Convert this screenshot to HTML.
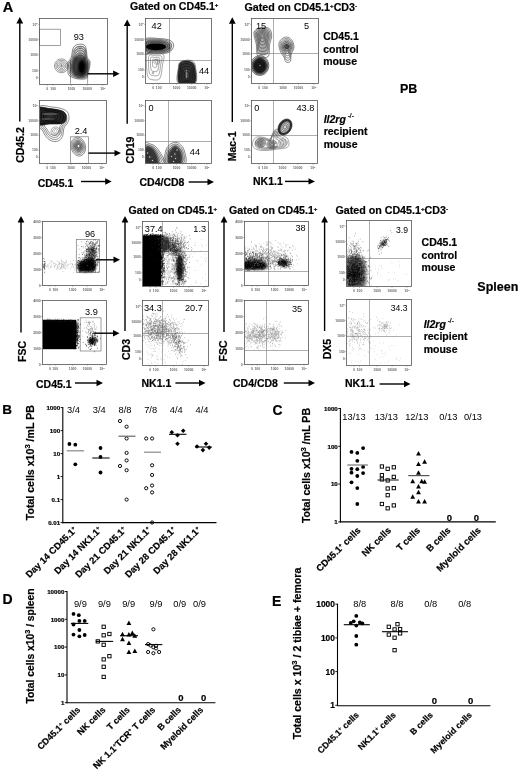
<!DOCTYPE html>
<html><head><meta charset="utf-8"><style>
html,body{margin:0;padding:0;background:#fff;}
svg{display:block;font-family:"Liberation Sans",Arial,sans-serif;}
.b{stroke:#000;stroke-width:0.2px;}
</style></head><body>
<svg width="520" height="772" viewBox="0 0 520 772">
<rect width="520" height="772" fill="#fff"/>
<line x1="169.5" y1="18.5" x2="169.5" y2="83" stroke="#777" stroke-width="0.6" />
<line x1="145" y1="60.5" x2="211.5" y2="60.5" stroke="#777" stroke-width="0.6" />
<line x1="168.5" y1="100.8" x2="168.5" y2="163.2" stroke="#777" stroke-width="0.6" />
<line x1="145.2" y1="141.5" x2="211.2" y2="141.5" stroke="#777" stroke-width="0.6" />
<line x1="273.5" y1="18.5" x2="273.5" y2="83.6" stroke="#777" stroke-width="0.6" />
<line x1="251.3" y1="53.5" x2="318" y2="53.5" stroke="#777" stroke-width="0.6" />
<line x1="273.5" y1="100.5" x2="273.5" y2="163.6" stroke="#777" stroke-width="0.6" />
<line x1="251.3" y1="135.5" x2="317.5" y2="135.5" stroke="#777" stroke-width="0.6" />
<line x1="162.5" y1="221" x2="162.5" y2="286.3" stroke="#777" stroke-width="0.6" />
<line x1="142.5" y1="251.5" x2="208" y2="251.5" stroke="#777" stroke-width="0.6" />
<line x1="162.5" y1="300.5" x2="162.5" y2="365.5" stroke="#777" stroke-width="0.6" />
<line x1="142.3" y1="333.5" x2="208" y2="333.5" stroke="#777" stroke-width="0.6" />
<line x1="268.5" y1="221.3" x2="268.5" y2="285.4" stroke="#777" stroke-width="0.6" />
<line x1="244.2" y1="271.5" x2="308.5" y2="271.5" stroke="#777" stroke-width="0.6" />
<line x1="266.5" y1="300.5" x2="266.5" y2="364.6" stroke="#777" stroke-width="0.6" />
<line x1="244.2" y1="350.5" x2="308.7" y2="350.5" stroke="#777" stroke-width="0.6" />
<line x1="369.5" y1="220.8" x2="369.5" y2="286.4" stroke="#777" stroke-width="0.6" />
<line x1="346.3" y1="258.5" x2="411.5" y2="258.5" stroke="#777" stroke-width="0.6" />
<line x1="369.5" y1="299.8" x2="369.5" y2="365.5" stroke="#777" stroke-width="0.6" />
<line x1="346.2" y1="336.5" x2="411" y2="336.5" stroke="#777" stroke-width="0.6" />
<rect x="39.5" y="29.2" width="20.9" height="16.2" fill="none" stroke="#777" stroke-width="0.7"/>
<rect x="70.5" y="136.8" width="18" height="26.5" fill="none" stroke="#777" stroke-width="0.7"/>
<rect x="76.3" y="239.5" width="23.2" height="32.8" fill="none" stroke="#777" stroke-width="0.7"/>
<rect x="80.2" y="317.8" width="20.8" height="33.2" fill="none" stroke="#777" stroke-width="0.7"/>
<defs><filter id="b1" x="-30%" y="-30%" width="160%" height="160%"><feGaussianBlur stdDeviation="0.8"/></filter><filter id="b2" x="-30%" y="-30%" width="160%" height="160%"><feGaussianBlur stdDeviation="1.5"/></filter><filter id="b05" x="-30%" y="-30%" width="160%" height="160%"><feGaussianBlur stdDeviation="0.45"/></filter>
<clipPath id="cP1"><rect x="39.5" y="18.5" width="67.7" height="65.7"/></clipPath>
<clipPath id="cP2"><rect x="145" y="18.5" width="66.5" height="64.5"/></clipPath>
<clipPath id="cP3"><rect x="251.3" y="18.5" width="66.7" height="65.1"/></clipPath>
<clipPath id="cP4"><rect x="39.8" y="100.5" width="66.8" height="62.8"/></clipPath>
<clipPath id="cP5"><rect x="145.2" y="100.8" width="66" height="62.4"/></clipPath>
<clipPath id="cP6"><rect x="251.3" y="100.5" width="66.2" height="63.1"/></clipPath>
<clipPath id="cS1"><rect x="42.5" y="221" width="64" height="64.5"/></clipPath>
<clipPath id="cS2"><rect x="142.5" y="221" width="65.5" height="65.3"/></clipPath>
<clipPath id="cS3"><rect x="244.2" y="221.3" width="64.3" height="64.1"/></clipPath>
<clipPath id="cS4"><rect x="346.3" y="220.8" width="65.2" height="65.6"/></clipPath>
<clipPath id="cS5"><rect x="42.5" y="300.5" width="63.8" height="64.1"/></clipPath>
<clipPath id="cS6"><rect x="142.3" y="300.5" width="65.7" height="65"/></clipPath>
<clipPath id="cS7"><rect x="244.2" y="300.5" width="64.5" height="64.1"/></clipPath>
<clipPath id="cS8"><rect x="346.2" y="299.8" width="64.8" height="65.7"/></clipPath>
</defs>
<line x1="70.5" y1="60" x2="70.5" y2="83.8" stroke="#777" stroke-width="0.7" />
<line x1="87.6" y1="60" x2="87.6" y2="83.8" stroke="#777" stroke-width="0.7" />
<g clip-path="url(#cP1)"><path d="M74 57C75.83 55.17 79.83 54.5 82 55C84.17 55.5 86 57.83 87 60C88 62.17 88.17 65.33 88 68C87.83 70.67 87.33 74.33 86 76C84.67 77.67 82.17 78.17 80 78C77.83 77.83 74.5 77 73 75C71.5 73 70.83 69 71 66C71.17 63 72.17 58.83 74 57Z" fill="#000" fill-opacity="0.75" filter="url(#b2)"/></g>
<g clip-path="url(#cP1)"><path d="M86 67.5C86 68.75 85.8 70.17 85.46 71.25C85.13 72.33 84.58 73.37 84 74C83.42 74.62 82.67 75 82 75C81.33 75 80.58 74.62 80 74C79.42 73.37 78.87 72.33 78.54 71.25C78.2 70.17 78 68.75 78 67.5C78 66.25 78.2 64.83 78.54 63.75C78.87 62.67 79.42 61.63 80 61C80.58 60.38 81.33 60 82 60C82.67 60 83.42 60.38 84 61C84.58 61.63 85.13 62.67 85.46 63.75C85.8 64.83 86 66.25 86 67.5Z" fill="#000" fill-opacity="1" filter="url(#b1)"/></g>
<g clip-path="url(#cP1)"><path d="M71.2 57.5C72.12 54.95 72.13 49.98 73.3 47.8C74.47 45.62 76.35 44.85 78.2 44.4C80.05 43.95 83.02 44.07 84.4 45.1C85.78 46.13 86.03 48.53 86.5 50.6C86.97 52.67 86.62 55.65 87.2 57.5C87.78 59.35 89.67 59.85 90 61.7C90.33 63.55 89.6 66.52 89.2 68.6C88.8 70.68 88.05 72.58 87.6 74.2C87.15 75.82 87.38 77.5 86.5 78.3C85.62 79.1 84.15 79 82.3 79C80.45 79 77.58 78.88 75.4 78.3C73.22 77.72 70.47 76.77 69.2 75.5C67.93 74.23 68.03 72.77 67.8 70.7C67.57 68.63 67.23 65.3 67.8 63.1C68.37 60.9 70.28 60.05 71.2 57.5Z" fill="none" stroke="#222" stroke-width="0.55"/><path d="M72.18 58.35C73.01 56.05 73.02 51.58 74.07 49.62C75.12 47.66 76.81 46.97 78.48 46.56C80.15 46.16 82.81 46.26 84.06 47.19C85.31 48.12 85.53 50.28 85.95 52.14C86.37 54 86.06 56.69 86.58 58.35C87.1 60.02 88.8 60.47 89.1 62.13C89.4 63.8 88.74 66.46 88.38 68.34C88.02 70.21 87.34 71.92 86.94 73.38C86.53 74.83 86.75 76.35 85.95 77.07C85.16 77.79 83.84 77.7 82.17 77.7C80.5 77.7 77.93 77.59 75.96 77.07C74 76.54 71.52 75.69 70.38 74.55C69.24 73.41 69.33 72.09 69.12 70.23C68.91 68.37 68.61 65.37 69.12 63.39C69.63 61.41 71.36 60.65 72.18 58.35Z" fill="none" stroke="#222" stroke-width="0.55"/><path d="M73.16 59.2C73.89 57.16 73.91 53.19 74.84 51.44C75.77 49.69 77.28 49.08 78.76 48.72C80.24 48.36 82.61 48.45 83.72 49.28C84.83 50.11 85.03 52.03 85.4 53.68C85.77 55.33 85.49 57.72 85.96 59.2C86.43 60.68 87.93 61.08 88.2 62.56C88.47 64.04 87.88 66.41 87.56 68.08C87.24 69.75 86.64 71.27 86.28 72.56C85.92 73.85 86.11 75.2 85.4 75.84C84.69 76.48 83.52 76.4 82.04 76.4C80.56 76.4 78.27 76.31 76.52 75.84C74.77 75.37 72.57 74.61 71.56 73.6C70.55 72.59 70.63 71.41 70.44 69.76C70.25 68.11 69.99 65.44 70.44 63.68C70.89 61.92 72.43 61.24 73.16 59.2Z" fill="none" stroke="#222" stroke-width="0.55"/><path d="M74.14 60.05C74.78 58.27 74.79 54.79 75.61 53.26C76.43 51.73 77.75 51.2 79.04 50.88C80.34 50.57 82.41 50.65 83.38 51.37C84.35 52.09 84.52 53.77 84.85 55.22C85.18 56.67 84.93 58.75 85.34 60.05C85.75 61.34 87.07 61.7 87.3 62.99C87.53 64.28 87.02 66.36 86.74 67.82C86.46 69.28 85.93 70.61 85.62 71.74C85.3 72.87 85.47 74.05 84.85 74.61C84.23 75.17 83.2 75.1 81.91 75.1C80.61 75.1 78.61 75.02 77.08 74.61C75.55 74.2 73.63 73.54 72.74 72.65C71.85 71.76 71.92 70.74 71.76 69.29C71.6 67.84 71.36 65.51 71.76 63.97C72.16 62.43 73.5 61.83 74.14 60.05Z" fill="none" stroke="#222" stroke-width="0.55"/><path d="M75.12 60.9C75.67 59.37 75.68 56.39 76.38 55.08C77.08 53.77 78.21 53.31 79.32 53.04C80.43 52.77 82.21 52.84 83.04 53.46C83.87 54.08 84.02 55.52 84.3 56.76C84.58 58 84.37 59.79 84.72 60.9C85.07 62.01 86.2 62.31 86.4 63.42C86.6 64.53 86.16 66.31 85.92 67.56C85.68 68.81 85.23 69.95 84.96 70.92C84.69 71.89 84.83 72.9 84.3 73.38C83.77 73.86 82.89 73.8 81.78 73.8C80.67 73.8 78.95 73.73 77.64 73.38C76.33 73.03 74.68 72.46 73.92 71.7C73.16 70.94 73.22 70.06 73.08 68.82C72.94 67.58 72.74 65.58 73.08 64.26C73.42 62.94 74.57 62.43 75.12 60.9Z" fill="none" stroke="#222" stroke-width="0.55"/><path d="M76.1 61.75C76.56 60.48 76.57 57.99 77.15 56.9C77.73 55.81 78.67 55.43 79.6 55.2C80.52 54.98 82.01 55.03 82.7 55.55C83.39 56.07 83.52 57.27 83.75 58.3C83.98 59.33 83.81 60.83 84.1 61.75C84.39 62.67 85.33 62.93 85.5 63.85C85.67 64.78 85.3 66.26 85.1 67.3C84.9 68.34 84.52 69.29 84.3 70.1C84.08 70.91 84.19 71.75 83.75 72.15C83.31 72.55 82.58 72.5 81.65 72.5C80.73 72.5 79.29 72.44 78.2 72.15C77.11 71.86 75.73 71.38 75.1 70.75C74.47 70.12 74.52 69.38 74.4 68.35C74.28 67.32 74.12 65.65 74.4 64.55C74.68 63.45 75.64 63.02 76.1 61.75Z" fill="none" stroke="#222" stroke-width="0.55"/></g>
<g clip-path="url(#cP1)"><path d="M85.3 50.8C85.3 51.57 85.03 52.44 84.59 53.1C84.15 53.76 83.41 54.4 82.65 54.78C81.89 55.17 80.88 55.4 80 55.4C79.12 55.4 78.11 55.17 77.35 54.78C76.59 54.4 75.85 53.76 75.41 53.1C74.97 52.44 74.7 51.57 74.7 50.8C74.7 50.03 74.97 49.16 75.41 48.5C75.85 47.84 76.59 47.2 77.35 46.82C78.11 46.43 79.12 46.2 80 46.2C80.88 46.2 81.89 46.43 82.65 46.82C83.41 47.2 84.15 47.84 84.59 48.5C85.03 49.16 85.3 50.03 85.3 50.8Z" fill="none" stroke="#444" stroke-width="0.5"/><path d="M83.97 50.8C83.97 51.38 83.77 52.03 83.44 52.52C83.11 53.02 82.56 53.5 81.99 53.79C81.41 54.08 80.66 54.25 80 54.25C79.34 54.25 78.59 54.08 78.01 53.79C77.44 53.5 76.89 53.02 76.56 52.52C76.23 52.03 76.03 51.37 76.03 50.8C76.03 50.23 76.23 49.57 76.56 49.08C76.89 48.58 77.44 48.1 78.01 47.81C78.59 47.52 79.34 47.35 80 47.35C80.66 47.35 81.41 47.52 81.99 47.81C82.56 48.1 83.11 48.58 83.44 49.07C83.77 49.57 83.97 50.22 83.97 50.8Z" fill="none" stroke="#444" stroke-width="0.5"/><path d="M82.65 50.8C82.65 51.18 82.52 51.62 82.29 51.95C82.07 52.28 81.71 52.6 81.33 52.79C80.94 52.98 80.44 53.1 80 53.1C79.56 53.1 79.06 52.98 78.67 52.79C78.29 52.6 77.93 52.28 77.71 51.95C77.48 51.62 77.35 51.18 77.35 50.8C77.35 50.42 77.48 49.98 77.71 49.65C77.93 49.32 78.29 49 78.67 48.81C79.06 48.62 79.56 48.5 80 48.5C80.44 48.5 80.94 48.62 81.33 48.81C81.71 49 82.07 49.32 82.29 49.65C82.52 49.98 82.65 50.42 82.65 50.8Z" fill="none" stroke="#444" stroke-width="0.5"/><path d="M81.33 50.8C81.33 50.99 81.26 51.21 81.15 51.38C81.04 51.54 80.85 51.7 80.66 51.8C80.47 51.89 80.22 51.95 80 51.95C79.78 51.95 79.53 51.89 79.34 51.8C79.15 51.7 78.96 51.54 78.85 51.38C78.74 51.21 78.67 50.99 78.67 50.8C78.67 50.61 78.74 50.39 78.85 50.22C78.96 50.06 79.15 49.9 79.34 49.8C79.53 49.71 79.78 49.65 80 49.65C80.22 49.65 80.47 49.71 80.66 49.8C80.85 49.9 81.04 50.06 81.15 50.22C81.26 50.39 81.33 50.61 81.33 50.8Z" fill="none" stroke="#444" stroke-width="0.5"/></g>
<g clip-path="url(#cP1)"><path d="M68.5 65.8C68.5 66.95 68.15 68.25 67.56 69.25C66.98 70.25 66.01 71.2 65 71.78C63.99 72.35 62.67 72.7 61.5 72.7C60.33 72.7 59.01 72.35 58 71.78C56.99 71.2 56.02 70.25 55.44 69.25C54.85 68.25 54.5 66.95 54.5 65.8C54.5 64.65 54.85 63.35 55.44 62.35C56.02 61.35 56.99 60.4 58 59.82C59.01 59.25 60.33 58.9 61.5 58.9C62.67 58.9 63.99 59.25 65 59.82C66.01 60.4 66.98 61.35 67.56 62.35C68.15 63.35 68.5 64.65 68.5 65.8Z" fill="none" stroke="#444" stroke-width="0.55"/><path d="M67.1 65.8C67.1 66.72 66.82 67.76 66.35 68.56C65.88 69.36 65.11 70.12 64.3 70.58C63.49 71.04 62.43 71.32 61.5 71.32C60.57 71.32 59.51 71.04 58.7 70.58C57.89 70.12 57.12 69.36 56.65 68.56C56.18 67.76 55.9 66.72 55.9 65.8C55.9 64.88 56.18 63.84 56.65 63.04C57.12 62.24 57.89 61.48 58.7 61.02C59.51 60.56 60.57 60.28 61.5 60.28C62.43 60.28 63.49 60.56 64.3 61.02C65.11 61.48 65.88 62.24 66.35 63.04C66.82 63.84 67.1 64.88 67.1 65.8Z" fill="none" stroke="#444" stroke-width="0.55"/><path d="M65.7 65.8C65.7 66.49 65.49 67.27 65.14 67.87C64.79 68.47 64.21 69.04 63.6 69.39C62.99 69.73 62.2 69.94 61.5 69.94C60.8 69.94 60.01 69.73 59.4 69.39C58.79 69.04 58.21 68.47 57.86 67.87C57.51 67.27 57.3 66.49 57.3 65.8C57.3 65.11 57.51 64.33 57.86 63.73C58.21 63.13 58.79 62.56 59.4 62.21C60.01 61.87 60.8 61.66 61.5 61.66C62.2 61.66 62.99 61.87 63.6 62.21C64.21 62.56 64.79 63.13 65.14 63.73C65.49 64.33 65.7 65.11 65.7 65.8Z" fill="none" stroke="#444" stroke-width="0.55"/><path d="M64.3 65.8C64.3 66.26 64.16 66.78 63.92 67.18C63.69 67.58 63.3 67.96 62.9 68.19C62.5 68.42 61.97 68.56 61.5 68.56C61.03 68.56 60.5 68.42 60.1 68.19C59.7 67.96 59.31 67.58 59.08 67.18C58.84 66.78 58.7 66.26 58.7 65.8C58.7 65.34 58.84 64.82 59.08 64.42C59.31 64.02 59.7 63.64 60.1 63.41C60.5 63.18 61.03 63.04 61.5 63.04C61.97 63.04 62.5 63.18 62.9 63.41C63.3 63.64 63.69 64.02 63.92 64.42C64.16 64.82 64.3 65.34 64.3 65.8Z" fill="none" stroke="#444" stroke-width="0.55"/><path d="M62.9 65.8C62.9 66.03 62.83 66.29 62.71 66.49C62.6 66.69 62.4 66.88 62.2 67C62 67.11 61.73 67.18 61.5 67.18C61.27 67.18 61 67.11 60.8 67C60.6 66.88 60.4 66.69 60.29 66.49C60.17 66.29 60.1 66.03 60.1 65.8C60.1 65.57 60.17 65.31 60.29 65.11C60.4 64.91 60.6 64.72 60.8 64.6C61 64.49 61.27 64.42 61.5 64.42C61.73 64.42 62 64.49 62.2 64.6C62.4 64.72 62.6 64.91 62.71 65.11C62.83 65.31 62.9 65.57 62.9 65.8Z" fill="none" stroke="#444" stroke-width="0.55"/></g>
<circle cx="61.5" cy="65.8" r="0.6" fill="#333"/>
<g clip-path="url(#cP4)"><path d="M39 107C41.17 103.83 48.17 106.7 52 107C55.83 107.3 59.42 107.97 62 108.8C64.58 109.63 66.33 110.47 67.5 112C68.67 113.53 69 116.17 69 118C69 119.83 68.33 121.33 67.5 123C66.67 124.67 64.83 125.75 64 128C63.17 130.25 63.5 134.33 62.5 136.5C61.5 138.67 59.78 140.25 58 141C56.22 141.75 53.75 141.67 51.8 141C49.85 140.33 47.9 138.83 46.3 137C44.7 135.17 43.42 131.83 42.2 130C40.98 128.17 39.53 129.83 39 126C38.47 122.17 36.83 110.17 39 107Z" fill="none" stroke="#333" stroke-width="0.55"/><path d="M40.87 109.53C42.74 106.79 48.81 109.27 52.13 109.53C55.46 109.79 58.56 110.37 60.8 111.09C63.04 111.82 64.56 112.54 65.57 113.87C66.58 115.2 66.87 117.48 66.87 119.07C66.87 120.66 66.29 121.96 65.57 123.4C64.84 124.84 63.26 125.78 62.53 127.73C61.81 129.68 62.1 133.22 61.23 135.1C60.37 136.98 58.88 138.35 57.33 139C55.79 139.65 53.65 139.58 51.96 139C50.27 138.42 48.58 137.12 47.19 135.53C45.81 133.94 44.69 131.06 43.64 129.47C42.59 127.88 41.33 129.32 40.87 126C40.4 122.68 38.99 112.28 40.87 109.53Z" fill="none" stroke="#333" stroke-width="0.55"/><path d="M42.73 112.07C44.32 109.74 49.46 111.85 52.27 112.07C55.08 112.29 57.71 112.78 59.6 113.39C61.49 114 62.78 114.61 63.63 115.73C64.49 116.86 64.73 118.79 64.73 120.13C64.73 121.48 64.24 122.58 63.63 123.8C63.02 125.02 61.68 125.82 61.07 127.47C60.46 129.12 60.7 132.11 59.97 133.7C59.23 135.29 57.97 136.45 56.67 137C55.36 137.55 53.55 137.49 52.12 137C50.69 136.51 49.26 135.41 48.09 134.07C46.91 132.72 45.97 130.28 45.08 128.93C44.19 127.59 43.12 128.81 42.73 126C42.34 123.19 41.14 114.39 42.73 112.07Z" fill="none" stroke="#333" stroke-width="0.55"/><path d="M44.6 114.6C45.9 112.7 50.1 114.42 52.4 114.6C54.7 114.78 56.85 115.18 58.4 115.68C59.95 116.18 61 116.68 61.7 117.6C62.4 118.52 62.6 120.1 62.6 121.2C62.6 122.3 62.2 123.2 61.7 124.2C61.2 125.2 60.1 125.85 59.6 127.2C59.1 128.55 59.3 131 58.7 132.3C58.1 133.6 57.07 134.55 56 135C54.93 135.45 53.45 135.4 52.28 135C51.11 134.6 49.94 133.7 48.98 132.6C48.02 131.5 47.25 129.5 46.52 128.4C45.79 127.3 44.92 128.3 44.6 126C44.28 123.7 43.3 116.5 44.6 114.6Z" fill="none" stroke="#333" stroke-width="0.55"/></g>
<g clip-path="url(#cP4)"><path d="M60 131.2C60 131.9 59.77 132.69 59.4 133.3C59.02 133.91 58.4 134.49 57.75 134.84C57.1 135.19 56.25 135.4 55.5 135.4C54.75 135.4 53.9 135.19 53.25 134.84C52.6 134.49 51.98 133.91 51.6 133.3C51.23 132.69 51 131.9 51 131.2C51 130.5 51.23 129.71 51.6 129.1C51.98 128.49 52.6 127.91 53.25 127.56C53.9 127.21 54.75 127 55.5 127C56.25 127 57.1 127.21 57.75 127.56C58.4 127.91 59.02 128.49 59.4 129.1C59.77 129.71 60 130.5 60 131.2Z" fill="none" stroke="#555" stroke-width="0.5"/><path d="M58.42 131.2C58.42 131.66 58.28 132.17 58.03 132.56C57.79 132.96 57.38 133.34 56.96 133.56C56.54 133.79 55.99 133.93 55.5 133.93C55.01 133.93 54.46 133.79 54.04 133.56C53.62 133.34 53.21 132.96 52.97 132.56C52.72 132.17 52.58 131.66 52.58 131.2C52.58 130.74 52.72 130.23 52.97 129.83C53.21 129.44 53.62 129.06 54.04 128.84C54.46 128.61 55.01 128.47 55.5 128.47C55.99 128.47 56.54 128.61 56.96 128.84C57.38 129.06 57.79 129.44 58.03 129.83C58.28 130.23 58.42 130.74 58.42 131.2Z" fill="none" stroke="#555" stroke-width="0.5"/><path d="M56.85 131.2C56.85 131.41 56.78 131.65 56.67 131.83C56.56 132.01 56.37 132.19 56.17 132.29C55.98 132.4 55.73 132.46 55.5 132.46C55.27 132.46 55.02 132.4 54.83 132.29C54.63 132.19 54.44 132.01 54.33 131.83C54.22 131.65 54.15 131.41 54.15 131.2C54.15 130.99 54.22 130.75 54.33 130.57C54.44 130.39 54.63 130.21 54.83 130.11C55.02 130 55.27 129.94 55.5 129.94C55.73 129.94 55.98 130 56.17 130.11C56.37 130.21 56.56 130.39 56.67 130.57C56.78 130.75 56.85 130.99 56.85 131.2Z" fill="none" stroke="#555" stroke-width="0.5"/></g>
<g clip-path="url(#cP4)"><path d="M38 108.2C40 105.63 46.2 108.23 50 108.6C53.8 108.97 58.33 109.7 60.8 110.4C63.27 111.1 63.88 111.7 64.8 112.8C65.72 113.9 66.23 115.55 66.3 117C66.37 118.45 66.08 120.38 65.2 121.5C64.32 122.62 63.53 123.28 61 123.7C58.47 124.12 53.83 123.95 50 124C46.17 124.05 40 126.63 38 124C36 121.37 36 110.77 38 108.2Z" fill="#1a1a1a" fill-opacity="0.95" filter="url(#b05)"/></g>
<g clip-path="url(#cP4)"><path d="M38 108.2C40 105.63 46.2 108.23 50 108.6C53.8 108.97 58.33 109.7 60.8 110.4C63.27 111.1 63.88 111.7 64.8 112.8C65.72 113.9 66.23 115.55 66.3 117C66.37 118.45 66.08 120.38 65.2 121.5C64.32 122.62 63.53 123.28 61 123.7C58.47 124.12 53.83 123.95 50 124C46.17 124.05 40 126.63 38 124C36 121.37 36 110.77 38 108.2Z" fill="none" stroke="#000" stroke-width="0.6"/><path d="M40.1 109.65C41.75 107.53 46.87 109.68 50 109.98C53.13 110.28 56.88 110.89 58.91 111.47C60.94 112.05 61.45 112.54 62.21 113.45C62.97 114.35 63.39 115.72 63.45 116.91C63.5 118.11 63.27 119.7 62.54 120.62C61.81 121.55 61.17 122.1 59.08 122.44C56.98 122.78 53.16 122.65 50 122.69C46.84 122.73 41.75 124.86 40.1 122.69C38.45 120.52 38.45 111.77 40.1 109.65Z" fill="none" stroke="#000" stroke-width="0.6"/><path d="M42.2 111.11C43.5 109.44 47.53 111.13 50 111.36C52.47 111.6 55.42 112.08 57.02 112.53C58.62 112.99 59.02 113.38 59.62 114.09C60.22 114.81 60.55 115.88 60.59 116.83C60.64 117.77 60.45 119.02 59.88 119.75C59.31 120.48 58.8 120.91 57.15 121.18C55.5 121.45 52.49 121.34 50 121.38C47.51 121.41 43.5 123.09 42.2 121.38C40.9 119.66 40.9 112.77 42.2 111.11Z" fill="none" stroke="#000" stroke-width="0.6"/><path d="M44.3 112.56C45.25 111.34 48.2 112.57 50 112.75C51.8 112.92 53.96 113.27 55.13 113.6C56.3 113.94 56.59 114.22 57.03 114.74C57.47 115.26 57.71 116.05 57.74 116.74C57.77 117.43 57.64 118.34 57.22 118.88C56.8 119.41 56.43 119.72 55.23 119.92C54.02 120.12 51.82 120.04 50 120.06C48.18 120.09 45.25 121.31 44.3 120.06C43.35 118.81 43.35 113.78 44.3 112.56Z" fill="none" stroke="#000" stroke-width="0.6"/><path d="M46.4 114.01C47 113.24 48.86 114.02 50 114.13C51.14 114.24 52.5 114.46 53.24 114.67C53.98 114.88 54.16 115.06 54.44 115.39C54.71 115.72 54.87 116.22 54.89 116.65C54.91 117.09 54.83 117.67 54.56 118C54.3 118.33 54.06 118.53 53.3 118.66C52.54 118.78 51.15 118.73 50 118.75C48.85 118.77 47 119.54 46.4 118.75C45.8 117.96 45.8 114.78 46.4 114.01Z" fill="none" stroke="#000" stroke-width="0.6"/></g>
<g clip-path="url(#cP4)"><path d="M58 114C58 114.2 57.59 114.43 56.93 114.6C56.26 114.77 55.15 114.94 54 115.04C52.85 115.14 51.33 115.2 50 115.2C48.67 115.2 47.15 115.14 46 115.04C44.85 114.94 43.74 114.77 43.07 114.6C42.41 114.43 42 114.2 42 114C42 113.8 42.41 113.57 43.07 113.4C43.74 113.23 44.85 113.06 46 112.96C47.15 112.86 48.67 112.8 50 112.8C51.33 112.8 52.85 112.86 54 112.96C55.15 113.06 56.26 113.23 56.93 113.4C57.59 113.57 58 113.8 58 114Z" fill="#fff" fill-opacity="0.25" filter="url(#b05)"/></g>
<g clip-path="url(#cP4)"><path d="M55 119C55 119.17 54.65 119.36 54.06 119.5C53.48 119.64 52.51 119.78 51.5 119.87C50.49 119.95 49.17 120 48 120C46.83 120 45.51 119.95 44.5 119.87C43.49 119.78 42.52 119.64 41.94 119.5C41.35 119.36 41 119.17 41 119C41 118.83 41.35 118.64 41.94 118.5C42.52 118.36 43.49 118.22 44.5 118.13C45.51 118.05 46.83 118 48 118C49.17 118 50.49 118.05 51.5 118.13C52.51 118.22 53.48 118.36 54.06 118.5C54.65 118.64 55 118.83 55 119Z" fill="#fff" fill-opacity="0.2" filter="url(#b05)"/></g>
<g clip-path="url(#cP4)"><path d="M56.6 131.2C56.6 131.38 56.54 131.59 56.45 131.75C56.36 131.91 56.21 132.06 56.05 132.15C55.89 132.24 55.68 132.3 55.5 132.3C55.32 132.3 55.11 132.24 54.95 132.15C54.79 132.06 54.64 131.91 54.55 131.75C54.46 131.59 54.4 131.38 54.4 131.2C54.4 131.02 54.46 130.81 54.55 130.65C54.64 130.49 54.79 130.34 54.95 130.25C55.11 130.16 55.32 130.1 55.5 130.1C55.68 130.1 55.89 130.16 56.05 130.25C56.21 130.34 56.36 130.49 56.45 130.65C56.54 130.81 56.6 131.02 56.6 131.2Z" fill="#fff" fill-opacity="1"/></g>
<g clip-path="url(#cP4)"><path d="M82.7 145.36C82.91 146.34 82.92 147.5 82.74 148.42C82.55 149.35 82.11 150.29 81.58 150.91C81.05 151.54 80.28 152.01 79.55 152.17C78.81 152.32 77.92 152.2 77.18 151.85C76.44 151.5 75.66 150.81 75.11 150.04C74.56 149.28 74.11 148.21 73.9 147.24C73.69 146.26 73.68 145.1 73.86 144.18C74.05 143.25 74.49 142.31 75.02 141.69C75.55 141.06 76.32 140.59 77.05 140.43C77.79 140.28 78.68 140.4 79.42 140.75C80.16 141.1 80.94 141.79 81.49 142.56C82.04 143.32 82.49 144.39 82.7 145.36Z" fill="#222" fill-opacity="0.5" filter="url(#b1)"/></g>
<g clip-path="url(#cP4)"><path d="M85.34 145.1C85.68 146.67 85.7 148.52 85.4 150C85.1 151.48 84.4 152.99 83.55 153.98C82.7 154.98 81.47 155.74 80.3 155.99C79.12 156.24 77.69 156.05 76.51 155.48C75.32 154.91 74.07 153.82 73.2 152.59C72.32 151.36 71.59 149.66 71.26 148.1C70.92 146.53 70.9 144.68 71.2 143.2C71.5 141.72 72.2 140.21 73.05 139.22C73.9 138.22 75.13 137.46 76.3 137.21C77.48 136.96 78.91 137.15 80.09 137.72C81.28 138.29 82.53 139.38 83.4 140.61C84.28 141.84 85.01 143.54 85.34 145.1Z" fill="none" stroke="#333" stroke-width="0.55"/><path d="M84.22 145.33C84.5 146.64 84.51 148.2 84.26 149.44C84.01 150.68 83.42 151.95 82.71 152.79C82 153.63 80.96 154.26 79.98 154.47C78.99 154.68 77.79 154.52 76.79 154.04C75.8 153.57 74.75 152.65 74.02 151.62C73.28 150.58 72.66 149.16 72.38 147.84C72.1 146.53 72.09 144.97 72.34 143.73C72.59 142.49 73.18 141.22 73.89 140.38C74.6 139.54 75.64 138.91 76.62 138.7C77.61 138.49 78.81 138.65 79.81 139.12C80.8 139.6 81.85 140.52 82.58 141.55C83.32 142.58 83.94 144.01 84.22 145.33Z" fill="none" stroke="#333" stroke-width="0.55"/><path d="M83.09 145.55C83.32 146.61 83.33 147.87 83.13 148.88C82.92 149.89 82.45 150.91 81.87 151.59C81.29 152.27 80.46 152.78 79.66 152.95C78.86 153.12 77.89 152.99 77.08 152.61C76.28 152.22 75.43 151.48 74.83 150.64C74.24 149.81 73.74 148.65 73.51 147.59C73.28 146.52 73.27 145.26 73.47 144.26C73.68 143.25 74.15 142.23 74.73 141.55C75.31 140.87 76.14 140.35 76.94 140.18C77.74 140.01 78.71 140.14 79.52 140.53C80.32 140.91 81.17 141.66 81.77 142.49C82.36 143.33 82.86 144.49 83.09 145.55Z" fill="none" stroke="#333" stroke-width="0.55"/><path d="M81.96 145.77C82.14 146.59 82.15 147.55 81.99 148.32C81.84 149.09 81.47 149.87 81.03 150.39C80.59 150.91 79.95 151.31 79.34 151.43C78.73 151.56 77.98 151.46 77.37 151.17C76.75 150.88 76.1 150.31 75.65 149.67C75.19 149.03 74.81 148.14 74.64 147.33C74.46 146.52 74.45 145.55 74.61 144.78C74.76 144.02 75.13 143.23 75.57 142.71C76.01 142.19 76.65 141.8 77.26 141.67C77.87 141.54 78.62 141.64 79.23 141.93C79.85 142.23 80.5 142.8 80.95 143.44C81.41 144.08 81.79 144.96 81.96 145.77Z" fill="none" stroke="#333" stroke-width="0.55"/><path d="M80.84 146C80.96 146.56 80.96 147.23 80.85 147.76C80.75 148.29 80.5 148.83 80.19 149.19C79.88 149.55 79.44 149.83 79.02 149.92C78.6 150.01 78.08 149.94 77.65 149.73C77.23 149.53 76.78 149.14 76.46 148.69C76.15 148.25 75.88 147.64 75.76 147.07C75.64 146.51 75.64 145.85 75.75 145.31C75.85 144.78 76.1 144.24 76.41 143.88C76.72 143.52 77.16 143.25 77.58 143.16C78 143.07 78.52 143.14 78.95 143.34C79.37 143.54 79.82 143.94 80.14 144.38C80.45 144.82 80.72 145.43 80.84 146Z" fill="none" stroke="#333" stroke-width="0.55"/><path d="M79.71 146.22C79.78 146.53 79.78 146.9 79.72 147.2C79.66 147.5 79.52 147.8 79.35 148C79.18 148.2 78.93 148.35 78.7 148.4C78.46 148.45 78.18 148.41 77.94 148.3C77.7 148.18 77.45 147.96 77.28 147.72C77.1 147.47 76.96 147.13 76.89 146.82C76.82 146.51 76.82 146.14 76.88 145.84C76.94 145.54 77.08 145.24 77.25 145.04C77.42 144.84 77.67 144.69 77.9 144.64C78.14 144.59 78.42 144.63 78.66 144.74C78.9 144.86 79.15 145.08 79.32 145.32C79.5 145.57 79.64 145.91 79.71 146.22Z" fill="none" stroke="#333" stroke-width="0.55"/></g>
<circle cx="78.6" cy="146" r="0.9" fill="#fff"/>
<g clip-path="url(#cP2)"><path d="M144 41C146.67 39.08 155.83 40.25 160 40.5C164.17 40.75 167.17 41.5 169 42.5C170.83 43.5 171.17 45 171 46.5C170.83 48 171.5 50.55 168 51.5C164.5 52.45 154 52.12 150 52.2C146 52.28 145 53.87 144 52C143 50.13 141.33 42.92 144 41Z" fill="#000" fill-opacity="0.55" filter="url(#b1)"/></g>
<g clip-path="url(#cP2)"><path d="M144 39.3C146.67 36.82 155.67 38.43 160 38.6C164.33 38.77 167.72 39.23 170 40.3C172.28 41.37 173.42 43.38 173.7 45C173.98 46.62 172.98 48.63 171.7 50C170.42 51.37 169.62 52.57 166 53.2C162.38 53.83 153.67 53.75 150 53.8C146.33 53.85 145 55.92 144 53.5C143 51.08 141.33 41.78 144 39.3Z" fill="none" stroke="#222" stroke-width="0.55"/><path d="M145.62 40.2C147.96 38.03 155.83 39.44 159.62 39.59C163.42 39.73 166.38 40.14 168.38 41.07C170.37 42.01 171.36 43.77 171.61 45.19C171.86 46.6 170.99 48.37 169.86 49.56C168.74 50.76 168.04 51.81 164.88 52.36C161.71 52.92 154.08 52.84 150.88 52.89C147.67 52.93 146.5 54.74 145.62 52.62C144.75 50.51 143.29 42.37 145.62 40.2Z" fill="none" stroke="#222" stroke-width="0.55"/><path d="M147.25 41.1C149.25 39.24 156 40.45 159.25 40.58C162.5 40.7 165.04 41.05 166.75 41.85C168.46 42.65 169.31 44.16 169.52 45.38C169.74 46.59 168.99 48.1 168.02 49.12C167.06 50.15 166.46 51.05 163.75 51.53C161.04 52 154.5 51.94 151.75 51.97C149 52.01 148 53.56 147.25 51.75C146.5 49.94 145.25 42.96 147.25 41.1Z" fill="none" stroke="#222" stroke-width="0.55"/><path d="M148.88 42C150.54 40.45 156.17 41.46 158.88 41.56C161.58 41.67 163.7 41.96 165.12 42.62C166.55 43.29 167.26 44.55 167.44 45.56C167.61 46.57 166.99 47.83 166.19 48.69C165.39 49.54 164.89 50.29 162.62 50.69C160.36 51.08 154.92 51.03 152.62 51.06C150.33 51.09 149.5 52.39 148.88 50.88C148.25 49.36 147.21 43.55 148.88 42Z" fill="none" stroke="#222" stroke-width="0.55"/><path d="M150.5 42.9C151.83 41.66 156.33 42.47 158.5 42.55C160.67 42.63 162.36 42.87 163.5 43.4C164.64 43.93 165.21 44.94 165.35 45.75C165.49 46.56 164.99 47.57 164.35 48.25C163.71 48.93 163.31 49.53 161.5 49.85C159.69 50.17 155.33 50.12 153.5 50.15C151.67 50.17 151 51.21 150.5 50C150 48.79 149.17 44.14 150.5 42.9Z" fill="none" stroke="#222" stroke-width="0.55"/></g>
<g clip-path="url(#cP2)"><path d="M166 46.8C166 47.37 165.49 48.01 164.66 48.5C163.83 48.99 162.44 49.46 161 49.74C159.56 50.03 157.67 50.2 156 50.2C154.33 50.2 152.44 50.03 151 49.74C149.56 49.46 148.17 48.99 147.34 48.5C146.51 48.01 146 47.37 146 46.8C146 46.23 146.51 45.59 147.34 45.1C148.17 44.61 149.56 44.14 151 43.86C152.44 43.57 154.33 43.4 156 43.4C157.67 43.4 159.56 43.57 161 43.86C162.44 44.14 163.83 44.61 164.66 45.1C165.49 45.59 166 46.23 166 46.8Z" fill="#000" fill-opacity="1" filter="url(#b05)"/></g>
<g clip-path="url(#cP2)"><path d="M147.5 53.4C149.08 51.57 153.28 53.77 156 54C158.72 54.23 162.72 52.97 163.8 54.8C164.88 56.63 163.13 61.08 162.5 65C161.87 68.92 161.58 75.83 160 78.3C158.42 80.77 155 80.02 153 79.8C151 79.58 149.08 79.47 148 77C146.92 74.53 146.58 68.93 146.5 65C146.42 61.07 145.92 55.23 147.5 53.4Z" fill="none" stroke="#555" stroke-width="0.5"/><path d="M149.25 55.41C150.46 54 153.68 55.69 155.77 55.87C157.85 56.05 160.92 55.07 161.75 56.48C162.58 57.89 161.24 61.3 160.75 64.3C160.26 67.3 160.05 72.61 158.83 74.5C157.62 76.39 155 75.81 153.47 75.65C151.93 75.48 150.46 75.39 149.63 73.5C148.8 71.61 148.55 67.32 148.48 64.3C148.42 61.28 148.04 56.81 149.25 55.41Z" fill="none" stroke="#555" stroke-width="0.5"/><path d="M151 57.41C151.84 56.44 154.08 57.61 155.53 57.73C156.98 57.86 159.12 57.18 159.69 58.16C160.27 59.14 159.34 61.51 159 63.6C158.66 65.69 158.51 69.38 157.67 70.69C156.82 72.01 155 71.61 153.93 71.49C152.87 71.38 151.84 71.32 151.27 70C150.69 68.68 150.51 65.7 150.47 63.6C150.42 61.5 150.16 58.39 151 57.41Z" fill="none" stroke="#555" stroke-width="0.5"/><path d="M152.75 59.42C153.22 58.87 154.49 59.53 155.3 59.6C156.12 59.67 157.32 59.29 157.64 59.84C157.97 60.39 157.44 61.72 157.25 62.9C157.06 64.08 156.97 66.15 156.5 66.89C156.03 67.63 155 67.41 154.4 67.34C153.8 67.28 153.23 67.24 152.9 66.5C152.57 65.76 152.47 64.08 152.45 62.9C152.42 61.72 152.28 59.97 152.75 59.42Z" fill="none" stroke="#555" stroke-width="0.5"/></g>
<g clip-path="url(#cP2)"><path d="M159.8 61.7C159.8 62.12 159.65 62.59 159.4 62.95C159.15 63.31 158.73 63.66 158.3 63.87C157.87 64.07 157.3 64.2 156.8 64.2C156.3 64.2 155.73 64.07 155.3 63.87C154.87 63.66 154.45 63.31 154.2 62.95C153.95 62.59 153.8 62.12 153.8 61.7C153.8 61.28 153.95 60.81 154.2 60.45C154.45 60.09 154.87 59.74 155.3 59.53C155.73 59.33 156.3 59.2 156.8 59.2C157.3 59.2 157.87 59.33 158.3 59.53C158.73 59.74 159.15 60.09 159.4 60.45C159.65 60.81 159.8 61.28 159.8 61.7Z" fill="none" stroke="#555" stroke-width="0.45"/><path d="M158.3 61.7C158.3 61.91 158.22 62.14 158.1 62.33C157.97 62.51 157.77 62.68 157.55 62.78C157.33 62.89 157.05 62.95 156.8 62.95C156.55 62.95 156.27 62.89 156.05 62.78C155.83 62.68 155.63 62.51 155.5 62.33C155.38 62.14 155.3 61.91 155.3 61.7C155.3 61.49 155.38 61.26 155.5 61.08C155.63 60.89 155.83 60.72 156.05 60.62C156.27 60.51 156.55 60.45 156.8 60.45C157.05 60.45 157.33 60.51 157.55 60.62C157.77 60.72 157.97 60.89 158.1 61.08C158.22 61.26 158.3 61.49 158.3 61.7Z" fill="none" stroke="#555" stroke-width="0.45"/></g>
<circle cx="153" cy="73" r="0.9" fill="none" stroke="#555" stroke-width="0.45"/>
<g clip-path="url(#cP2)"><path d="M179.2 83C176.63 80.17 178.73 69.53 179.2 66C179.67 62.47 180.2 62.53 182 61.8C183.8 61.07 187.9 60.82 190 61.6C192.1 62.38 193.83 62.93 194.6 66.5C195.37 70.07 197.17 80.25 194.6 83C192.03 85.75 181.77 85.83 179.2 83Z" fill="#2a2a2a" fill-opacity="0.9" filter="url(#b05)"/></g>
<g clip-path="url(#cP2)"><path d="M179.2 83C176.63 80.17 178.73 69.53 179.2 66C179.67 62.47 180.2 62.53 182 61.8C183.8 61.07 187.9 60.82 190 61.6C192.1 62.38 193.83 62.93 194.6 66.5C195.37 70.07 197.17 80.25 194.6 83C192.03 85.75 181.77 85.83 179.2 83Z" fill="none" stroke="#000" stroke-width="0.6"/><path d="M180.56 81.78C178.45 79.44 180.18 70.67 180.56 67.75C180.95 64.83 181.39 64.89 182.88 64.28C184.36 63.68 187.74 63.47 189.47 64.12C191.21 64.77 192.64 65.22 193.27 68.16C193.9 71.1 195.39 79.51 193.27 81.78C191.15 84.04 182.68 84.11 180.56 81.78Z" fill="none" stroke="#000" stroke-width="0.6"/><path d="M181.93 80.55C180.26 78.71 181.63 71.8 181.93 69.5C182.23 67.2 182.58 67.25 183.75 66.77C184.92 66.29 187.58 66.13 188.95 66.64C190.31 67.15 191.44 67.51 191.94 69.83C192.44 72.14 193.61 78.76 191.94 80.55C190.27 82.34 183.6 82.39 181.93 80.55Z" fill="none" stroke="#000" stroke-width="0.6"/><path d="M183.29 79.33C182.08 77.98 183.07 72.93 183.29 71.25C183.52 69.57 183.77 69.6 184.62 69.25C185.48 68.91 187.43 68.79 188.43 69.16C189.42 69.53 190.25 69.79 190.61 71.49C190.97 73.18 191.83 78.02 190.61 79.33C189.39 80.63 184.51 80.67 183.29 79.33Z" fill="none" stroke="#000" stroke-width="0.6"/><path d="M184.66 78.1C183.89 77.25 184.52 74.06 184.66 73C184.8 71.94 184.96 71.96 185.5 71.74C186.04 71.52 187.27 71.45 187.9 71.68C188.53 71.92 189.05 72.08 189.28 73.15C189.51 74.22 190.05 77.27 189.28 78.1C188.51 78.92 185.43 78.95 184.66 78.1Z" fill="none" stroke="#000" stroke-width="0.6"/></g>
<g clip-path="url(#cP2)"><path d="M178.3 83C175.47 80.5 178.02 71.42 178.3 68C178.58 64.58 178.72 63.78 180 62.5C181.28 61.22 184 60.55 186 60.3C188 60.05 190.45 60.05 192 61C193.55 61.95 194.75 62.33 195.3 66C195.85 69.67 198.13 80.17 195.3 83C192.47 85.83 181.13 85.5 178.3 83Z" fill="none" stroke="#222" stroke-width="0.55"/><path d="M179.5 82.04C177.05 79.88 179.25 72.05 179.5 69.1C179.74 66.15 179.86 65.46 180.96 64.36C182.07 63.25 184.41 62.67 186.14 62.46C187.86 62.24 189.98 62.24 191.31 63.06C192.65 63.88 193.68 64.21 194.16 67.38C194.63 70.54 196.6 79.59 194.16 82.04C191.72 84.48 181.94 84.19 179.5 82.04Z" fill="none" stroke="#222" stroke-width="0.55"/><path d="M180.69 81.08C178.64 79.26 180.49 72.68 180.69 70.2C180.9 67.72 180.99 67.14 181.93 66.21C182.86 65.28 184.83 64.8 186.28 64.62C187.72 64.44 189.5 64.44 190.62 65.12C191.75 65.81 192.62 66.09 193.02 68.75C193.42 71.41 195.07 79.02 193.02 81.08C190.96 83.13 182.75 82.89 180.69 81.08Z" fill="none" stroke="#222" stroke-width="0.55"/><path d="M181.89 80.11C180.22 78.64 181.72 73.31 181.89 71.3C182.06 69.29 182.13 68.82 182.89 68.07C183.64 67.31 185.24 66.92 186.41 66.78C187.59 66.63 189.03 66.63 189.94 67.19C190.85 67.75 191.55 67.97 191.88 70.12C192.2 72.28 193.54 78.45 191.88 80.11C190.21 81.78 183.55 81.58 181.89 80.11Z" fill="none" stroke="#222" stroke-width="0.55"/><path d="M183.09 79.15C181.81 78.03 182.96 73.94 183.09 72.4C183.21 70.86 183.27 70.5 183.85 69.92C184.43 69.35 185.65 69.05 186.55 68.94C187.45 68.82 188.55 68.82 189.25 69.25C189.95 69.68 190.49 69.85 190.74 71.5C190.98 73.15 192.01 77.88 190.74 79.15C189.46 80.43 184.36 80.28 183.09 79.15Z" fill="none" stroke="#222" stroke-width="0.55"/></g>
<g clip-path="url(#cP2)"><path d="M187.2 74C187.2 74.83 187.16 75.78 187.11 76.5C187.05 77.22 186.95 77.91 186.85 78.33C186.75 78.75 186.62 79 186.5 79C186.38 79 186.25 78.75 186.15 78.33C186.05 77.91 185.95 77.22 185.89 76.5C185.84 75.78 185.8 74.83 185.8 74C185.8 73.17 185.84 72.22 185.89 71.5C185.95 70.78 186.05 70.09 186.15 69.67C186.25 69.25 186.38 69 186.5 69C186.62 69 186.75 69.25 186.85 69.67C186.95 70.09 187.05 70.78 187.11 71.5C187.16 72.22 187.2 73.17 187.2 74Z" fill="#fff" fill-opacity="0.35" filter="url(#b05)"/></g>
<g clip-path="url(#cP5)"><path d="M145 147C146.08 144.17 149.67 146.17 151.5 147C153.33 147.83 154.83 149.17 156 152C157.17 154.83 160.33 162 158.5 164C156.67 166 147.25 166.83 145 164C142.75 161.17 143.92 149.83 145 147Z" fill="#111" fill-opacity="0.8" filter="url(#b1)"/></g>
<g clip-path="url(#cP5)"><path d="M145 144.3C145.92 140.97 148.75 143.63 150.5 144C152.25 144.37 154 145.25 155.5 146.5C157 147.75 158.2 149.58 159.5 151.5C160.8 153.42 162.55 155.92 163.3 158C164.05 160.08 167.05 163 164 164C160.95 165 148.17 167.28 145 164C141.83 160.72 144.08 147.63 145 144.3Z" fill="none" stroke="#222" stroke-width="0.55"/><path d="M145.8 145.99C146.59 143.1 149.05 145.42 150.57 145.73C152.08 146.05 153.6 146.82 154.9 147.9C156.2 148.98 157.24 150.57 158.37 152.23C159.49 153.89 161.01 156.06 161.66 157.87C162.31 159.67 164.91 162.2 162.27 163.07C159.62 163.93 148.54 165.91 145.8 163.07C143.06 160.22 145.01 148.88 145.8 145.99Z" fill="none" stroke="#222" stroke-width="0.55"/><path d="M146.6 147.69C147.27 145.24 149.35 147.2 150.63 147.47C151.92 147.74 153.2 148.38 154.3 149.3C155.4 150.22 156.28 151.56 157.23 152.97C158.19 154.37 159.47 156.21 160.02 157.73C160.57 159.26 162.77 161.4 160.53 162.13C158.3 162.87 148.92 164.54 146.6 162.13C144.28 159.73 145.93 150.13 146.6 147.69Z" fill="none" stroke="#222" stroke-width="0.55"/><path d="M147.4 149.38C147.95 147.38 149.65 148.98 150.7 149.2C151.75 149.42 152.8 149.95 153.7 150.7C154.6 151.45 155.32 152.55 156.1 153.7C156.88 154.85 157.93 156.35 158.38 157.6C158.83 158.85 160.63 160.6 158.8 161.2C156.97 161.8 149.3 163.17 147.4 161.2C145.5 159.23 146.85 151.38 147.4 149.38Z" fill="none" stroke="#222" stroke-width="0.55"/><path d="M148.2 151.07C148.63 149.52 149.95 150.76 150.77 150.93C151.58 151.1 152.4 151.52 153.1 152.1C153.8 152.68 154.36 153.54 154.97 154.43C155.57 155.33 156.39 156.49 156.74 157.47C157.09 158.44 158.49 159.8 157.07 160.27C155.64 160.73 149.68 161.8 148.2 160.27C146.72 158.73 147.77 152.63 148.2 151.07Z" fill="none" stroke="#222" stroke-width="0.55"/><path d="M149 152.77C149.31 151.66 150.25 152.54 150.83 152.67C151.42 152.79 152 153.08 152.5 153.5C153 153.92 153.4 154.53 153.83 155.17C154.27 155.81 154.85 156.64 155.1 157.33C155.35 158.03 156.35 159 155.33 159.33C154.32 159.67 150.06 160.43 149 159.33C147.94 158.24 148.69 153.88 149 152.77Z" fill="none" stroke="#222" stroke-width="0.55"/><path d="M149.8 154.46C149.98 153.79 150.55 154.33 150.9 154.4C151.25 154.47 151.6 154.65 151.9 154.9C152.2 155.15 152.44 155.52 152.7 155.9C152.96 156.28 153.31 156.78 153.46 157.2C153.61 157.62 154.21 158.2 153.6 158.4C152.99 158.6 150.43 159.06 149.8 158.4C149.17 157.74 149.62 155.13 149.8 154.46Z" fill="none" stroke="#222" stroke-width="0.55"/></g>
<g clip-path="url(#cP5)"><path d="M175 145.5C177 145.33 179.92 147.92 181 151C182.08 154.08 183.58 161.83 181.5 164C179.42 166.17 170.58 166 168.5 164C166.42 162 167.92 155.08 169 152C170.08 148.92 173 145.67 175 145.5Z" fill="#111" fill-opacity="0.8" filter="url(#b1)"/></g>
<g clip-path="url(#cP5)"><path d="M174.8 142.3C176.5 142.1 177.92 142.42 179.5 143.8C181.08 145.18 183.42 147.23 184.3 150.6C185.18 153.97 187.93 161.77 184.8 164C181.67 166.23 168.7 166.12 165.5 164C162.3 161.88 164.97 154.47 165.6 151.3C166.23 148.13 167.77 146.5 169.3 145C170.83 143.5 173.1 142.5 174.8 142.3Z" fill="none" stroke="#222" stroke-width="0.55"/><path d="M174.83 144.13C176.3 143.95 177.53 144.23 178.9 145.43C180.27 146.63 182.29 148.4 183.06 151.32C183.83 154.24 186.21 161 183.49 162.93C180.78 164.87 169.54 164.77 166.77 162.93C163.99 161.1 166.3 154.67 166.85 151.93C167.4 149.18 168.73 147.77 170.06 146.47C171.39 145.17 173.35 144.3 174.83 144.13Z" fill="none" stroke="#222" stroke-width="0.55"/><path d="M174.85 145.95C176.1 145.81 177.14 146.04 178.3 147.05C179.46 148.07 181.17 149.57 181.82 152.04C182.47 154.51 184.48 160.23 182.19 161.87C179.89 163.5 170.38 163.42 168.03 161.87C165.69 160.31 167.64 154.88 168.11 152.55C168.57 150.23 169.7 149.03 170.82 147.93C171.94 146.83 173.61 146.1 174.85 145.95Z" fill="none" stroke="#222" stroke-width="0.55"/><path d="M174.88 147.78C175.9 147.66 176.75 147.85 177.7 148.68C178.65 149.51 180.05 150.74 180.58 152.76C181.11 154.78 182.76 159.46 180.88 160.8C179 162.14 171.22 162.07 169.3 160.8C167.38 159.53 168.98 155.08 169.36 153.18C169.74 151.28 170.66 150.3 171.58 149.4C172.5 148.5 173.86 147.9 174.88 147.78Z" fill="none" stroke="#222" stroke-width="0.55"/><path d="M174.91 149.61C175.7 149.51 176.36 149.66 177.1 150.31C177.84 150.95 178.93 151.91 179.34 153.48C179.75 155.05 181.04 158.69 179.57 159.73C178.11 160.78 172.06 160.72 170.57 159.73C169.07 158.75 170.32 155.28 170.61 153.81C170.91 152.33 171.62 151.57 172.34 150.87C173.06 150.17 174.11 149.7 174.91 149.61Z" fill="none" stroke="#222" stroke-width="0.55"/><path d="M174.93 151.43C175.5 151.37 175.97 151.47 176.5 151.93C177.03 152.39 177.81 153.08 178.1 154.2C178.39 155.32 179.31 157.92 178.27 158.67C177.22 159.41 172.9 159.37 171.83 158.67C170.77 157.96 171.66 155.49 171.87 154.43C172.08 153.38 172.59 152.83 173.1 152.33C173.61 151.83 174.37 151.5 174.93 151.43Z" fill="none" stroke="#222" stroke-width="0.55"/><path d="M174.96 153.26C175.3 153.22 175.58 153.28 175.9 153.56C176.22 153.84 176.68 154.25 176.86 154.92C177.04 155.59 177.59 157.15 176.96 157.6C176.33 158.05 173.74 158.02 173.1 157.6C172.46 157.18 172.99 155.69 173.12 155.06C173.25 154.43 173.55 154.1 173.86 153.8C174.17 153.5 174.62 153.3 174.96 153.26Z" fill="none" stroke="#222" stroke-width="0.55"/></g>
<circle cx="174.8" cy="154" r="0.75" fill="#fff" fill-opacity="0.7"/>
<circle cx="175.5" cy="158.5" r="0.75" fill="#fff" fill-opacity="0.7"/>
<circle cx="173.5" cy="161.5" r="0.75" fill="#fff" fill-opacity="0.7"/>
<circle cx="149.5" cy="157" r="0.75" fill="#fff" fill-opacity="0.7"/>
<circle cx="152.5" cy="160.5" r="0.75" fill="#fff" fill-opacity="0.7"/>
<circle cx="177" cy="150" r="0.75" fill="#fff" fill-opacity="0.7"/>
<circle cx="147.5" cy="153" r="0.75" fill="#fff" fill-opacity="0.7"/>
<circle cx="171.5" cy="156.5" r="0.75" fill="#fff" fill-opacity="0.7"/>
<g clip-path="url(#cP3)"><path d="M267.2 65.8C267.2 67.17 266.83 68.72 266.21 69.9C265.59 71.08 264.57 72.22 263.5 72.9C262.43 73.58 261.03 74 259.8 74C258.57 74 257.17 73.58 256.1 72.9C255.03 72.22 254.01 71.08 253.39 69.9C252.77 68.72 252.4 67.17 252.4 65.8C252.4 64.43 252.77 62.88 253.39 61.7C254.01 60.52 255.03 59.38 256.1 58.7C257.17 58.02 258.57 57.6 259.8 57.6C261.03 57.6 262.43 58.02 263.5 58.7C264.57 59.38 265.59 60.52 266.21 61.7C266.83 62.88 267.2 64.43 267.2 65.8Z" fill="#111" fill-opacity="0.9" filter="url(#b1)"/></g>
<g clip-path="url(#cP3)"><path d="M268.8 65.5C268.8 67.15 268.34 69.02 267.59 70.45C266.84 71.88 265.6 73.25 264.3 74.07C263 74.9 261.3 75.4 259.8 75.4C258.3 75.4 256.6 74.9 255.3 74.07C254 73.25 252.76 71.88 252.01 70.45C251.26 69.02 250.8 67.15 250.8 65.5C250.8 63.85 251.26 61.98 252.01 60.55C252.76 59.12 254 57.75 255.3 56.93C256.6 56.1 258.3 55.6 259.8 55.6C261.3 55.6 263 56.1 264.3 56.93C265.6 57.75 266.84 59.12 267.59 60.55C268.34 61.98 268.8 63.85 268.8 65.5Z" fill="none" stroke="#000" stroke-width="0.55"/><path d="M267.6 65.54C267.6 66.97 267.2 68.59 266.55 69.83C265.9 71.07 264.83 72.26 263.7 72.97C262.57 73.69 261.1 74.12 259.8 74.12C258.5 74.12 257.03 73.69 255.9 72.97C254.77 72.26 253.7 71.07 253.05 69.83C252.4 68.59 252 66.97 252 65.54C252 64.11 252.4 62.49 253.05 61.25C253.7 60.01 254.77 58.82 255.9 58.11C257.03 57.39 258.5 56.96 259.8 56.96C261.1 56.96 262.57 57.39 263.7 58.11C264.83 58.82 265.9 60.01 266.55 61.25C267.2 62.49 267.6 64.11 267.6 65.54Z" fill="none" stroke="#000" stroke-width="0.55"/><path d="M266.4 65.58C266.4 66.79 266.07 68.16 265.52 69.21C264.97 70.26 264.05 71.26 263.1 71.87C262.15 72.47 260.9 72.84 259.8 72.84C258.7 72.84 257.45 72.47 256.5 71.87C255.55 71.26 254.63 70.26 254.08 69.21C253.53 68.16 253.2 66.79 253.2 65.58C253.2 64.37 253.53 63 254.08 61.95C254.63 60.9 255.55 59.9 256.5 59.29C257.45 58.69 258.7 58.32 259.8 58.32C260.9 58.32 262.15 58.69 263.1 59.29C264.05 59.9 264.97 60.9 265.52 61.95C266.07 63 266.4 64.37 266.4 65.58Z" fill="none" stroke="#000" stroke-width="0.55"/><path d="M265.2 65.62C265.2 66.61 264.93 67.73 264.48 68.59C264.03 69.45 263.28 70.27 262.5 70.76C261.72 71.26 260.7 71.56 259.8 71.56C258.9 71.56 257.88 71.26 257.1 70.76C256.32 70.27 255.57 69.45 255.12 68.59C254.67 67.73 254.4 66.61 254.4 65.62C254.4 64.63 254.67 63.51 255.12 62.65C255.57 61.79 256.32 60.97 257.1 60.48C257.88 59.98 258.9 59.68 259.8 59.68C260.7 59.68 261.72 59.98 262.5 60.48C263.28 60.97 264.03 61.79 264.48 62.65C264.93 63.51 265.2 64.63 265.2 65.62Z" fill="none" stroke="#000" stroke-width="0.55"/><path d="M264 65.66C264 66.43 263.79 67.3 263.44 67.97C263.09 68.64 262.51 69.28 261.9 69.66C261.29 70.05 260.5 70.28 259.8 70.28C259.1 70.28 258.31 70.05 257.7 69.66C257.09 69.28 256.51 68.64 256.16 67.97C255.81 67.3 255.6 66.43 255.6 65.66C255.6 64.89 255.81 64.02 256.16 63.35C256.51 62.68 257.09 62.04 257.7 61.66C258.31 61.27 259.1 61.04 259.8 61.04C260.5 61.04 261.29 61.27 261.9 61.66C262.51 62.04 263.09 62.68 263.44 63.35C263.79 64.02 264 64.89 264 65.66Z" fill="none" stroke="#000" stroke-width="0.55"/><path d="M262.8 65.7C262.8 66.25 262.65 66.87 262.4 67.35C262.15 67.83 261.73 68.28 261.3 68.56C260.87 68.83 260.3 69 259.8 69C259.3 69 258.73 68.83 258.3 68.56C257.87 68.28 257.45 67.83 257.2 67.35C256.95 66.87 256.8 66.25 256.8 65.7C256.8 65.15 256.95 64.53 257.2 64.05C257.45 63.57 257.87 63.12 258.3 62.84C258.73 62.57 259.3 62.4 259.8 62.4C260.3 62.4 260.87 62.57 261.3 62.84C261.73 63.12 262.15 63.57 262.4 64.05C262.65 64.53 262.8 65.15 262.8 65.7Z" fill="none" stroke="#000" stroke-width="0.55"/><path d="M261.6 65.74C261.6 66.07 261.51 66.44 261.36 66.73C261.21 67.02 260.96 67.29 260.7 67.45C260.44 67.62 260.1 67.72 259.8 67.72C259.5 67.72 259.16 67.62 258.9 67.45C258.64 67.29 258.39 67.02 258.24 66.73C258.09 66.44 258 66.07 258 65.74C258 65.41 258.09 65.04 258.24 64.75C258.39 64.46 258.64 64.19 258.9 64.03C259.16 63.86 259.5 63.76 259.8 63.76C260.1 63.76 260.44 63.86 260.7 64.03C260.96 64.19 261.21 64.46 261.36 64.75C261.51 65.04 261.6 65.41 261.6 65.74Z" fill="none" stroke="#000" stroke-width="0.55"/></g>
<circle cx="260" cy="65.5" r="0.8" fill="#777"/>
<g clip-path="url(#cP3)"><path d="M255.62 32.05C256.69 30.68 259.88 29.22 262 28.91C264.12 28.59 267 28.95 268.38 30.18C269.75 31.41 270.25 34 270.25 36.3C270.25 38.59 268.87 41.05 268.38 43.95C267.88 46.85 268.9 52.1 267.27 53.73C265.64 55.35 260.26 55.35 258.6 53.73C256.94 52.1 257.82 46.71 257.32 43.95C256.83 41.19 255.91 39.13 255.62 37.15C255.34 35.17 254.56 33.42 255.62 32.05Z" fill="#444" fill-opacity="0.45" filter="url(#b1)"/></g>
<g clip-path="url(#cP3)"><path d="M254.5 31C255.75 29.38 259.5 27.67 262 27.3C264.5 26.93 267.88 27.35 269.5 28.8C271.12 30.25 271.7 33.3 271.7 36C271.7 38.7 270.08 41.58 269.5 45C268.92 48.42 270.12 54.58 268.2 56.5C266.28 58.42 259.95 58.42 258 56.5C256.05 54.58 257.08 48.25 256.5 45C255.92 41.75 254.83 39.33 254.5 37C254.17 34.67 253.25 32.62 254.5 31Z" fill="none" stroke="#333" stroke-width="0.55"/><path d="M255.56 31.57C256.64 30.18 259.85 28.71 262 28.39C264.15 28.08 267.05 28.43 268.44 29.68C269.83 30.92 270.33 33.54 270.33 35.86C270.33 38.18 268.94 40.65 268.44 43.58C267.94 46.52 268.97 51.81 267.32 53.45C265.68 55.1 260.24 55.1 258.57 53.45C256.89 51.81 257.78 46.37 257.28 43.58C256.78 40.79 255.85 38.72 255.56 36.72C255.28 34.71 254.49 32.95 255.56 31.57Z" fill="none" stroke="#333" stroke-width="0.55"/><path d="M256.62 32.13C257.52 30.97 260.21 29.74 262 29.48C263.79 29.22 266.22 29.52 267.38 30.56C268.53 31.6 268.95 33.78 268.95 35.72C268.95 37.65 267.79 39.72 267.38 42.17C266.96 44.62 267.82 49.03 266.44 50.41C265.07 51.78 260.53 51.78 259.13 50.41C257.74 49.03 258.48 44.5 258.06 42.17C257.64 39.84 256.86 38.11 256.62 36.43C256.39 34.76 255.73 33.29 256.62 32.13Z" fill="none" stroke="#333" stroke-width="0.55"/><path d="M257.69 32.7C258.41 31.77 260.56 30.78 262 30.57C263.44 30.36 265.38 30.6 266.31 31.44C267.24 32.27 267.58 34.02 267.58 35.58C267.58 37.13 266.65 38.79 266.31 40.75C265.98 42.71 266.67 46.26 265.56 47.36C264.46 48.46 260.82 48.46 259.7 47.36C258.58 46.26 259.17 42.62 258.84 40.75C258.5 38.88 257.88 37.49 257.69 36.15C257.5 34.81 256.97 33.63 257.69 32.7Z" fill="none" stroke="#333" stroke-width="0.55"/><path d="M258.75 33.27C259.29 32.57 260.92 31.82 262 31.66C263.08 31.5 264.55 31.68 265.25 32.31C265.95 32.94 266.2 34.26 266.2 35.43C266.2 36.6 265.5 37.85 265.25 39.33C265 40.81 265.52 43.49 264.69 44.32C263.86 45.15 261.11 45.15 260.27 44.32C259.42 43.49 259.87 40.74 259.62 39.33C259.36 37.93 258.89 36.88 258.75 35.87C258.61 34.86 258.21 33.97 258.75 33.27Z" fill="none" stroke="#333" stroke-width="0.55"/><path d="M259.81 33.83C260.18 33.36 261.27 32.86 262 32.75C262.73 32.65 263.72 32.77 264.19 33.19C264.66 33.61 264.83 34.5 264.83 35.29C264.83 36.08 264.36 36.92 264.19 37.92C264.02 38.91 264.37 40.71 263.81 41.27C263.25 41.83 261.4 41.83 260.83 41.27C260.26 40.71 260.57 38.86 260.4 37.92C260.23 36.97 259.91 36.26 259.81 35.58C259.72 34.9 259.45 34.3 259.81 33.83Z" fill="none" stroke="#333" stroke-width="0.55"/><path d="M260.88 34.4C261.06 34.16 261.62 33.9 262 33.84C262.38 33.79 262.88 33.85 263.12 34.07C263.37 34.29 263.45 34.74 263.45 35.15C263.45 35.55 263.21 35.99 263.12 36.5C263.04 37.01 263.22 37.94 262.93 38.23C262.64 38.51 261.69 38.51 261.4 38.23C261.11 37.94 261.26 36.99 261.18 36.5C261.09 36.01 260.93 35.65 260.88 35.3C260.82 34.95 260.69 34.64 260.88 34.4Z" fill="none" stroke="#333" stroke-width="0.55"/></g>
<g clip-path="url(#cP3)"><path d="M292.1 46.5C292.1 47.5 291.82 48.63 291.36 49.5C290.9 50.37 290.14 51.2 289.35 51.7C288.56 52.2 287.52 52.5 286.6 52.5C285.68 52.5 284.64 52.2 283.85 51.7C283.06 51.2 282.3 50.37 281.84 49.5C281.38 48.63 281.1 47.5 281.1 46.5C281.1 45.5 281.38 44.37 281.84 43.5C282.3 42.63 283.06 41.8 283.85 41.3C284.64 40.8 285.68 40.5 286.6 40.5C287.52 40.5 288.56 40.8 289.35 41.3C290.14 41.8 290.9 42.63 291.36 43.5C291.82 44.37 292.1 45.5 292.1 46.5Z" fill="#333" fill-opacity="0.4" filter="url(#b1)"/></g>
<g clip-path="url(#cP3)"><path d="M283 38C284.5 37.05 286.42 36.8 288 37.3C289.58 37.8 291.52 39.22 292.5 41C293.48 42.78 294.1 45.83 293.9 48C293.7 50.17 291.9 51.75 291.3 54C290.7 56.25 291.18 60.17 290.3 61.5C289.42 62.83 287.05 62.67 286 62C284.95 61.33 285 59.42 284 57.5C283 55.58 280.83 52.92 280 50.5C279.17 48.08 278.5 45.08 279 43C279.5 40.92 281.5 38.95 283 38Z" fill="none" stroke="#333" stroke-width="0.55"/><path d="M283.54 39.25C284.83 38.43 286.47 38.22 287.83 38.65C289.19 39.07 290.85 40.29 291.69 41.82C292.54 43.35 293.07 45.97 292.89 47.83C292.72 49.69 291.18 51.05 290.66 52.98C290.15 54.91 290.56 58.27 289.8 59.42C289.05 60.56 287.01 60.42 286.11 59.85C285.21 59.27 285.25 57.63 284.4 55.98C283.54 54.34 281.68 52.05 280.96 49.98C280.25 47.9 279.68 45.33 280.11 43.54C280.53 41.75 282.25 40.06 283.54 39.25Z" fill="none" stroke="#333" stroke-width="0.55"/><path d="M284.08 40.49C285.15 39.81 286.53 39.63 287.66 39.99C288.79 40.35 290.18 41.37 290.88 42.64C291.59 43.92 292.03 46.11 291.89 47.66C291.75 49.21 290.46 50.35 290.03 51.96C289.6 53.57 289.94 56.38 289.31 57.34C288.68 58.29 286.98 58.17 286.23 57.69C285.47 57.22 285.51 55.84 284.79 54.47C284.08 53.09 282.52 51.18 281.93 49.45C281.33 47.72 280.85 45.57 281.21 44.08C281.57 42.58 283 41.17 284.08 40.49Z" fill="none" stroke="#333" stroke-width="0.55"/><path d="M284.62 41.74C285.48 41.19 286.58 41.05 287.49 41.34C288.4 41.62 289.51 42.44 290.08 43.46C290.64 44.49 291 46.24 290.88 47.49C290.77 48.74 289.73 49.65 289.39 50.94C289.04 52.23 289.32 54.49 288.81 55.25C288.3 56.02 286.94 55.92 286.34 55.54C285.74 55.16 285.76 54.05 285.19 52.95C284.62 51.85 283.37 50.32 282.89 48.93C282.41 47.54 282.03 45.81 282.31 44.62C282.6 43.42 283.75 42.29 284.62 41.74Z" fill="none" stroke="#333" stroke-width="0.55"/><path d="M285.15 42.99C285.8 42.57 286.63 42.47 287.32 42.68C288.01 42.9 288.84 43.51 289.27 44.29C289.7 45.06 289.96 46.38 289.88 47.32C289.79 48.26 289.01 48.95 288.75 49.92C288.49 50.9 288.7 52.59 288.32 53.17C287.93 53.75 286.91 53.68 286.45 53.39C286 53.1 286.02 52.27 285.59 51.44C285.15 50.61 284.21 49.45 283.85 48.4C283.49 47.36 283.2 46.06 283.42 45.15C283.64 44.25 284.5 43.4 285.15 42.99Z" fill="none" stroke="#333" stroke-width="0.55"/><path d="M285.69 44.23C286.13 43.96 286.69 43.88 287.15 44.03C287.61 44.17 288.18 44.59 288.46 45.11C288.75 45.63 288.93 46.52 288.87 47.15C288.81 47.78 288.29 48.24 288.11 48.9C287.94 49.56 288.08 50.7 287.82 51.09C287.56 51.48 286.87 51.43 286.57 51.23C286.26 51.04 286.28 50.48 285.98 49.92C285.69 49.36 285.06 48.58 284.82 47.88C284.57 47.17 284.38 46.3 284.53 45.69C284.67 45.08 285.25 44.51 285.69 44.23Z" fill="none" stroke="#333" stroke-width="0.55"/><path d="M286.23 45.48C286.46 45.34 286.74 45.3 286.98 45.38C287.22 45.45 287.51 45.66 287.66 45.93C287.8 46.2 287.89 46.66 287.87 46.98C287.84 47.3 287.57 47.54 287.48 47.88C287.38 48.22 287.46 48.8 287.32 49C287.19 49.2 286.84 49.18 286.68 49.08C286.52 48.98 286.53 48.69 286.38 48.41C286.23 48.12 285.91 47.72 285.78 47.35C285.66 46.99 285.56 46.54 285.63 46.23C285.7 45.92 286 45.62 286.23 45.48Z" fill="none" stroke="#333" stroke-width="0.55"/></g>
<g clip-path="url(#cP3)"><path d="M289.3 46.5C289.3 46.92 289.17 47.39 288.97 47.75C288.76 48.11 288.41 48.46 288.05 48.67C287.69 48.87 287.22 49 286.8 49C286.38 49 285.91 48.87 285.55 48.67C285.19 48.46 284.84 48.11 284.63 47.75C284.43 47.39 284.3 46.92 284.3 46.5C284.3 46.08 284.43 45.61 284.63 45.25C284.84 44.89 285.19 44.54 285.55 44.33C285.91 44.13 286.38 44 286.8 44C287.22 44 287.69 44.13 288.05 44.33C288.41 44.54 288.76 44.89 288.97 45.25C289.17 45.61 289.3 46.08 289.3 46.5Z" fill="#222" fill-opacity="0.6" filter="url(#b05)"/></g>
<g clip-path="url(#cP6)"><path d="M253 141C253.67 139.42 255.17 137.58 257 137C258.83 136.42 261.83 137.17 264 137.5C266.17 137.83 268.5 139.75 270 139C271.5 138.25 271.83 134.67 273 133C274.17 131.33 275.67 128.75 277 129C278.33 129.25 279.33 133 281 134.5C282.67 136 285.67 136.58 287 138C288.33 139.42 289 141.42 289 143C289 144.58 288.83 146.5 287 147.5C285.17 148.5 280.5 148.58 278 149C275.5 149.42 274.33 149.75 272 150C269.67 150.25 266.5 150.58 264 150.5C261.5 150.42 258.83 150.17 257 149.5C255.17 148.83 253.67 147.92 253 146.5C252.33 145.08 252.33 142.58 253 141Z" fill="none" stroke="#555" stroke-width="0.5"/><path d="M255.55 141.45C256.12 140.1 257.39 138.55 258.95 138.05C260.51 137.55 263.06 138.19 264.9 138.47C266.74 138.76 268.73 140.39 270 139.75C271.27 139.11 271.56 136.07 272.55 134.65C273.54 133.23 274.82 131.04 275.95 131.25C277.08 131.46 277.93 134.65 279.35 135.93C280.77 137.2 283.32 137.7 284.45 138.9C285.58 140.1 286.15 141.8 286.15 143.15C286.15 144.5 286.01 146.12 284.45 146.97C282.89 147.82 278.93 147.9 276.8 148.25C274.68 148.6 273.68 148.89 271.7 149.1C269.72 149.31 267.02 149.6 264.9 149.53C262.77 149.45 260.51 149.24 258.95 148.68C257.39 148.11 256.12 147.33 255.55 146.12C254.98 144.92 254.98 142.8 255.55 141.45Z" fill="none" stroke="#555" stroke-width="0.5"/><path d="M258.1 141.9C258.57 140.79 259.62 139.51 260.9 139.1C262.18 138.69 264.28 139.22 265.8 139.45C267.32 139.68 268.95 141.03 270 140.5C271.05 139.97 271.28 137.47 272.1 136.3C272.92 135.13 273.97 133.32 274.9 133.5C275.83 133.68 276.53 136.3 277.7 137.35C278.87 138.4 280.97 138.81 281.9 139.8C282.83 140.79 283.3 142.19 283.3 143.3C283.3 144.41 283.18 145.75 281.9 146.45C280.62 147.15 277.35 147.21 275.6 147.5C273.85 147.79 273.03 148.02 271.4 148.2C269.77 148.38 267.55 148.61 265.8 148.55C264.05 148.49 262.18 148.32 260.9 147.85C259.62 147.38 258.57 146.74 258.1 145.75C257.63 144.76 257.63 143.01 258.1 141.9Z" fill="none" stroke="#555" stroke-width="0.5"/><path d="M260.65 142.35C261.02 141.48 261.84 140.47 262.85 140.15C263.86 139.83 265.51 140.24 266.7 140.43C267.89 140.61 269.18 141.66 270 141.25C270.82 140.84 271.01 138.87 271.65 137.95C272.29 137.03 273.12 135.61 273.85 135.75C274.58 135.89 275.13 137.95 276.05 138.78C276.97 139.6 278.62 139.92 279.35 140.7C280.08 141.48 280.45 142.58 280.45 143.45C280.45 144.32 280.36 145.38 279.35 145.93C278.34 146.48 275.77 146.52 274.4 146.75C273.02 146.98 272.38 147.16 271.1 147.3C269.82 147.44 268.07 147.62 266.7 147.57C265.32 147.53 263.86 147.39 262.85 147.03C261.84 146.66 261.02 146.15 260.65 145.38C260.28 144.6 260.28 143.22 260.65 142.35Z" fill="none" stroke="#555" stroke-width="0.5"/></g>
<g clip-path="url(#cP6)"><path d="M265 143C265 143.67 264.77 144.42 264.4 145C264.02 145.58 263.4 146.13 262.75 146.46C262.1 146.8 261.25 147 260.5 147C259.75 147 258.9 146.8 258.25 146.46C257.6 146.13 256.98 145.58 256.6 145C256.23 144.42 256 143.67 256 143C256 142.33 256.23 141.58 256.6 141C256.98 140.42 257.6 139.87 258.25 139.54C258.9 139.2 259.75 139 260.5 139C261.25 139 262.1 139.2 262.75 139.54C263.4 139.87 264.02 140.42 264.4 141C264.77 141.58 265 142.33 265 143Z" fill="#444" fill-opacity="0.45" filter="url(#b1)"/></g>
<g clip-path="url(#cP6)"><path d="M265.5 143C265.5 143.77 265.25 144.64 264.83 145.3C264.41 145.96 263.72 146.6 263 146.98C262.28 147.37 261.33 147.6 260.5 147.6C259.67 147.6 258.72 147.37 258 146.98C257.28 146.6 256.59 145.96 256.17 145.3C255.75 144.64 255.5 143.77 255.5 143C255.5 142.23 255.75 141.36 256.17 140.7C256.59 140.04 257.28 139.4 258 139.02C258.72 138.63 259.67 138.4 260.5 138.4C261.33 138.4 262.28 138.63 263 139.02C263.72 139.4 264.41 140.04 264.83 140.7C265.25 141.36 265.5 142.23 265.5 143Z" fill="none" stroke="#444" stroke-width="0.5"/><path d="M264.33 143C264.33 143.59 264.14 144.25 263.82 144.76C263.5 145.27 262.97 145.76 262.42 146.05C261.86 146.35 261.14 146.53 260.5 146.53C259.86 146.53 259.14 146.35 258.58 146.05C258.03 145.76 257.5 145.27 257.18 144.76C256.86 144.25 256.67 143.59 256.67 143C256.67 142.41 256.86 141.75 257.18 141.24C257.5 140.73 258.03 140.24 258.58 139.95C259.14 139.65 259.86 139.47 260.5 139.47C261.14 139.47 261.86 139.65 262.42 139.95C262.97 140.24 263.5 140.73 263.82 141.24C264.14 141.75 264.33 142.41 264.33 143Z" fill="none" stroke="#444" stroke-width="0.5"/><path d="M263.17 143C263.17 143.41 263.03 143.87 262.81 144.23C262.59 144.58 262.22 144.92 261.83 145.12C261.45 145.33 260.94 145.45 260.5 145.45C260.06 145.45 259.55 145.33 259.17 145.12C258.78 144.92 258.41 144.58 258.19 144.23C257.97 143.87 257.83 143.41 257.83 143C257.83 142.59 257.97 142.13 258.19 141.77C258.41 141.42 258.78 141.08 259.17 140.88C259.55 140.67 260.06 140.55 260.5 140.55C260.94 140.55 261.45 140.67 261.83 140.88C262.22 141.08 262.59 141.42 262.81 141.77C263.03 142.13 263.17 142.59 263.17 143Z" fill="none" stroke="#444" stroke-width="0.5"/><path d="M262 143C262 143.23 261.92 143.49 261.8 143.69C261.67 143.89 261.47 144.08 261.25 144.2C261.03 144.31 260.75 144.38 260.5 144.38C260.25 144.38 259.97 144.31 259.75 144.2C259.53 144.08 259.33 143.89 259.2 143.69C259.08 143.49 259 143.23 259 143C259 142.77 259.08 142.51 259.2 142.31C259.33 142.11 259.53 141.92 259.75 141.8C259.97 141.69 260.25 141.62 260.5 141.62C260.75 141.62 261.03 141.69 261.25 141.8C261.47 141.92 261.67 142.11 261.8 142.31C261.92 142.51 262 142.77 262 143Z" fill="none" stroke="#444" stroke-width="0.5"/></g>
<g clip-path="url(#cP6)"><path d="M276.5 144.5C276.5 145.13 276.27 145.85 275.9 146.4C275.52 146.95 274.9 147.47 274.25 147.79C273.6 148.11 272.75 148.3 272 148.3C271.25 148.3 270.4 148.11 269.75 147.79C269.1 147.47 268.48 146.95 268.1 146.4C267.73 145.85 267.5 145.13 267.5 144.5C267.5 143.87 267.73 143.15 268.1 142.6C268.48 142.05 269.1 141.53 269.75 141.21C270.4 140.89 271.25 140.7 272 140.7C272.75 140.7 273.6 140.89 274.25 141.21C274.9 141.53 275.52 142.05 275.9 142.6C276.27 143.15 276.5 143.87 276.5 144.5Z" fill="#444" fill-opacity="0.5" filter="url(#b1)"/></g>
<g clip-path="url(#cP6)"><path d="M277.2 144.5C277.2 145.23 276.94 146.06 276.5 146.7C276.07 147.34 275.35 147.94 274.6 148.31C273.85 148.68 272.87 148.9 272 148.9C271.13 148.9 270.15 148.68 269.4 148.31C268.65 147.94 267.93 147.34 267.5 146.7C267.06 146.06 266.8 145.23 266.8 144.5C266.8 143.77 267.06 142.94 267.5 142.3C267.93 141.66 268.65 141.06 269.4 140.69C270.15 140.32 271.13 140.1 272 140.1C272.87 140.1 273.85 140.32 274.6 140.69C275.35 141.06 276.07 141.66 276.5 142.3C276.94 142.94 277.2 143.77 277.2 144.5Z" fill="none" stroke="#444" stroke-width="0.5"/><path d="M275.99 144.5C275.99 145.06 275.78 145.7 275.45 146.19C275.12 146.67 274.57 147.14 273.99 147.42C273.42 147.7 272.66 147.87 272 147.87C271.34 147.87 270.58 147.7 270.01 147.42C269.43 147.14 268.88 146.67 268.55 146.19C268.22 145.7 268.01 145.06 268.01 144.5C268.01 143.94 268.22 143.3 268.55 142.81C268.88 142.33 269.43 141.86 270.01 141.58C270.58 141.3 271.34 141.13 272 141.13C272.66 141.13 273.42 141.3 273.99 141.58C274.57 141.86 275.12 142.33 275.45 142.81C275.78 143.3 275.99 143.94 275.99 144.5Z" fill="none" stroke="#444" stroke-width="0.5"/><path d="M274.77 144.5C274.77 144.89 274.63 145.33 274.4 145.67C274.17 146.01 273.79 146.34 273.39 146.53C272.99 146.73 272.46 146.85 272 146.85C271.54 146.85 271.01 146.73 270.61 146.53C270.21 146.34 269.83 146.01 269.6 145.67C269.37 145.33 269.23 144.89 269.23 144.5C269.23 144.11 269.37 143.67 269.6 143.33C269.83 142.99 270.21 142.66 270.61 142.47C271.01 142.27 271.54 142.15 272 142.15C272.46 142.15 272.99 142.27 273.39 142.47C273.79 142.66 274.17 142.99 274.4 143.33C274.63 143.67 274.77 144.11 274.77 144.5Z" fill="none" stroke="#444" stroke-width="0.5"/><path d="M273.56 144.5C273.56 144.72 273.48 144.97 273.35 145.16C273.22 145.35 273.01 145.53 272.78 145.64C272.55 145.75 272.26 145.82 272 145.82C271.74 145.82 271.45 145.75 271.22 145.64C270.99 145.53 270.78 145.35 270.65 145.16C270.52 144.97 270.44 144.72 270.44 144.5C270.44 144.28 270.52 144.03 270.65 143.84C270.78 143.65 270.99 143.47 271.22 143.36C271.45 143.25 271.74 143.18 272 143.18C272.26 143.18 272.55 143.25 272.78 143.36C273.01 143.47 273.22 143.65 273.35 143.84C273.48 144.03 273.56 144.28 273.56 144.5Z" fill="none" stroke="#444" stroke-width="0.5"/></g>
<g clip-path="url(#cP6)"><path d="M287.5 142.5C287.5 143.13 287.27 143.85 286.9 144.4C286.52 144.95 285.9 145.47 285.25 145.79C284.6 146.11 283.75 146.3 283 146.3C282.25 146.3 281.4 146.11 280.75 145.79C280.1 145.47 279.48 144.95 279.1 144.4C278.73 143.85 278.5 143.13 278.5 142.5C278.5 141.87 278.73 141.15 279.1 140.6C279.48 140.05 280.1 139.53 280.75 139.21C281.4 138.89 282.25 138.7 283 138.7C283.75 138.7 284.6 138.89 285.25 139.21C285.9 139.53 286.52 140.05 286.9 140.6C287.27 141.15 287.5 141.87 287.5 142.5Z" fill="none" stroke="#666" stroke-width="0.5"/><path d="M286.15 142.5C286.15 142.94 285.99 143.45 285.73 143.83C285.47 144.21 285.03 144.58 284.57 144.8C284.12 145.03 283.52 145.16 283 145.16C282.48 145.16 281.88 145.03 281.43 144.8C280.97 144.58 280.53 144.21 280.27 143.83C280.01 143.45 279.85 142.94 279.85 142.5C279.85 142.06 280.01 141.55 280.27 141.17C280.53 140.79 280.97 140.42 281.43 140.2C281.88 139.97 282.48 139.84 283 139.84C283.52 139.84 284.12 139.97 284.57 140.2C285.03 140.42 285.47 140.79 285.73 141.17C285.99 141.55 286.15 142.06 286.15 142.5Z" fill="none" stroke="#666" stroke-width="0.5"/><path d="M284.8 142.5C284.8 142.75 284.71 143.04 284.56 143.26C284.41 143.48 284.16 143.69 283.9 143.82C283.64 143.94 283.3 144.02 283 144.02C282.7 144.02 282.36 143.94 282.1 143.82C281.84 143.69 281.59 143.48 281.44 143.26C281.29 143.04 281.2 142.75 281.2 142.5C281.2 142.25 281.29 141.96 281.44 141.74C281.59 141.52 281.84 141.31 282.1 141.18C282.36 141.06 282.7 140.98 283 140.98C283.3 140.98 283.64 141.06 283.9 141.18C284.16 141.31 284.41 141.52 284.56 141.74C284.71 141.96 284.8 142.25 284.8 142.5Z" fill="none" stroke="#666" stroke-width="0.5"/></g>
<g clip-path="url(#cP6)"><path d="M279.53 132.25C279.86 132.83 280.09 133.57 280.12 134.22C280.16 134.86 280.02 135.58 279.75 136.12C279.48 136.67 279.01 137.17 278.5 137.46C277.99 137.76 277.32 137.91 276.72 137.88C276.11 137.84 275.42 137.6 274.88 137.25C274.33 136.89 273.8 136.33 273.47 135.75C273.14 135.17 272.91 134.43 272.88 133.78C272.84 133.14 272.98 132.42 273.25 131.88C273.52 131.33 273.99 130.83 274.5 130.54C275.01 130.24 275.68 130.09 276.28 130.12C276.89 130.16 277.58 130.4 278.12 130.75C278.67 131.11 279.2 131.67 279.53 132.25Z" fill="#555" fill-opacity="0.45" filter="url(#b1)"/></g>
<circle cx="275.8" cy="145" r="0.9" fill="#fff"/>
<g clip-path="url(#cP6)"><path d="M289.56 119.71C290.46 120.27 291.26 121.28 291.66 122.38C292.06 123.48 292.18 124.96 291.98 126.29C291.77 127.63 291.19 129.18 290.43 130.39C289.67 131.61 288.53 132.81 287.42 133.58C286.31 134.35 284.93 134.89 283.77 135.01C282.6 135.13 281.35 134.86 280.44 134.29C279.54 133.73 278.74 132.72 278.34 131.62C277.94 130.52 277.82 129.04 278.02 127.71C278.23 126.37 278.81 124.82 279.57 123.61C280.33 122.39 281.47 121.19 282.58 120.42C283.69 119.65 285.07 119.11 286.23 118.99C287.4 118.87 288.65 119.14 289.56 119.71Z" fill="#000" fill-opacity="0.8" filter="url(#b05)"/></g>
<g clip-path="url(#cP6)"><path d="M288.49 121.94C289.08 122.31 289.59 123 289.83 123.76C290.07 124.52 290.1 125.55 289.93 126.5C289.75 127.44 289.31 128.55 288.76 129.43C288.21 130.3 287.41 131.18 286.64 131.76C285.87 132.33 284.92 132.75 284.14 132.87C283.35 132.98 282.51 132.83 281.91 132.46C281.32 132.09 280.81 131.4 280.57 130.64C280.33 129.88 280.3 128.85 280.47 127.9C280.65 126.96 281.09 125.85 281.64 124.97C282.19 124.1 282.99 123.22 283.76 122.64C284.53 122.07 285.48 121.65 286.26 121.53C287.05 121.42 287.89 121.57 288.49 121.94Z" fill="#fff" fill-opacity="0.8" filter="url(#b05)"/></g>
<g clip-path="url(#cP6)"><path d="M289.56 119.71C290.46 120.27 291.26 121.28 291.66 122.38C292.06 123.48 292.18 124.96 291.98 126.29C291.77 127.63 291.19 129.18 290.43 130.39C289.67 131.61 288.53 132.81 287.42 133.58C286.31 134.35 284.93 134.89 283.77 135.01C282.6 135.13 281.35 134.86 280.44 134.29C279.54 133.73 278.74 132.72 278.34 131.62C277.94 130.52 277.82 129.04 278.02 127.71C278.23 126.37 278.81 124.82 279.57 123.61C280.33 122.39 281.47 121.19 282.58 120.42C283.69 119.65 285.07 119.11 286.23 118.99C287.4 118.87 288.65 119.14 289.56 119.71Z" fill="none" stroke="#222" stroke-width="0.55"/><path d="M288.7 121.07C289.44 121.53 290.08 122.35 290.41 123.25C290.74 124.14 290.84 125.34 290.67 126.42C290.5 127.51 290.03 128.77 289.41 129.76C288.79 130.74 287.87 131.72 286.97 132.35C286.07 132.97 284.94 133.41 284 133.51C283.05 133.61 282.03 133.38 281.3 132.93C280.56 132.47 279.92 131.65 279.59 130.75C279.26 129.86 279.16 128.66 279.33 127.58C279.5 126.49 279.97 125.23 280.59 124.24C281.21 123.26 282.13 122.28 283.03 121.65C283.93 121.03 285.06 120.59 286 120.49C286.95 120.39 287.97 120.62 288.7 121.07Z" fill="none" stroke="#222" stroke-width="0.55"/><path d="M287.85 122.44C288.41 122.8 288.91 123.43 289.16 124.11C289.42 124.8 289.49 125.72 289.36 126.56C289.23 127.39 288.87 128.36 288.39 129.12C287.92 129.88 287.21 130.63 286.51 131.11C285.82 131.6 284.96 131.93 284.23 132.01C283.5 132.08 282.72 131.91 282.15 131.56C281.59 131.2 281.09 130.57 280.84 129.89C280.58 129.2 280.51 128.28 280.64 127.44C280.77 126.61 281.13 125.64 281.61 124.88C282.08 124.12 282.79 123.37 283.49 122.89C284.18 122.4 285.04 122.07 285.77 121.99C286.5 121.92 287.28 122.09 287.85 122.44Z" fill="none" stroke="#222" stroke-width="0.55"/><path d="M286.99 123.81C287.39 124.06 287.74 124.5 287.91 124.98C288.09 125.46 288.14 126.11 288.05 126.69C287.96 127.27 287.71 127.95 287.37 128.48C287.04 129.02 286.55 129.54 286.06 129.88C285.57 130.22 284.97 130.45 284.46 130.51C283.95 130.56 283.4 130.44 283.01 130.19C282.61 129.94 282.26 129.5 282.09 129.02C281.91 128.54 281.86 127.89 281.95 127.31C282.04 126.73 282.29 126.05 282.63 125.52C282.96 124.98 283.45 124.46 283.94 124.12C284.43 123.78 285.03 123.55 285.54 123.49C286.05 123.44 286.6 123.56 286.99 123.81Z" fill="none" stroke="#222" stroke-width="0.55"/><path d="M286.14 125.18C286.37 125.32 286.56 125.57 286.67 125.84C286.77 126.12 286.8 126.49 286.74 126.82C286.69 127.16 286.55 127.54 286.36 127.85C286.17 128.15 285.88 128.45 285.61 128.65C285.33 128.84 284.98 128.97 284.69 129C284.4 129.03 284.09 128.96 283.86 128.82C283.63 128.68 283.44 128.43 283.33 128.16C283.23 127.88 283.2 127.51 283.26 127.18C283.31 126.84 283.45 126.46 283.64 126.15C283.83 125.85 284.12 125.55 284.39 125.35C284.67 125.16 285.02 125.03 285.31 125C285.6 124.97 285.91 125.04 286.14 125.18Z" fill="none" stroke="#222" stroke-width="0.55"/></g>
<g clip-path="url(#cS1)"><path d="M78.5 262.5C79.92 261.08 83.58 260.08 86 259.5C88.42 258.92 91.42 258.58 93 259C94.58 259.42 95.17 260.17 95.5 262C95.83 263.83 96.25 268.33 95 270C93.75 271.67 90.5 271.75 88 272C85.5 272.25 81.75 272.17 80 271.5C78.25 270.83 77.75 269.5 77.5 268C77.25 266.5 77.08 263.92 78.5 262.5Z" fill="#000" fill-opacity="0.95" filter="url(#b1)"/></g>
<g clip-path="url(#cS1)"><path d="M87 253C87.67 250.67 89.58 247.83 91 247C92.42 246.17 94.67 246.5 95.5 248C96.33 249.5 96.42 253.83 96 256C95.58 258.17 94.5 260.17 93 261C91.5 261.83 88 262.33 87 261C86 259.67 86.33 255.33 87 253Z" fill="#000" fill-opacity="0.45" filter="url(#b1)"/></g>
<path transform="scale(0.1)" d="M872 2702h7m52 -71h7m-83 -1h7m36 18h7m2 -68h7m34 66h7m-51 -1h7m-60 23h7m53 -26h7m-56 34h7m-43 -84h7m57 33h7m-123 -6h7m66 -14h7m-59 46h7m113 -10h7m-89 24h7m66 -26h7m-16 51h7m-44 -71h7m20 40h7m31 -58h7m-95 17h7m-61 37h7m106 -33h7m36 59h7m-45 -16h7m10 -66h7m-24 74h7m-126 -10h7m68 17h7m-16 -31h7m32 -32h7m6 29h7m-12 -16h7m22 43h7m-70 1h7m65 44h7m-149 -34h7m95 -38h7m-80 52h7m-20 -26h7m121 -83h7m-87 11h7m20 108h7m82 -126h7m-137 95h7m101 -11h7m-123 -5h7m29 -19h7m-43 23h7m45 -19h7m-33 -45h7m-20 95h7m7 -101h7m70 75h7m31 -18h7m-135 -57h7m-25 30h7m64 -7h7m-51 19h7m17 55h7m-16 -7h7m-29 -23h7m54 -34h7m-18 43h7m30 10h7m-22 -35h7m-93 -24h7m4 -15h7m-10 39h7m33 -9h7m-116 10h7m100 44h7m11 -65h7m2 94h7m61 -101h7m-94 48h7m2 4h7m-25 -14h7m-92 -13h7m31 11h7m7 19h7m57 -12h7m-32 -8h7m-45 -10h7m-10 21h7m19 7h7m-74 12h7m21 -62h7m21 7h7m18 -1h7m-75 -10h7m112 34h7m-131 -2h7m-27 68h7m-5 -50h7m96 -73h7m-19 93h7m1 -28h7m17 -4h7m-37 -11h7m8 -31h7m1 17h7m-102 33h7m133 23h7m-118 -10h7m-4 -32h7m20 -83h7m-1 49h7m-52 -17h7m-48 20h7m110 99h7m-49 -22h7m-19 -114h7m13 90h7m-35 -6h7m43 -44h7m-110 25h7m56 -5h7m53 79h7m-77 -39h7m61 0h7m-2 -42h7m-19 -9h7m-17 72h7m-19 -69h7m52 -26h7m-59 46h7m-92 47h7m70 -90h7m6 28h7m-132 -10h7m101 50h7m-12 -22h7m8 -10h7m29 14h7m-51 15h7m-75 -48h7m122 40h7m-97 0h7m-17 -2h7m-16 -1h7m-53 41h7m46 -111h7m8 46h7m12 -30h7m-79 57h7m41 -6h7m-82 -51h7m107 43h7m52 -26h7m-127 -7h7m29 32h7m37 7h7m-87 3h7m-13 16h7m84 10h7m-45 -36h7m1 51h7m3 -62h7m30 20h7m-75 -37h7m-31 6h7m49 16h7m17 25h7m-40 -111h7m-38 114h7m85 50h7m-16 -114h7m-77 81h7m-14 -29h7m-76 9h7m46 -4h7m38 -17h7m-14 3h7m15 20h7m-72 -41h7m107 18h7m-44 19h7m-85 -43h7m27 38h7m18 -58h7m-68 44h7m103 -86h7m-65 69h7m-7 2h7m-11 78h7m-7 -43h7m-6 -45h7m1 21h7m-75 7h7m23 30h7m2 -49h7m68 58h7m-17 -15h7m-75 -39h7m-16 52h7m13 -92h7m-15 2h7m3 8h7m-78 51h7m52 -68h7m-77 132h7m33 -88h7m18 -36h7m67 74h7m-110 -30h7m-45 -2h7m116 -52h7m-76 71h7m67 45h7m-82 -79h7m39 14h7m-46 55h7m93 -31h7m-101 12h7m-91 -23h7m123 6h7m-53 -101h7m39 158h7m-79 -36h7m65 -85h7m4 110h7m-43 -53h7m21 -57h7m-41 99h7m-74 -2h7m34 -117h7m9 42h7m14 -8h7m30 17h7m-42 5h7m-41 68h7m20 -60h7m-81 59h7m93 -56h7m-32 -27h7m-70 8h7m62 42h7m-62 17h7m69 -21h7m6 -18h7m-65 29h7m-3 12h7m-68 24h7m17 -60h7m-37 29h7m126 18h7m-29 -100h7m-88 41h7m-15 61h7m49 -44h7m8 -35h7m-76 3h7m63 46h7m-3 28h7m-104 -62h7m68 -30h7m-41 90h7m75 2h7m-60 -49h7m45 -6h7m-44 64h7m-42 -73h7m11 46h7m17 -17h7m-3 -67h7m-78 67h7m-10 -57h7m-21 16h7m44 -4h7m14 103h7m-26 -16h7m14 -91h7m-34 6h7m44 -7h7m21 66h7m-174 8h7m172 -60h7m-36 -38h7m-43 5h7m4 -5h7m83 45h7m-79 27h7m-65 19h7m91 -70h7m-61 60h7m-106 48h7m161 -97h7m-17 38h7m-102 55h7m12 -45h7m58 37h7m-38 -102h7m-131 96h7m26 -37h7m-15 -13h7m-17 69h7m6 -67h7m35 51h7m-69 -47h7m54 21h7m27 -38h7m-19 4h7m4 10h7m-63 3h7m1 13h7m91 -91h7m-167 34h7m100 91h7m-38 -140h7m13 45h7m40 -9h7m-6 113h7m-102 -97h7m73 0h7m-6 -3h7m-10 49h7m-69 -38h7m27 -38h7m-33 57h7m41 -33h7m45 36h7m-150 65h7m133 -60h7m-135 8h7m3 -13h7m106 27h7m-78 -2h7m-17 19h7m40 -46h7m-30 7h7m74 7h7m-164 26h7m3 -45h7m54 14h7m-61 -16h7m1 65h7m-13 -66h7m131 1h7m-35 71h7m-89 -104h7m24 80h7m18 -23h7m5 50h7m-120 1h7m55 -75h7m-32 92h7m58 -139h7m-52 63h7m-20 -14h7m-71 52h7m19 -47h7m10 -14h7m60 43h7m-78 -51h7m4 73h7m22 -28h7m-29 -19h7m20 -60h7m63 40h7m-116 81h7m32 -49h7m-47 -61h7m31 104h7m-61 7h7m-18 -80h7m74 28h7m3 -28h7m-94 -43h7m-15 30h7m-18 53h7m31 -88h7m-37 123h7m114 -91h7m-139 6h7m123 26h7m-103 11h7m93 -52h7m-86 0h7m121 122h7m-68 -74h7m-22 -75h7m-26 29h7m-87 24h7m41 49h7m46 -12h7m-89 16h7m34 19h7m-47 -150h7m62 98h7m14 26h7m-28 -39h7m-26 28h7m-43 -51h7m32 80h7m18 -18h7m-26 21h7" stroke="#000" stroke-opacity="1" stroke-width="7" fill="none"/>
<path transform="scale(0.1)" d="M980 2531h6m-81 52h6m55 -37h6m-46 -27h6m-78 56h6m21 -73h6m-22 72h6m-10 -59h6m40 99h6m29 -79h6m-29 -28h6m41 -30h6m-38 32h6m-12 -14h6m-15 37h6m3 15h6m-22 34h6m-54 -83h6m-1 17h6m18 -80h6m-11 170h6m35 -69h6m45 -76h6m-134 3h6m25 129h6m82 47h6m-40 -95h6m-46 -28h6m-43 15h6m40 1h6m35 -89h6m25 11h6m-10 -43h6m-37 48h6m-21 8h6m-72 -51h6m38 138h6m-22 -65h6m13 -38h6m11 133h6m25 -130h6m-42 45h6m-76 59h6m70 -79h6m16 97h6m-33 24h6m34 -168h6m-84 143h6m-1 -68h6m8 105h6m34 -28h6m-57 -13h6m38 -66h6m10 52h6m-91 33h6m23 -41h6m-38 -53h6m31 -59h6m-95 201h6m88 -112h6m43 -13h6m-4 -89h6m-34 61h6m-6 42h6m-68 24h6m49 -9h6m-28 -60h6m-18 47h6m37 -100h6m-54 83h6m30 -6h6m12 -62h6m-50 98h6m38 -37h6m-16 12h6m45 70h6m-137 3h6m-26 -127h6m109 65h6m-5 -20h6m-85 8h6m94 3h6m-10 -35h6m-116 110h6m84 34h6m-25 -200h6m-47 56h6m39 66h6m-68 -40h6m45 6h6m-2 -20h6m9 28h6m-4 -59h6m-10 40h6m-102 19h6m48 46h6m16 -68h6m5 9h6m-36 40h6m20 1h6m-6 50h6m-52 107h6m-1 -193h6m30 -46h6m-21 141h6m0 -156h6m20 98h6m27 44h6m-40 -107h6m-10 10h6m-62 -2h6m38 -5h6m-49 127h6m46 -40h6m-15 -145h6m-18 89h6m0 -30h6m29 45h6m-59 -67h6m-6 44h6m-16 -29h6m53 31h6m-49 -58h6m9 84h6m30 -36h6m-107 86h6m67 -54h6m20 -97h6m-50 82h6m43 -2h6m-141 -58h6m83 136h6m-15 84h6m39 -71h6m27 -189h6m-45 133h6m-52 -13h6m45 -63h6m-28 9h6m8 -8h6m-47 58h6m23 -38h6m-35 114h6m-33 -57h6m4 -95h6m58 -11h6m-33 107h6m-39 -67h6m41 -40h6m47 9h6m0 26h6m-17 75h6m-61 5h6m-2 44h6m54 -111h6m-98 56h6m32 -37h6m-17 -57h6m-23 70h6m-62 9h6m21 -57h6m25 -7h6m-5 -57h6m20 12h6m-30 32h6m-8 62h6m-43 -32h6m5 0h6m37 50h6m18 -80h6m5 21h6m-45 73h6m8 -140h6m22 19h6m-57 -12h6m35 79h6m-126 33h6m120 111h6m-64 -141h6m16 65h6m14 -138h6m-13 122h6m-58 -86h6m41 39h6m-12 57h6m11 -62h6m-83 33h6m62 116h6m-18 -149h6m18 113h6m-31 -59h6m-41 -18h6m5 -50h6m24 -16h6m-67 -42h6m63 74h6m-39 26h6m23 38h6m-42 -69h6m26 -57h6m-59 43h6m-26 157h6m63 -153h6m-54 139h6m13 -143h6m-1 4h6m-3 90h6m-33 -89h6m106 -5h6m-60 -42h6m-103 31h6m129 10h6m-122 22h6m46 67h6m45 -78h6m-7 32h6m-23 59h6m-30 -94h6m-7 22h6m-48 29h6m39 -7h6m14 17h6m-17 -78h6m-17 18h6m54 -82h6m-65 70h6m38 -83h6m-15 162h6m-32 38h6m-22 -1h6m56 -117h6m-63 44h6m-47 -80h6m-7 163h6m-7 -1h6m76 -214h6m-47 235h6m8 -209h6m24 102h6m-62 -98h6m-15 146h6m3 -20h6m49 59h6m-13 -5h6m-109 -28h6m84 -73h6m-56 -7h6m6 -54h6m-14 105h6m20 -52h6m52 3h6m-18 -56h6m-36 77h6m-1 -41h6m-49 0h6m-12 96h6m81 -139h6m-28 46h6m-12 -1h6m-98 83h6m99 -134h6m-97 26h6m15 18h6m21 140h6m-37 -15h6m78 -109h6m-125 62h6m44 122h6m50 -99h6m36 -121h6m-70 39h6m31 70h6m-183 11h6" stroke="#111" stroke-opacity="1" stroke-width="6" fill="none"/>
<path transform="scale(0.1)" d="M873 2655h6m79 -112h6m-127 -22h6m-71 89h6m176 63h6m-43 4h6m6 -167h6m-137 85h6m12 -71h6m87 144h6m21 -14h6m-25 -42h6m-21 52h6m7 -101h6m-118 20h6m61 -131h6m-33 175h6m84 -135h6m-54 88h6m39 -179h6m-12 126h6m41 70h6m-17 5h6m-185 -22h6m131 -99h6m-71 128h6m-67 3h6m78 -23h6m75 -68h6m-16 -72h6m-160 129h6m16 -161h6m103 276h6m55 -180h6m-204 -22h6m-3 53h6m128 -111h6m-23 250h6m37 30h6m-142 -50h6m60 -79h6m62 117h6m-99 -195h6m-2 43h6m-88 -94h6" stroke="#333" stroke-opacity="1" stroke-width="6" fill="none"/>
<path transform="scale(0.1)" d="M910 2415h6m66 39h6m-44 10h6m-23 12h6m-7 141h6m8 -87h6m-9 -88h6m-29 40h6m3 13h6m-65 -77h6m43 85h6m27 9h6m-70 88h6m1 -105h6m69 57h6m-101 -2h6m3 -112h6m82 87h6m-105 -26h6m20 -63h6m80 -31h6m-76 214h6m51 -199h6m-13 175h6m-112 -114h6m22 -63h6m92 194h6m-89 -67h6m5 -56h6m70 95h6m-123 -28h6m116 -65h6m-52 67h6m-9 4h6m-95 -124h6m84 120h6m21 44h6m-67 -51h6m-52 25h6m3 42h6m-14 -43h6m42 -72h6m51 21h6m-114 45h6m44 -30h6m-7 -123h6m-6 -3h6m12 47h6m-5 120h6m-53 -131h6m78 21h6m-46 111h6m-29 -153h6m81 34h6m-43 -6h6m-83 -46h6m109 153h6m-62 -92h6m-40 19h6m-20 -17h6" stroke="#333" stroke-opacity="1" stroke-width="6" fill="none"/>
<path transform="scale(0.1)" d="M567 2687h6m42 -24h6m-61 31h6m65 -77h6m61 22h6m-24 13h6m-44 0h6m-135 -41h6m201 34h6m-82 -8h6m116 -8h6m-201 -17h6m-22 27h6m27 8h6m-51 -13h6m62 22h6m-20 36h6m32 -40h6m-101 22h6m-46 -66h6m-1 56h6m-25 17h6m118 -71h6m-29 83h6m-75 -78h6m145 66h6m49 -41h6m-97 16h6m102 46h6m-147 -21h6m-32 -18h6m-71 -34h6m143 -3h6m46 8h6m-95 12h6m-52 5h6m150 75h6m-255 -70h6m105 -31h6m45 1h6m-46 53h6m51 -55h6m3 33h6m-102 22h6m-112 -15h6m112 -42h6m1 17h6m103 -28h6m-117 26h6m188 -17h6m-62 -16h6m-85 41h6m-3 -14h6m97 22h6m-246 17h6m7 -41h6m-58 48h6m344 -53h6m-191 48h6m195 -84h6m-223 76h6m-185 -6h6m179 8h6m-92 -8h6m-9 5h6m78 -25h6m-179 51h6m272 -19h6m-202 -31h6m251 27h6m-283 -17h6m103 -6h6m-125 36h6m163 -36h6m-244 -10h6m167 36h6m-46 7h6m50 -47h6m-185 15h6m195 39h6m-44 -64h6m254 37h6m-293 -14h6m-126 22h6m184 24h6m74 -18h6m12 -29h6m-193 6h6m-94 -2h6m95 20h6m28 -64h6m0 83h6m-7 -69h6m-69 35h6m-90 6h6m184 -39h6m-48 59h6m-28 -16h6m85 -17h6m31 16h6m-223 3h6m199 7h6m-172 -8h6m216 -6h6m-27 27h6m-140 -16h6m-33 10h6m16 -40h6m1 12h6m39 13h6m-176 -28h6m162 28h6m-36 54h6m108 -67h6m-49 35h6m-45 -77h6m-36 45h6m219 -47h6m-70 42h6m-74 -3h6m-89 35h6m-15 -2h6m-24 -36h6m-21 -2h6m5 46h6" stroke="#888" stroke-opacity="1" stroke-width="6" fill="none"/>
<path transform="scale(0.1)" d="M431 2614h6m1 83h6m0 -9h6m-4 -51h6m-13 -48h6m-11 82h6m-10 -10h6m9 59h6m-4 -102h6m-8 -3h6m-16 30h6m-3 7h6m-3 31h6m-8 -8h6m5 -44h6m-24 38h6m11 -8h6m-10 -12h6m-7 -8h6m-8 26h6m-7 24h6m-2 -49h6m-7 -27h6m-6 111h6m-8 -56h6m-9 8h6m-9 -4h6m-5 -27h6m-4 9h6m-5 -40h6m-1 41h6m-11 19h6m-13 -91h6m-1 79h6m1 -25h6m-14 29h6m-6 -16h6" stroke="#333" stroke-opacity="1" stroke-width="6" fill="none"/>
<g clip-path="url(#cS5)"><rect x="42.5" y="319.8" width="33.7" height="29.4" fill="#000" fill-opacity="1" filter="url(#b05)"/></g>
<path transform="scale(0.1)" d="M766 3275h7m14 6h7m-31 48h7m-19 69h7m20 73h7m-14 -152h7m-2 -80h7m-20 157h7m1 -134h7m-40 225h7m9 -265h7m-19 133h7m32 -2h7m-7 18h7m-19 61h7m-20 -56h7m-8 -75h7m10 -15h7m-16 3h7m-10 21h7m12 48h7m-24 125h7m-1 -82h7m-10 -122h7m17 94h7m-39 -114h7m3 50h7m-21 56h7m4 -83h7m10 -15h7m-45 105h7m12 -19h7m-15 -3h7m-10 -135h7m14 51h7m-22 139h7m-26 -118h7m17 168h7m-13 -223h7m16 41h7m-29 144h7m-14 -107h7m11 20h7m-10 -60h7m-14 -12h7m-30 228h7m25 -67h7m-29 -76h7m5 -111h7m5 56h7m-19 -64h7m12 182h7m-17 -133h7m-22 170h7m-2 -76h7m-1 -111h7m-5 82h7m-37 34h7m27 -23h7m-28 32h7m24 -18h7m3 51h7m-23 43h7m-30 -153h7m12 83h7m9 50h7m-28 -74h7m-14 -46h7m-10 101h7m-7 -100h7m3 -13h7m-4 17h7m-10 55h7m-7 -14h7m-38 37h7m29 -77h7m-9 133h7m-17 -174h7m20 95h7m-25 -34h7m-5 -18h7m-8 44h7m-21 -33h7m8 51h7m-2 32h7m-13 -22h7m-17 -62h7m16 -138h7m-54 277h7m-5 -92h7m47 89h7m-48 -224h7m-16 161h7m10 -57h7m3 32h7m-3 -24h7m-41 106h7m9 -132h7m-6 -14h7m1 7h7m-24 90h7m1 40h7m0 -164h7m3 127h7m-29 -94h7m30 -57h7m-43 93h7m-20 17h7m30 17h7m-11 -146h7m-3 191h7m-29 -17h7m-1 -60h7m4 -134h7m11 51h7m-32 29h7m2 74h7m-14 78h7m-3 -145h7m-16 -37h7m-16 117h7m25 -104h7m-21 -53h7m0 138h7m-28 -37h7m-1 -43h7m10 136h7m-18 -113h7m26 -1h7m-36 20h7m-4 5h7m-7 -97h7m-18 211h7m-22 -163h7m32 86h7m-27 -135h7m-32 135h7m35 -153h7m-44 73h7m9 -59h7m31 153h7m-49 -89h7m-9 70h7m21 -123h7m-37 203h7m-9 -143h7m-17 -27h7m25 -5h7m-39 15h7m43 65h7m-45 -2h7m9 -3h7m-43 14h7m19 44h7m-26 16h7m7 -222h7m23 96h7m-23 29h7m5 101h7m-7 -31h7m-51 -193h7m22 58h7m-2 90h7m-38 -97h7m-2 12h7m8 127h7m18 -133h7m-38 203h7m16 -106h7m-59 -100h7m34 33h7m22 55h7m-34 -96h7m-29 35h7m0 35h7m9 38h7m3 -129h7m-20 129h7m16 -37h7m-28 -48h7m-5 98h7m-24 -68h7m2 83h7m-25 24h7m36 -104h7m-21 79h7m-24 -57h7m13 61h7m-33 50h7m11 -177h7m4 63h7m-10 -31h7m-14 -86h7m-7 8h7m-14 181h7m2 39h7m-32 30h7m36 -224h7m-46 51h7m6 61h7m-47 33h7m29 -130h7m12 54h7m-4 71h7m-30 51h7m11 -135h7m-46 -3h7m29 24h7m11 41h7m-32 11h7m-24 -42h7m-22 69h7m15 -69h7m-24 -38h7m30 55h7m-28 116h7m0 -152h7m12 -111h7m-16 50h7m-29 34h7m8 64h7m-4 8h7m11 120h7m-19 -75h7m-24 -150h7m8 91h7m-2 -150h7m22 45h7m-50 183h7m-29 -125h7m-18 -71h7" stroke="#000" stroke-opacity="1" stroke-width="7" fill="none"/>
<path transform="scale(0.1)" d="M622 3217h6m-116 -9h6m-38 -10h6m12 6h6m198 6h6m-50 -7h6m-194 -11h6m50 14h6m-15 -13h6m-57 4h6m226 18h6m-181 -7h6m82 6h6m-65 -4h6m-106 0h6m-16 -13h6m204 14h6m-27 -17h6m-49 -3h6m-107 9h6m46 -5h6m47 16h6m-99 -12h6m109 -8h6m79 22h6m-218 5h6m235 -7h6m-142 8h6m145 -6h6m-9 5h6m-296 -8h6m192 4h6m-146 0h6m115 -20h6m80 6h6m-144 9h6m56 -9h6m-1 16h6m-160 -24h6m70 2h6m-49 6h6m56 0h6m83 15h6m-204 -25h6m125 25h6m-22 4h6m-44 -28h6m140 28h6m-163 -9h6m138 -16h6m-239 21h6m112 -21h6m-112 8h6m230 -5h6m-64 5h6m-151 -8h6m45 7h6m-84 6h6m236 -3h6m-3 2h6" stroke="#222" stroke-opacity="1" stroke-width="6" fill="none"/>
<g clip-path="url(#cS5)"><path d="M95.3 341C95.3 341.58 95.13 342.24 94.86 342.75C94.58 343.26 94.13 343.74 93.65 344.03C93.17 344.32 92.55 344.5 92 344.5C91.45 344.5 90.83 344.32 90.35 344.03C89.87 343.74 89.42 343.26 89.14 342.75C88.87 342.24 88.7 341.58 88.7 341C88.7 340.42 88.87 339.76 89.14 339.25C89.42 338.74 89.87 338.26 90.35 337.97C90.83 337.68 91.45 337.5 92 337.5C92.55 337.5 93.17 337.68 93.65 337.97C94.13 338.26 94.58 338.74 94.86 339.25C95.13 339.76 95.3 340.42 95.3 341Z" fill="#000" fill-opacity="0.9" filter="url(#b1)"/></g>
<path transform="scale(0.1)" d="M926 3428h7m10 -79h7m-15 40h7m-16 -4h7m-36 50h7m17 -37h7m-15 11h7m1 -74h7m-31 64h7m38 49h7m-54 17h7m22 -43h7m-24 -33h7m48 12h7m-50 41h7m44 -80h7m-60 45h7m49 75h7m-59 -63h7m19 23h7m-40 -9h7m-18 -106h7m-26 87h7m54 -74h7m-80 67h7m-51 18h7m117 -106h7m-14 84h7m11 14h7m-53 -5h7m26 3h7m-32 -49h7m5 44h7m31 -1h7m-61 -19h7m16 13h7m-47 54h7m63 -61h7m-86 47h7m-1 51h7m12 -56h7m-39 -30h7m60 15h7m-53 60h7m29 -80h7m-45 -2h7m48 -15h7m-44 -1h7m28 20h7m-18 22h7m-48 4h7m36 -56h7m-14 142h7m-35 -88h7m-36 -5h7m14 9h7m8 -59h7m25 29h7m-66 9h7m-6 10h7m19 -24h7m13 -27h7m2 -22h7m11 66h7m-60 -28h7m16 18h7m-28 36h7m-14 -38h7m18 39h7m-24 -27h7m-1 17h7m34 -51h7m-53 27h7m13 47h7m-24 -39h7m25 -44h7m-60 24h7m14 21h7m-21 46h7m-13 -60h7m44 30h7m-38 -12h7m16 -12h7m-11 -27h7m-24 -22h7m-34 15h7m54 20h7m-35 -14h7m-21 20h7m-25 34h7m-30 -7h7m115 -44h7m-82 -23h7m-8 -5h7m11 37h7m-77 -24h7m0 30h7m62 -3h7m-65 -14h7m30 -49h7m6 87h7m-94 23h7m16 -43h7m73 -43h7m-93 15h7m14 30h7m9 -11h7m-6 10h7m-17 15h7m17 -41h7m45 -8h7m-38 16h7m-18 39h7m8 28h7m-56 44h7m29 -112h7m-57 97h7m79 -73h7m-32 41h7m-26 -53h7m-11 39h7m-5 -63h7m14 -16h7m-50 91h7m21 -31h7m-11 25h7m-11 -92h7m1 -34h7m-73 143h7m82 -63h7m-39 17h7m24 -27h7m-61 5h7m22 27h7m-22 15h7m-25 -25h7m2 -29h7m48 21h7m-71 11h7m-7 17h7m46 14h7m-61 -36h7m76 -2h7m-24 53h7m-82 -10h7m54 -10h7m19 -13h7m-53 5h7m-19 -4h7m-54 38h7" stroke="#000" stroke-opacity="1" stroke-width="7" fill="none"/>
<path transform="scale(0.1)" d="M884 3348h6m24 -27h6m-13 -3h6m-69 -37h6m95 -29h6m-86 192h6m75 -34h6m-50 -79h6m22 18h6m-37 -124h6m-29 -3h6m77 67h6m-69 42h6m1 15h6m-29 -126h6m78 50h6m-85 -6h6m-9 50h6m40 -66h6m-22 23h6m26 -34h6m-45 119h6m-58 -37h6m47 -56h6m-19 109h6m11 -85h6m-22 52h6m46 21h6m-25 47h6m-87 -183h6m-32 138h6m-6 -54h6m101 -82h6m-56 69h6m43 -76h6m-20 134h6m-13 -33h6m33 4h6m-50 -34h6m17 3h6m-6 23h6m11 -53h6m-43 68h6m6 48h6m-7 -14h6m49 -4h6m-112 -137h6m55 64h6m-20 12h6m30 82h6m-91 -55h6m23 -96h6m27 71h6m-13 157h6m25 -82h6m-67 -138h6m52 53h6m-48 -4h6m-4 167h6m-21 -162h6m12 34h6m-55 -124h6m16 94h6m-14 -48h6m-11 37h6m22 -75h6m-21 119h6m9 -103h6m-14 80h6m33 -96h6m-9 70h6m-23 68h6m-43 -89h6m20 92h6m-21 -129h6m-11 108h6m58 -54h6m-58 20h6m1 -46h6m-17 69h6m13 -11h6m-45 -34h6m5 95h6m69 -42h6m-1 -38h6m-72 -60h6m13 50h6m-11 57h6m-18 -96h6m1 62h6" stroke="#555" stroke-opacity="1" stroke-width="6" fill="none"/>
<g clip-path="url(#cS2)"><rect x="142.5" y="235.6" width="18.7" height="50.7" fill="#000" fill-opacity="1" filter="url(#b05)"/></g>
<path transform="scale(0.1)" d="M1615 2709h7m-10 -131h7m18 186h7m-31 -278h7m-11 183h7m-4 -31h7m-9 -9h7m-7 -159h7m11 166h7m-4 -87h7m-20 161h7m-34 -273h7m27 197h7m-41 -116h7m4 36h7m26 -13h7m-1 45h7m-42 252h7m14 -25h7m6 -43h7m-16 -385h7m-33 300h7m6 39h7m-16 54h7m25 -72h7m-22 -10h7m-6 -40h7m-25 -2h7m1 -239h7m-5 215h7m-8 -79h7m-3 162h7m-22 -42h7m12 58h7m-29 -245h7m5 -4h7m25 32h7m-50 201h7m1 -229h7m-12 -88h7m-12 200h7m4 -133h7m-16 35h7m4 96h7m-25 109h7m0 -36h7m-9 -13h7m3 -34h7m1 53h7m-12 -38h7m-25 -33h7m5 -21h7m16 123h7m-12 -135h7m-15 204h7m-6 -111h7m-12 -175h7m-20 -71h7m10 161h7m-21 87h7m-6 96h7m25 -82h7m-40 -269h7m27 270h7m-47 86h7m-14 -209h7m12 11h7m-9 103h7m-2 -274h7m-14 250h7m12 -76h7m-15 1h7m-3 -40h7m-29 172h7m37 -183h7m-46 166h7m6 -149h7m-13 28h7m3 164h7m8 17h7m-21 -105h7m-4 -159h7m9 176h7m-17 -149h7m-12 166h7m-22 -148h7m11 109h7m-20 -117h7m-34 -149h7m9 228h7m-14 133h7m15 -89h7m-37 -52h7m16 -146h7m1 122h7m6 209h7m-22 -124h7m-3 173h7m-16 -236h7m-7 -25h7m-8 31h7m-3 41h7m-10 -34h7m-2 -52h7m0 -165h7m-17 299h7m-27 -123h7m27 42h7m-20 32h7m-11 5h7m-16 -28h7m2 115h7m0 -213h7m-20 300h7m-13 -88h7m26 -13h7m-25 99h7m-5 -192h7m-15 162h7m5 55h7m-20 -260h7m-9 83h7m-10 91h7m6 -267h7m8 128h7m-24 -51h7m-4 -209h7m-38 40h7m20 327h7m-2 -116h7m-30 129h7m6 -114h7m-4 -63h7m-15 -17h7m-15 117h7m8 108h7m-29 22h7m16 -187h7m-17 -92h7m-15 240h7m9 -25h7m7 -171h7m-21 22h7m9 67h7m-18 82h7m-21 75h7m23 -335h7m-14 199h7m-7 -207h7m-15 31h7m-14 336h7m-21 -359h7m24 62h7m-40 254h7m16 -108h7m-20 152h7m-12 -318h7m6 225h7m-14 -191h7m31 96h7m-43 -7h7m-16 70h7m22 -157h7m-7 41h7m-16 -63h7m-21 -106h7m6 170h7m-13 -118h7m-19 69h7m14 131h7m-22 -1h7m25 -26h7m-4 46h7m-16 -135h7m-9 -92h7m-19 119h7m-36 -144h7m34 260h7m-5 -42h7m-31 -98h7m-6 -37h7m-14 281h7m12 -265h7m-19 228h7m4 -109h7m-28 -89h7m-6 -207h7m20 222h7m-24 -88h7m6 264h7m-31 -105h7m12 183h7m-10 -340h7m-8 71h7m13 154h7m-22 -68h7m0 -94h7m-30 -195h7m20 334h7m-14 -65h7m6 -143h7m-13 19h7m-28 -52h7m0 129h7m-3 -41h7m-30 161h7m27 23h7m-24 -46h7m-28 -104h7m30 111h7m-33 56h7m2 -18h7m-24 -176h7m16 116h7m-4 -44h7m-17 68h7m7 -278h7m-22 183h7m-1 170h7m-27 -67h7m-12 -180h7m9 68h7m-8 -34h7m-4 34h7m-26 -158h7m11 270h7m0 -184h7m-6 205h7m-7 -243h7m-11 142h7m-24 -162h7m14 132h7m9 121h7m-36 91h7m25 -187h7m-18 37h7m-29 123h7m10 -30h7m2 79h7m-8 -209h7m-19 70h7m-10 -90h7m19 101h7m-7 -175h7m-32 47h7m-11 20h7m-4 -20h7m18 154h7m-40 -169h7m13 151h7m-25 53h7m-17 -194h7m8 203h7m-6 -246h7m-22 118h7m3 -11h7m-2 41h7m-26 -82h7m10 0h7m5 156h7m15 -12h7m-16 -19h7m-33 -13h7m-17 -36h7m7 -179h7m10 301h7m-17 -42h7m8 -131h7m-45 -114h7m19 164h7m-35 152h7m15 40h7m5 -284h7m-21 -41h7m-19 61h7m11 231h7m-25 -92h7" stroke="#000" stroke-opacity="1" stroke-width="7" fill="none"/>
<path transform="scale(0.1)" d="M1523 2353h7m58 -1h7m8 1h7m-144 8h7m-38 -15h7m68 9h7m-11 -15h7m-71 19h7m105 -12h7m-23 10h7m37 -8h7m20 4h7m-8 10h7m-153 -10h7m70 10h7m-107 -12h7m113 8h7m-107 -11h7m82 -1h7m-19 16h7m-20 -29h7m62 30h7m8 -2h7m-71 1h7m-37 -10h7m-12 15h7m23 -14h7m-99 5h7m70 -2h7m51 4h7m-66 -4h7m-1 4h7m28 -5h7m-99 6h7m98 -15h7m-38 5h7m27 -3h7m-106 14h7m-31 -15h7m40 12h7m49 -9h7m-63 5h7m-12 -8h7m-49 13h7m45 17h7m44 -29h7m-45 9h7m17 1h7m-4 -5h7m5 19h7m-72 -21h7m62 13h7m-1 0h7m-59 -12h7m35 8h7m54 7h7m-147 -30h7m57 16h7m-52 -9h7m-47 8h7m-35 1h7m89 0h7m4 1h7m-95 -8h7m71 16h7m-7 -12h7m-6 -10h7m-76 11h7m48 0h7m-19 -6h7m-25 11h7m6 10h7m54 0h7m33 -16h7m-91 -5h7m67 15h7m-42 -1h7m-14 -3h7m-18 8h7m-71 -18h7m40 17h7m7 -11h7m29 3h7m-84 3h7m146 -9h7m-132 2h7m-51 5h7m-14 -12h7m79 10h7m-96 -6h7m28 13h7m96 -17h7m-22 10h7m-55 8h7m-86 -1h7m-28 -11h7m21 17h7m141 -7h7m-74 -10h7m67 15h7m-58 -12h7m-81 0h7m93 -6h7m-79 20h7m39 1h7m-35 -10h7m51 1h7m-69 -9h7m-115 16h7m56 -18h7m70 -1h7m-139 3h7m70 6h7" stroke="#000" stroke-opacity="1" stroke-width="7" fill="none"/>
<g clip-path="url(#cS2)"><path d="M160 236.3C160.67 233.93 164.42 236.18 166 236.8C167.58 237.42 169.17 237.8 169.5 240C169.83 242.2 169.25 248.17 168 250C166.75 251.83 163.33 253.28 162 251C160.67 248.72 159.33 238.67 160 236.3Z" fill="#000" fill-opacity="0.8" filter="url(#b1)"/></g>
<path transform="scale(0.1)" d="M1686 2472h6m-23 -27h6m125 274h6m29 -34h6m-224 -120h6m122 49h6m-117 197h6m-16 -119h6m226 -63h6m-170 -129h6m48 -54h6m84 101h6m-70 -36h6m-77 193h6m80 137h6m14 -63h6m-40 -278h6m-69 9h6m84 143h6m-100 121h6m-8 -262h6m-26 -11h6m164 95h6m-216 140h6m-22 -152h6m53 -212h6m-48 324h6m54 96h6m134 -94h6m-4 -316h6m-182 114h6m10 121h6m21 -13h6m128 -200h6m-174 99h6m116 57h6m-36 48h6m52 230h6m-153 -128h6m153 -91h6m11 -249h6m-153 11h6m126 357h6m-56 -100h6m-130 52h6m47 -262h6m-53 406h6m154 -221h6m-171 29h6m153 51h6m-153 -23h6m145 74h6m-31 -277h6m-20 -71h6m-120 173h6m104 171h6m-28 -12h6m-75 -175h6m151 171h6m-14 14h6m-80 10h6m56 79h6m-146 -239h6m-46 128h6m34 89h6m51 -299h6m76 333h6m-21 -311h6m-153 157h6m135 -253h6m11 25h6m-80 -47h6m-28 262h6m-12 -293h6m-73 219h6m9 125h6m55 -227h6m-4 -37h6m-2 369h6m-27 -365h6m93 184h6m-173 -58h6m-3 212h6m178 -132h6m-91 -71h6m2 -110h6m-41 280h6m-17 -251h6m-25 238h6m39 -54h6m66 -69h6m-198 212h6m214 -169h6m-190 -22h6m67 52h6m77 -259h6m-176 131h6m120 -211h6m-17 65h6m-18 -48h6m61 258h6m-177 -119h6m16 -73h6m163 109h6m4 264h6m-209 -429h6m128 27h6m-146 367h6m199 -316h6m-4 215h6m-68 -278h6m-57 -24h6m36 278h6m-29 60h6m59 -259h6m-4 125h6m1 -145h6m-12 321h6m-157 -333h6m-10 205h6m115 184h6m-42 -353h6m96 249h6m-229 -113h6m79 176h6m108 2h6m-109 -175h6m-83 -14h6m41 143h6m150 -27h6m-53 -184h6m11 295h6m-148 -211h6m127 -124h6m-202 72h6m47 3h6m93 47h6m2 -74h6m-55 54h6m117 247h6m-150 10h6m-30 -354h6m-23 25h6m127 33h6m11 -70h6m-4 -4h6m-56 126h6m-149 -33h6m87 -163h6m-67 213h6m22 -23h6m-68 230h6m157 -48h6m-115 -101h6m71 -57h6m92 -197h6m-184 255h6m6 139h6m-13 16h6m-53 -18h6m117 -92h6m-10 -189h6m6 -78h6m83 20h6m-101 82h6m2 -133h6m63 91h6m-10 320h6m-92 -109h6m14 -20h6m-64 -262h6m26 167h6m-10 -7h6m6 208h6m-78 -122h6m83 -177h6m-83 -21h6m0 -73h6m-7 188h6m111 62h6m-181 -109h6m221 259h6m-210 -90h6m106 -97h6m-101 -74h6m105 125h6m36 17h6m-110 21h6m3 -202h6m120 42h6m-103 -80h6m-60 -47h6m-40 82h6m146 -23h6m-43 11h6m-101 94h6m42 -46h6m-96 168h6m150 -228h6m24 219h6m-48 84h6m-10 -187h6m-148 147h6m185 -350h6m-83 89h6m68 -84h6m-43 195h6m29 -55h6m-26 50h6m-25 -121h6m-38 -94h6m-85 348h6m-12 85h6m156 -358h6m-35 262h6m-139 -185h6m-42 187h6m183 -67h6m-218 74h6m144 112h6m14 -340h6m-75 287h6m114 -323h6m-72 283h6m79 -306h6m-80 20h6m-38 110h6m-123 -107h6m190 288h6m-193 -369h6m33 148h6m85 108h6m3 110h6m53 84h6m-1 -211h6m-12 -165h6m-38 18h6m-106 183h6m77 -222h6m-145 335h6m35 -2h6m159 -56h6m-93 118h6m65 -250h6m-193 245h6m100 -365h6m-108 27h6m122 132h6m48 171h6m-126 -421h6m-109 406h6m72 -232h6m-67 235h6m85 -2h6m78 14h6m38 -155h6m-178 -213h6m-37 87h6m-31 25h6m57 142h6m-18 -149h6m-18 73h6m160 -63h6m-153 125h6m-37 -225h6m-8 114h6m135 235h6m-79 -285h6m-16 97h6m72 139h6m-24 -40h6m-48 -109h6m33 -189h6m-82 381h6m24 26h6m54 -62h6m-167 -13h6m89 58h6m-12 -6h6m-21 -191h6m38 -40h6m40 31h6m6 -155h6m2 28h6m-43 238h6m-154 24h6m50 -22h6m98 -54h6m-141 -204h6m107 107h6m-144 275h6m196 1h6m-171 -315h6m59 38h6m-82 -91h6m7 83h6m66 43h6m7 -80h6m78 300h6m-167 -398h6m159 174h6m-164 -177h6m33 138h6m132 194h6m-115 -318h6m-70 230h6m43 -3h6m85 -2h6m5 -32h6m-191 56h6m92 -170h6m-40 0h6m-78 245h6m82 -288h6m-42 311h6m103 36h6m-183 -158h6m101 -139h6m-33 76h6m13 36h6m-3 88h6m128 117h6m-78 -246h6m-80 -106h6m-17 49h6m18 308h6m116 -354h6m-89 19h6m82 -106h6m-190 279h6m72 -68h6m43 170h6m19 -88h6m-183 5h6m68 16h6m109 -109h6m-70 -78h6m-121 -133h6m62 181h6m14 -184h6m-129 96h6m97 79h6m7 70h6m114 -68h6m-115 -80h6m-4 259h6m-116 -210h6m-16 18h6m98 -63h6m35 -73h6m-107 329h6m81 -145h6m-123 47h6m38 154h6m55 5h6m-59 -146h6m28 176h6m60 -194h6m-137 163h6m111 -197h6m69 -98h6m-40 111h6m-116 -162h6m58 106h6m-134 -73h6m143 107h6m0 -173h6m-135 165h6m33 65h6m49 201h6m7 4h6m-15 -163h6m25 -98h6m19 142h6m-99 83h6m-117 -111h6m188 -240h6m-177 200h6m97 -53h6m39 200h6m17 -119h6m-74 146h6m19 -444h6m75 313h6m-53 -231h6m-125 121h6m153 180h6m-69 73h6m-98 -371h6m-12 306h6m35 -350h6m10 84h6m76 -43h6m-101 366h6m56 -419h6m-98 334h6m27 -134h6m-42 95h6m11 -304h6m69 179h6m-120 45h6m57 -126h6m56 172h6m-185 -272h6m91 -1h6m83 274h6m-34 -186h6m33 285h6m-143 -141h6m82 152h6m-81 -15h6m-61 -69h6m166 132h6m-126 -353h6m101 152h6m3 -208h6m2 279h6m-132 53h6m119 36h6m-142 -176h6m97 191h6m-167 -262h6m184 -13h6m-183 183h6m155 88h6m-27 -403h6m-146 206h6m122 -30h6m24 -198h6m19 37h6m36 341h6m-187 60h6m39 -180h6m-20 -159h6m66 355h6m-121 -267h6m84 -139h6m-85 314h6m-13 -42h6m128 -5h6m-57 -147h6m51 -49h6m-35 -25h6m40 179h6m-97 -138h6m-120 198h6m236 90h6m-195 -33h6m140 -390h6m-159 294h6m70 -285h6m-60 118h6m84 0h6m-148 124h6m-7 -246h6m89 89h6m89 338h6m-100 -434h6m-91 151h6m208 70h6m-223 -183h6m44 88h6m57 160h6m-79 -141h6m99 109h6m-74 185h6m86 -407h6m-181 276h6m175 -310h6m14 175h6m-165 158h6m-10 114h6m152 -237h6m-121 80h6m-10 -68h6m40 -177h6m-15 -14h6m59 224h6m-41 153h6m3 -297h6m-74 236h6m15 -58h6m77 -139h6m-3 153h6m-68 -284h6m-11 91h6m-77 61h6m38 125h6m-76 -291h6m65 3h6m-110 425h6m42 -191h6m1 176h6m40 48h6m45 -398h6m-149 101h6m127 293h6m27 -470h6m-155 467h6m-13 9h6m-15 -118h6m124 -175h6m-64 138h6m-94 -315h6m14 159h6m54 -152h6m-82 188h6m175 123h6m-153 -318h6m146 420h6m-196 -387h6m68 71h6m139 73h6m-197 -133h6m-34 305h6m190 -33h6m-16 -43h6m-79 -77h6m-97 80h6m35 -106h6m31 140h6m121 110h6m-190 -59h6m104 -195h6m5 249h6m34 -275h6m-54 176h6m-79 29h6m10 -158h6m2 216h6m22 54h6m-20 -409h6m-111 -36h6m158 119h6m-106 -128h6m58 461h6m-83 -345h6m28 -54h6m128 206h6m-247 178h6m148 -40h6m-117 1h6m182 -325h6m-39 34h6m-3 -87h6m-5 293h6m-127 -164h6m34 147h6m96 -302h6m-117 340h6m109 -294h6m-37 412h6m-85 -345h6m3 105h6m-8 160h6m-67 -91h6m14 -264h6m13 405h6m20 -91h6m78 9h6m-102 -117h6m12 -166h6m30 236h6m17 -166h6m36 251h6m-63 -242h6m-40 164h6m23 -62h6m-152 -186h6m145 254h6m-133 137h6m156 -436h6m-8 253h6m-66 29h6m70 92h6m-223 -250h6m0 245h6m96 -42h6m-78 -264h6m-50 266h6m224 -143h6m-138 -117h6m97 19h6m-142 44h6m79 194h6m-144 -282h6m129 236h6m15 83h6m-28 -143h6m-39 187h6m57 -91h6m-132 -98h6m104 217h6m-101 -200h6m-60 -193h6m70 32h6m86 292h6m-149 15h6m143 -221h6m-108 -16h6m27 -74h6m-110 307h6m18 68h6m116 -23h6m55 -238h6m-165 215h6m98 -331h6m41 -63h6m-15 235h6m20 -104h6m-213 66h6m132 -196h6m-99 49h6m-67 151h6m106 8h6m107 100h6m-156 11h6m-27 -169h6m173 32h6m-84 -82h6m-132 -60h6m-40 118h6m9 86h6m-6 200h6m191 -124h6m-51 35h6m-133 6h6m55 52h6m-2 -7h6m96 -356h6m20 68h6m-242 -25h6m-1 257h6m137 -151h6m-143 220h6m83 -179h6m48 -261h6m-36 102h6m-86 77h6m18 -129h6m56 206h6m-101 -247h6m185 94h6m-172 -111h6m139 51h6m-165 282h6m68 -97h6m73 218h6m-44 -397h6m-136 28h6m24 -62h6m25 67h6m24 46h6m107 64h6m-157 -86h6m-4 -38h6m38 100h6m-82 -158h6m141 371h6m-209 -121h6m178 -30h6m34 -20h6m-149 42h6m100 211h6m-15 -293h6m7 89h6m-34 -173h6m-35 89h6m-70 -143h6m28 369h6m-82 -88h6m122 42h6m-36 -3h6m-116 -302h6m5 241h6m47 -235h6m-38 227h6m-6 -233h6m136 12h6m-116 -17h6m-70 199h6m203 -201h6m3 118h6m-37 29h6m-98 270h6m119 -99h6m-20 -94h6m-69 71h6m6 -347h6m0 172h6m-49 -39h6m76 179h6m-10 -255h6m-34 391h6m-17 -297h6m-65 263h6m-37 -11h6m148 -184h6m-101 -223h6m82 56h6" stroke="#888" stroke-opacity="1" stroke-width="6" fill="none"/>
<path transform="scale(0.1)" d="M1699 2540h6m-83 -126h6m54 65h6m-62 -27h6m26 -31h6m-34 44h6m45 -56h6m106 47h6m83 4h6m-166 -15h6m182 57h6m-220 -47h6m-22 18h6m-5 -62h6m60 96h6m23 -30h6m-63 -159h6m-21 111h6m43 98h6m10 -176h6m-58 76h6m43 9h6m-192 -43h6m106 -58h6m8 89h6m78 8h6m-126 0h6m40 55h6m-75 -163h6m256 152h6m-198 84h6m-90 -162h6m44 64h6m-8 15h6m2 26h6m51 -149h6m-41 26h6m-14 57h6m163 -12h6m-279 18h6m25 87h6m127 -13h6m-85 -133h6m43 -17h6m-95 31h6m52 -39h6m-142 150h6m102 -82h6m75 32h6m-95 -45h6m155 87h6m-67 21h6m-193 -78h6m108 -105h6m38 131h6m-11 -125h6m-40 103h6m-7 4h6m46 58h6m-24 62h6m-7 -119h6m34 -19h6m-85 67h6m-135 -153h6m295 128h6m-116 -22h6m-24 -64h6m-46 -4h6m96 85h6m-71 -12h6m-32 -79h6m125 92h6m-140 -3h6m97 30h6m-49 -18h6m-70 27h6m78 -20h6m-166 -16h6m134 8h6m-239 -137h6m199 47h6m2 44h6m27 -24h6m-144 55h6m50 -87h6m-128 221h6m110 -174h6m-121 -40h6m123 69h6m61 -55h6m-27 97h6m-78 -62h6m-98 -39h6m24 76h6m80 48h6m21 -41h6m17 -30h6m-120 74h6m65 -179h6m-41 37h6m120 111h6m20 59h6m-164 -210h6m-27 118h6m-133 -52h6m250 -13h6m-76 -3h6m130 148h6m-206 -144h6m77 80h6m16 -2h6m36 30h6m61 -52h6m-175 -12h6m191 48h6m-115 27h6m32 53h6m-154 -112h6m108 32h6m-90 -127h6m2 48h6m6 93h6m53 -117h6m-112 69h6m131 -13h6m-74 -76h6m-58 37h6m44 27h6m-85 -43h6m72 22h6m61 41h6m-109 39h6m-74 0h6m28 -10h6m-3 -87h6m-91 51h6m163 -75h6m87 72h6m-217 102h6m47 -26h6m-182 36h6m213 -112h6m3 -60h6m38 83h6m-50 -53h6m-114 48h6m138 -11h6m-80 -34h6m60 102h6m-69 -120h6m183 -36h6m-165 75h6m70 -2h6m-221 -51h6m122 57h6m-62 -28h6m-71 -47h6m61 41h6m30 -25h6m117 -30h6m-56 119h6m46 43h6m-215 -52h6m144 30h6m-23 -78h6m50 24h6m-134 16h6m-3 -44h6m35 170h6m9 -131h6m-62 13h6m-58 7h6m98 -20h6m9 -15h6m8 38h6m-14 -27h6m17 -10h6m24 4h6m-7 19h6m-100 -65h6m42 70h6m-48 3h6m0 -68h6m-100 79h6m91 46h6m126 -36h6m-105 -13h6m-44 -62h6m-202 72h6m225 -37h6m-39 48h6m50 -40h6m-89 21h6m69 82h6m-129 -88h6m-4 -48h6m226 2h6m-184 -9h6m65 8h6m-187 29h6m173 -9h6m-54 -34h6m-85 36h6m-21 -23h6m4 10h6m123 10h6m18 21h6m-97 -66h6m10 -13h6m41 -9h6m-161 25h6m-26 49h6m59 -29h6m94 -90h6m-69 131h6m85 -11h6m-127 41h6m109 66h6m82 -124h6m-62 21h6m-178 26h6m161 -157h6m-4 78h6m14 54h6m-111 60h6m-41 36h6m-51 -139h6m-15 59h6m67 13h6m77 0h6m-7 15h6m-90 -94h6m-71 76h6m26 -89h6m-28 39h6m71 -2h6m-97 40h6m-93 -45h6m228 30h6m5 -8h6m-50 -4h6m-79 17h6m94 -120h6m-134 -7h6m-16 41h6m26 50h6m97 78h6m-133 -88h6m96 -8h6m-80 -62h6m75 108h6m-127 -81h6m-13 90h6m35 -85h6m6 107h6m107 24h6m-86 -54h6m7 21h6m16 -83h6m-101 30h6m97 -7h6m-111 78h6m153 -98h6m-120 105h6m-25 -12h6m-78 -58h6m142 90h6m15 -161h6m-184 38h6m163 81h6m12 -2h6m-124 -54h6m-29 62h6m-33 -40h6m102 60h6m-78 -43h6m-23 32h6m39 -68h6m-48 -15h6m16 0h6m123 -19h6m-71 93h6m-104 -152h6m108 25h6m-95 79h6m69 -8h6m-76 64h6m60 47h6m-86 -102h6m55 32h6m14 -26h6m117 -10h6m-114 18h6m-81 28h6m-95 20h6m16 -74h6m112 -9h6m-50 86h6m201 -8h6m-165 -84h6m-72 93h6m112 5h6m2 1h6m-120 -107h6m-35 38h6m52 7h6m-78 3h6m137 -5h6m-255 -5h6m160 48h6m8 -15h6m-22 -15h6m90 -30h6m-53 21h6m16 -14h6m-16 -86h6m-56 134h6m58 -90h6m-110 68h6m76 4h6m-27 -18h6m63 -53h6m-177 98h6m38 -16h6m0 -90h6m150 52h6m-214 -8h6m81 0h6m17 -47h6m-37 80h6m57 -18h6m-106 -103h6m153 42h6m-140 57h6m57 -2h6m-95 0h6m197 127h6m-167 -93h6m-113 -22h6m167 -25h6m72 59h6m-91 -175h6m-92 167h6m3 -124h6m-12 164h6m82 -32h6m-40 37h6m-216 -141h6m325 113h6m-123 -70h6m-150 -4h6m111 -25h6m101 98h6m-123 -6h6m11 -32h6m-37 111h6m-77 -132h6m172 59h6m-193 -99h6m101 8h6m-46 27h6m30 68h6m-114 -2h6m97 -24h6m-14 89h6m-108 -59h6m89 -71h6m125 2h6m-42 83h6m-111 29h6m125 -113h6m-79 -24h6m-1 79h6m44 -32h6m-113 -44h6m-37 19h6m104 -16h6m-96 -23h6m82 40h6m-160 68h6m182 -55h6m-105 -2h6m-47 52h6m157 1h6m-87 -40h6m15 74h6m-100 -86h6m2 -60h6m66 117h6m-104 -7h6m115 -26h6m43 -57h6m11 15h6m-81 -59h6m24 79h6m-113 -53h6m47 118h6m17 -84h6m-97 -35h6m25 -28h6m-10 135h6m16 -63h6m-44 44h6m81 35h6m-100 -127h6m1 -6h6m32 40h6m-62 19h6m124 38h6m-120 -34h6m60 31h6m-53 -97h6m43 16h6m-56 35h6m84 -10h6m-59 12h6m-56 55h6m0 -20h6m46 -116h6m-141 -66h6m130 171h6m-63 -39h6m8 -5h6m14 29h6m-66 73h6m127 -91h6m75 143h6m-71 -63h6m-133 -75h6m-76 -5h6m173 0h6m-191 101h6m249 -5h6m-251 -34h6m43 -48h6m101 83h6m-99 -94h6m-50 18h6m14 -25h6m116 24h6m-51 15h6m42 55h6m-144 -150h6m112 116h6m55 4h6m18 -13h6m-172 24h6m-24 -85h6m85 22h6m31 -6h6m57 -32h6m-85 28h6m44 -6h6m-51 -130h6m-112 242h6m60 -78h6m43 116h6m-146 -124h6m39 39h6m-23 -114h6m-64 112h6m116 10h6m-133 -89h6m68 88h6m64 -51h6m-108 18h6m31 36h6m151 -39h6m-208 114h6m118 -93h6m-43 -18h6m-7 4h6m-118 -49h6m93 44h6m14 14h6m-148 -70h6m75 55h6m28 93h6m-19 -112h6m-89 104h6m109 -97h6m-57 10h6m15 56h6m-38 -82h6m13 51h6m55 20h6m9 -21h6m-40 17h6m24 -29h6m-153 -40h6m58 -68h6m135 164h6m-22 -44h6m22 -113h6m-21 -17h6m-84 107h6m18 27h6m8 -68h6m-103 -7h6m50 25h6m-127 65h6m26 -73h6m22 -13h6m87 3h6m-148 2h6m22 -44h6m131 135h6m-172 20h6m224 -148h6m-105 56h6m23 -134h6m-21 129h6m-16 63h6m-205 -47h6m159 33h6m74 8h6m-140 -3h6m-5 3h6m35 -47h6m16 -71h6" stroke="#333" stroke-opacity="1" stroke-width="6" fill="none"/>
<path transform="scale(0.1)" d="M1737 2460h6m-14 79h6m-11 -130h6m12 77h6m-90 18h6m67 -44h6m-25 27h6m46 53h6m-72 -94h6m104 65h6m-111 -2h6m27 -15h6m-45 -26h6m33 41h6m8 14h6m3 6h6m-8 -19h6m-11 52h6m4 -70h6m15 -48h6m-77 39h6m-20 -14h6m8 72h6m35 -78h6m-98 -42h6m64 115h6m3 -54h6m-38 -14h6m3 36h6m-30 26h6m22 -26h6m11 33h6m-8 -93h6m-60 17h6m48 53h6m-17 22h6m-73 -21h6m123 65h6m-77 -89h6m-37 -39h6m13 15h6m-30 52h6m9 -46h6m-15 35h6m91 -13h6m-97 -26h6m2 13h6m41 -7h6m-45 16h6m7 1h6m11 8h6m42 7h6m-44 -11h6m-32 22h6m3 4h6m1 1h6m-38 -25h6m26 37h6m-16 -30h6m-51 -84h6m13 83h6m49 24h6m-78 -60h6m49 65h6m-21 -81h6m-12 -5h6m23 78h6m3 57h6m3 -74h6m-36 10h6m-34 -89h6m-32 64h6m51 -38h6m-28 49h6m-66 -14h6m22 -2h6m67 9h6m-42 -9h6m-26 6h6m50 -33h6m-16 12h6m-40 15h6m-16 17h6m22 -26h6m21 71h6m-44 -63h6m-15 -7h6m-52 14h6m128 -8h6m-107 -24h6m40 -28h6m15 55h6m-36 29h6m42 0h6m9 2h6m-56 32h6m2 -69h6m-6 68h6m-39 -154h6m-8 59h6m15 57h6m-6 -23h6m13 17h6m-43 -103h6m20 90h6m-65 -68h6m4 65h6m-36 -69h6m60 98h6m-31 29h6m-8 -93h6m10 95h6m8 -55h6m-66 -26h6m68 13h6m-33 -23h6m11 46h6m-14 46h6m-29 -29h6m9 26h6m-34 -58h6m60 67h6m-64 -72h6m83 66h6m-112 -60h6m45 -37h6m-68 -6h6m-5 53h6m46 -50h6m-14 -2h6m42 64h6m-21 34h6m21 3h6m-4 -70h6m-68 -13h6m29 57h6m-9 -24h6m-73 -45h6m67 75h6m7 3h6m-61 -56h6m3 -3h6m-3 -2h6m-71 20h6m82 22h6m-26 -66h6m12 51h6m52 19h6m-105 8h6m-46 -11h6m57 26h6m-60 -53h6m64 38h6m13 26h6m-123 -116h6m126 98h6m-34 -29h6m10 -59h6m-101 -9h6m57 7h6m-9 77h6m-8 -89h6m8 70h6m-31 33h6m-13 -56h6m27 31h6m-101 -64h6m81 45h6m-4 8h6m-54 -6h6m10 -71h6m24 40h6m13 39h6m-87 -68h6m-53 17h6m70 51h6m18 7h6m-61 -34h6m42 -8h6m-92 -12h6m77 21h6m-79 -23h6m45 53h6m29 -32h6m25 5h6m-94 -34h6m39 87h6m-8 -46h6m4 7h6m-39 -8h6m7 -13h6m35 57h6m-64 -41h6m5 11h6m-1 -47h6m-56 18h6m74 82h6m-18 -48h6m-30 -10h6m24 -27h6" stroke="#111" stroke-opacity="1" stroke-width="6" fill="none"/>
<g clip-path="url(#cS2)"><path d="M183.4 268C183.4 270.17 183.22 272.62 182.92 274.5C182.62 276.38 182.12 278.17 181.6 279.26C181.08 280.34 180.4 281 179.8 281C179.2 281 178.52 280.34 178 279.26C177.48 278.17 176.98 276.38 176.68 274.5C176.38 272.62 176.2 270.17 176.2 268C176.2 265.83 176.38 263.38 176.68 261.5C176.98 259.62 177.48 257.83 178 256.74C178.52 255.66 179.2 255 179.8 255C180.4 255 181.08 255.66 181.6 256.74C182.12 257.83 182.62 259.62 182.92 261.5C183.22 263.38 183.4 265.83 183.4 268Z" fill="#000" fill-opacity="0.85" filter="url(#b1)"/></g>
<path transform="scale(0.1)" d="M1831 2766h6m-22 -102h6m-35 17h6m13 -134h6m-28 11h6m45 -31h6m-81 50h6m38 -5h6m45 175h6m-139 -54h6m82 -157h6m-20 142h6m-24 -20h6m26 -43h6m-19 -73h6m16 59h6m27 19h6m-46 21h6m-5 -60h6m-53 82h6m1 135h6m43 -94h6m-34 -54h6m30 26h6m-33 -35h6m-18 162h6m-14 -185h6m45 174h6m4 -213h6m-37 30h6m-7 -106h6m-26 280h6m7 -368h6m20 293h6m-47 -39h6m-8 122h6m4 -290h6m-33 341h6m58 -88h6m-67 -27h6m52 -46h6m-15 110h6m4 -72h6m-25 -178h6m-30 218h6m58 -68h6m-26 -18h6m-72 44h6m40 -140h6m-48 100h6m5 48h6m-33 33h6m18 -49h6m-37 62h6m-9 -292h6m71 287h6m-87 -38h6m82 93h6m-32 -312h6m3 267h6m-30 -128h6m-2 -75h6m-9 -18h6m-10 235h6m8 -189h6m49 209h6m-60 -322h6m34 323h6m-66 12h6m-14 -179h6m6 48h6m4 132h6m-12 -105h6m6 -21h6m-34 -29h6m65 91h6m-88 -130h6m-1 -34h6m6 -53h6m30 225h6m-16 -146h6m-6 -30h6m-97 121h6m81 -20h6m-16 -179h6m0 116h6m-8 37h6m-41 -36h6m-7 24h6m84 12h6m-82 -135h6m38 65h6m-3 1h6m-44 67h6m-41 133h6m10 -111h6m46 73h6m-38 -103h6m10 127h6m-37 -70h6m117 -144h6m-157 47h6m49 230h6m14 -54h6m-44 -125h6m26 -85h6m-6 60h6m-8 -118h6m-79 292h6m61 -154h6m76 118h6m-74 -176h6m-9 95h6m-26 126h6m27 -90h6m-56 -132h6m56 97h6m-60 10h6m13 -79h6m-12 125h6m10 -170h6m-40 122h6m-16 -18h6m23 -150h6m-79 48h6m71 87h6m34 0h6m-49 38h6m-17 142h6m-11 -272h6m-4 217h6m-8 -207h6m31 203h6m-38 -50h6m-14 73h6m-19 -176h6m14 -69h6m5 168h6m5 -36h6m-39 -42h6m47 -99h6m-57 18h6m-26 153h6m11 107h6m-21 -209h6m36 -69h6m-76 36h6m61 -31h6m4 -96h6m16 300h6m-48 -149h6m41 9h6m-21 -67h6m-15 121h6m-89 -31h6m83 69h6m-12 78h6m-20 -215h6m-15 240h6m-1 -316h6m-29 66h6m60 101h6m-61 3h6m57 -22h6m-74 46h6m-10 15h6m53 -33h6m-52 -7h6m-37 153h6m115 -164h6m-148 -73h6m14 -126h6m36 180h6m-22 133h6m15 -219h6m6 -30h6m-30 45h6m14 60h6m-34 56h6m28 -2h6m15 -136h6m-29 286h6m-19 -409h6m25 212h6m-16 50h6m-7 100h6m-22 -46h6m-52 -177h6m32 261h6m-29 -204h6m42 -18h6m-69 -152h6m61 88h6m-20 173h6m-49 -7h6m-43 -59h6m29 36h6m34 -5h6m8 -87h6m-73 -63h6m73 21h6m-49 147h6m0 -142h6m-69 203h6m43 -270h6m-8 176h6m-48 10h6m57 33h6m-6 -153h6m-59 84h6m30 182h6m1 -118h6m5 -228h6m17 136h6m-77 92h6m80 -57h6m-55 -55h6m-10 185h6m10 -73h6m10 -352h6m-19 368h6m-5 -217h6m-38 228h6m33 -25h6m-56 -18h6m76 -24h6m-9 86h6m-22 -161h6m-54 0h6m52 201h6m-76 -265h6m31 271h6m-1 -70h6m1 -6h6m-26 -11h6m20 -61h6m26 -100h6m-72 23h6m40 202h6m-64 -106h6m4 -151h6m-18 178h6m38 -111h6m-24 162h6m38 -50h6m-76 -200h6m22 132h6m-26 -40h6m-6 88h6m34 -101h6m31 234h6m-73 -116h6m51 -127h6m-74 31h6m-19 138h6m20 -63h6m3 -31h6m40 3h6m-82 -126h6m0 163h6m21 10h6m-25 16h6m22 -170h6m-8 168h6m-27 71h6m5 -192h6m22 262h6m-73 -191h6m59 71h6m-2 73h6m-95 -65h6m-1 -170h6m11 148h6m-24 -39h6m30 -13h6m-27 -58h6m73 86h6m-84 -78h6m26 235h6m-5 -138h6m18 -156h6m-58 289h6m39 -379h6m-36 153h6m0 115h6m26 73h6m-88 -109h6m48 -142h6m28 -28h6m-78 308h6m52 -83h6m23 -220h6m-4 145h6m-33 74h6m-3 -124h6m-27 57h6m29 -249h6m5 134h6m19 149h6m-20 -74h6m-6 68h6m-48 4h6m-100 -204h6m22 165h6m39 77h6m13 44h6m-40 -93h6m0 -160h6m-47 112h6m21 -47h6m-7 -59h6m115 119h6m-138 -25h6m36 -135h6m27 57h6m-23 49h6m-43 -114h6m-3 55h6m46 152h6m-80 140h6m25 -325h6m37 208h6m-74 -190h6m21 49h6m17 101h6m-62 -145h6m24 252h6m-18 -74h6m-7 -17h6m-3 -2h6m-17 -124h6m86 177h6m-109 27h6m29 18h6m-44 -154h6m23 -65h6m8 42h6m-60 153h6m85 -137h6m-87 79h6m38 -216h6m62 233h6m-106 -163h6m52 213h6m-12 -70h6m-34 -30h6m16 -53h6m7 195h6m-103 -187h6m107 173h6m-62 -78h6m15 -56h6m-32 92h6m53 63h6m-36 -155h6m-22 -23h6m59 -111h6m-145 226h6m121 36h6m-18 -24h6m-61 -5h6m-16 -278h6m19 29h6m-35 68h6m16 84h6m-25 -79h6m22 80h6m14 65h6m-14 -34h6m8 -50h6m-21 -95h6m-5 201h6m-35 36h6m-1 -26h6m65 -90h6m-73 24h6m-6 -145h6m40 -107h6m-10 121h6m-5 29h6m23 0h6m-65 40h6m-7 -21h6m4 -47h6m55 7h6m-56 217h6m-34 -50h6m-16 -199h6m-15 222h6m54 -213h6m-7 0h6m-33 171h6m-79 -8h6m51 -225h6m26 188h6m-17 -60h6m-39 -111h6m8 28h6m-13 155h6m34 2h6m-22 -75h6m15 154h6m-53 -171h6m-21 14h6m69 -112h6m-24 119h6m-88 52h6m28 6h6m33 -103h6m26 84h6m-80 -188h6m91 88h6m-76 116h6m21 -174h6m-114 154h6m25 -41h6m109 -34h6m-51 -55h6m69 78h6m-90 25h6m-39 129h6m6 -212h6m-16 64h6m14 47h6m-35 -70h6m87 26h6m-29 -20h6m-39 -21h6m-82 8h6m87 193h6m0 -195h6m-52 -64h6" stroke="#111" stroke-opacity="1" stroke-width="6" fill="none"/>
<path transform="scale(0.1)" d="M1966 2825h6m-271 -102h6m-76 -114h6m17 95h6m199 -160h6m-127 -113h6m204 -3h6m-80 66h6m-83 317h6m73 -233h6m68 127h6m-11 -176h6m-264 245h6m47 -98h6m-31 -191h6m176 -98h6m150 360h6m-223 -298h6m-190 292h6m143 -310h6m-51 333h6m66 -55h6m228 -259h6m-8 134h6m-191 104h6m72 -237h6m-323 8h6m243 -9h6m12 -57h6m94 444h6m-190 -367h6m-11 164h6m189 -184h6m-329 46h6m364 308h6m-121 -349h6m69 -59h6m-2 384h6m-223 -165h6m232 -32h6m-97 246h6m-49 -289h6m-229 209h6m160 -188h6m22 14h6m-192 153h6m78 -169h6m59 -186h6m-123 119h6m6 302h6m63 -272h6m-126 141h6m74 0h6m34 96h6m-72 -210h6m-20 146h6m83 -151h6m105 -55h6m-280 -92h6m116 371h6m-26 -369h6m130 152h6m-227 130h6m5 -185h6m364 114h6m-183 165h6m15 -44h6m-202 -198h6m-71 279h6m25 -20h6m-24 -24h6m138 -298h6m-61 90h6m317 298h6m-419 -202h6m-24 -174h6m31 101h6m-40 -40h6m209 100h6m-44 -126h6m-49 317h6m289 -225h6m-103 -4h6m-256 -229h6m-49 100h6m349 -14h6m-21 108h6m-355 -177h6m338 119h6m-110 267h6m71 -169h6m-30 200h6m-189 -247h6m236 89h6m-373 139h6m396 -247h6m-403 50h6m269 -26h6m-94 56h6m69 -126h6" stroke="#999" stroke-opacity="1" stroke-width="6" fill="none"/>
<path transform="scale(0.1)" d="M1438 3354h6m185 -53h6m-11 -34h6m34 -7h6m-213 26h6m83 35h6m83 89h6m-210 -217h6m159 192h6m70 -93h6m-134 -12h6m199 6h6m-153 -67h6m55 72h6m-125 -10h6m7 198h6m70 -135h6m-145 -136h6m88 108h6m-79 59h6m25 -71h6m-54 -48h6m72 83h6m63 -84h6m-204 74h6m249 -60h6m-178 4h6m70 91h6m-134 -34h6m233 11h6m-227 -134h6m75 184h6m71 6h6m-123 -90h6m-50 32h6m56 -87h6m-25 88h6m121 15h6m140 -2h6m-331 21h6m1 -141h6m152 33h6m-77 6h6m-25 -80h6m103 193h6m-120 1h6m105 -3h6m56 -157h6m-73 70h6m-11 -7h6m125 125h6m-213 -79h6m18 -12h6m64 -79h6m-241 136h6m171 -103h6m-108 -67h6m33 -16h6m36 131h6m-88 47h6m136 -54h6m-157 -56h6m-26 -85h6m88 174h6m-33 -41h6m90 53h6m-147 -12h6m20 -216h6m240 169h6m-243 85h6m72 -124h6m-31 57h6m-47 -176h6m29 93h6m-127 65h6m315 -82h6m-191 -18h6m55 115h6m-70 61h6m15 -118h6m-151 18h6m125 -1h6m-66 -15h6m-63 -42h6m-5 195h6m183 -26h6m-103 -99h6m64 -16h6m28 33h6m-41 -59h6m97 64h6m-122 -62h6m-142 94h6m3 18h6m-12 -66h6m68 62h6m-100 -23h6m110 14h6m-120 -50h6m4 -25h6m176 102h6m-208 -88h6m80 -51h6m-38 -8h6m90 7h6m80 -66h6m-91 168h6m-129 -151h6m77 31h6m85 87h6m-117 0h6m71 -9h6m-27 25h6m-113 48h6m206 1h6m-154 -28h6m-125 -98h6m13 15h6m165 -15h6m-153 -45h6m-12 -10h6m152 97h6m-3 99h6m-51 -67h6m-40 -49h6m-89 -37h6m6 63h6m121 -63h6m-201 134h6m175 -18h6m-88 -141h6m152 170h6m-197 -54h6m163 134h6m5 -124h6m-147 -65h6m10 -13h6m64 52h6m-92 -74h6m29 44h6m21 -40h6m23 54h6m118 -41h6m-1 237h6m-203 -55h6m111 -209h6m-173 144h6m81 -8h6m7 38h6m-72 -162h6m-49 66h6m-29 0h6m63 -18h6m10 -5h6m97 31h6m-28 -99h6m-80 62h6m-140 84h6m200 21h6m-125 -240h6m101 159h6m-3 -3h6m57 44h6m-169 122h6m-30 -297h6m65 173h6m39 -66h6m-64 -20h6m-46 98h6m-16 3h6m21 -41h6m-13 69h6m37 -125h6m-5 127h6m8 -145h6m-108 1h6m204 79h6m-55 41h6m-126 17h6m15 -50h6m-37 -72h6m54 -33h6m-54 -84h6m-3 120h6m188 57h6m-119 -202h6m-109 113h6m168 138h6m-125 -52h6m-8 -14h6m48 42h6m-86 -86h6m170 20h6m-239 178h6m77 -160h6m-151 -57h6m267 47h6m-27 -48h6m-38 80h6m-127 -123h6m170 124h6m-141 49h6m-103 35h6m176 -55h6m-26 -78h6m-82 72h6m-40 59h6m127 3h6m-238 9h6m95 -149h6m14 141h6m69 -66h6m51 44h6m6 -9h6m-90 -27h6m-173 -44h6m139 -40h6m-68 117h6m10 -67h6m218 20h6m-104 8h6m-41 44h6m-85 -26h6m-33 -75h6m103 -14h6m59 -26h6m-76 41h6m-106 46h6m32 -120h6m-46 171h6m113 -100h6m-158 19h6m-63 21h6m205 -17h6m-154 10h6m32 6h6m128 -22h6m-192 80h6m170 -75h6m-58 -92h6m-17 181h6m-106 -147h6m-24 12h6m96 -44h6m51 7h6m142 76h6m-219 -97h6m13 -17h6m48 82h6m-64 73h6m61 54h6m14 -39h6m-178 -120h6m128 94h6m-131 -25h6m138 62h6m-158 -142h6m23 -1h6m129 206h6m-186 -74h6m59 -10h6m22 -42h6m70 50h6m-139 -14h6m-25 -33h6m113 32h6m-183 -15h6m181 -110h6m-181 148h6m131 -185h6m57 93h6m-216 56h6m47 -14h6m82 153h6m60 -139h6m-87 6h6m32 -63h6m-4 -4h6m-112 39h6m150 58h6m-101 -48h6m132 -51h6m-252 -81h6m-20 180h6m30 -119h6m112 1h6m-119 13h6m107 7h6m-95 32h6m-5 18h6m15 60h6m31 -31h6m-65 -78h6m206 -64h6m-56 57h6m-55 -34h6m-24 102h6m9 45h6m-40 -101h6m-40 -47h6m-99 98h6m91 30h6m13 -7h6m-34 2h6m246 -102h6m-234 33h6m30 60h6m-134 -19h6m95 -17h6m4 96h6m24 -105h6m-42 144h6m-90 -55h6m-11 -174h6m-8 124h6m39 -67h6m-60 -17h6m-34 23h6m127 45h6m55 -45h6m-97 -128h6m13 141h6m35 79h6m-83 -135h6m44 135h6m51 -88h6m-186 16h6m-18 -120h6m131 165h6m23 -82h6m-75 -23h6m229 154h6m-171 -38h6m-92 -77h6m212 26h6m-262 55h6m47 40h6m-63 -135h6m17 155h6m126 -85h6m-88 5h6m-110 11h6m41 -17h6m45 4h6m-53 42h6m74 -110h6m2 27h6m-11 76h6m-91 -56h6m48 5h6m187 20h6m-317 -15h6m52 148h6m-14 -226h6m128 37h6m-115 19h6m-35 -12h6m124 146h6m-63 -66h6m-83 41h6m286 -72h6m-259 -18h6m179 -82h6m-32 16h6m-212 81h6m138 44h6m71 -134h6m-139 122h6m14 23h6m-29 -91h6m68 -55h6m-54 115h6m-48 23h6m-57 -27h6m45 -132h6m165 169h6m-119 -24h6m36 -66h6m34 32h6m-185 230h6m110 -254h6m4 -70h6m-202 200h6m176 -192h6m-171 153h6m-5 -166h6m98 -1h6m-68 45h6m85 -98h6m-176 74h6m220 119h6m51 -122h6m-73 78h6m-216 18h6m122 -77h6m-113 -61h6m151 133h6m-84 -54h6m-37 74h6m73 -165h6m-17 146h6m-75 -61h6m-5 72h6m13 -43h6m43 102h6m-135 -114h6m34 23h6m130 143h6m58 -196h6m-103 52h6m-94 31h6m87 -67h6m-102 75h6m52 31h6m92 -156h6m-160 11h6m-11 162h6m44 29h6m94 -236h6m-39 210h6m-61 -133h6m174 -20h6m-5 -35h6m-262 113h6m132 -12h6m104 109h6m30 -125h6m-115 -11h6m50 -133h6m-215 137h6m10 118h6m-96 -157h6m13 50h6m23 64h6m175 -199h6m-56 34h6m-49 23h6m78 -5h6m-149 117h6m61 37h6m31 -166h6m-24 24h6m115 177h6m-37 40h6m-40 -47h6m9 -38h6m-14 -39h6m88 -90h6m-28 53h6m-247 -38h6m122 52h6m68 -18h6m-35 -35h6m-43 255h6m-80 -207h6m112 -56h6m-150 29h6m66 -54h6m112 99h6m-131 -20h6m-28 -140h6m125 94h6m-51 47h6m-109 43h6m183 -39h6m-232 37h6m-48 -55h6m-44 79h6m100 -46h6m27 -30h6m-73 105h6m142 13h6m-105 -79h6m46 -40h6m-45 -84h6m-122 46h6m-1 88h6m145 -2h6m-69 40h6m112 -29h6m-131 63h6m-92 -207h6m-17 185h6m134 -117h6m-115 -97h6m202 138h6m24 -3h6m-89 -44h6m1 19h6m-8 40h6m-176 -13h6m120 -47h6m-34 107h6m129 -57h6m55 -19h6m-276 35h6m101 38h6m-90 56h6m149 -180h6m6 58h6m-40 32h6m-70 -3h6m-54 -68h6m13 29h6m57 31h6m-50 43h6m67 -38h6m-18 -111h6m93 220h6m-98 -160h6m0 12h6m88 -7h6m-285 -25h6m36 101h6m64 -29h6m-36 68h6m30 -71h6m150 5h6m-215 -35h6m160 40h6m-197 52h6m-75 -216h6m42 17h6m72 125h6m-13 -40h6m-85 98h6m125 -65h6m13 -97h6m47 134h6m7 -167h6m-92 125h6m-26 -42h6m27 87h6m-89 -59h6m115 -41h6m-32 150h6m-60 -62h6m0 29h6m-94 -93h6m176 129h6m-45 -8h6m-104 -116h6m88 32h6m-195 -64h6m177 66h6m55 12h6m-186 -89h6m64 183h6m192 -154h6m-152 1h6m-32 -137h6m-95 66h6m202 92h6m-105 28h6m-186 38h6m236 -26h6m-59 58h6m-4 -80h6m-139 57h6m204 -47h6m-40 -157h6m-77 79h6m60 159h6m13 -30h6m-3 65h6m-171 -14h6m14 -190h6m87 139h6m-33 -91h6m23 27h6m179 38h6m-210 -56h6m13 142h6m-137 -132h6m225 -55h6m-206 28h6m4 -2h6m-15 -22h6m51 135h6m49 -184h6m49 167h6m-24 -103h6m-179 101h6m228 -106h6m-153 90h6m-69 -6h6m-21 61h6m-7 -87h6m-45 -191h6m235 242h6m-115 -49h6m-16 -18h6m-25 111h6m-79 -146h6m242 24h6m-170 21h6m32 53h6m-53 -105h6m-113 68h6m270 -120h6m-198 145h6m-53 -15h6m40 36h6m169 -72h6m-141 49h6m-20 -28h6m-128 -29h6m142 64h6m-94 -67h6m10 -38h6m176 180h6m-179 -8h6m90 -174h6m8 113h6m-82 -137h6m-81 -55h6m50 130h6m-114 -62h6m237 -18h6m-66 105h6m45 -112h6m-119 185h6m-33 -171h6m111 190h6m-100 -42h6m87 -18h6m-188 8h6m-23 -39h6m173 62h6m-96 4h6m157 -10h6m-161 -42h6m1 -17h6m64 67h6m-76 -22h6m18 -38h6m-128 15h6m80 -6h6m105 30h6m-35 -81h6m-79 44h6m129 7h6m2 -45h6m-255 81h6m-10 -156h6m50 122h6m157 -21h6m-25 -2h6m-178 58h6m128 -82h6m-39 8h6m244 -91h6m-418 84h6m226 6h6m-125 6h6m38 -50h6m37 55h6m-45 38h6m26 15h6m-148 -20h6m42 -5h6m78 -3h6m30 -136h6m-144 98h6m-31 35h6m130 -1h6m-52 128h6m-9 -145h6m106 114h6m-214 -179h6m215 135h6m-55 -88h6m-24 -73h6m-182 189h6m-17 -109h6m178 30h6m-174 -58h6m157 10h6m98 19h6m11 7h6m-64 29h6m-120 -114h6m44 91h6m-28 -40h6m-133 -27h6m75 119h6m-30 -129h6m-54 -2h6m10 49h6m242 83h6m-48 -58h6m-121 -52h6m-67 81h6m248 -35h6m-175 -69h6m-103 106h6m53 -4h6m-10 -29h6m121 59h6m-114 -23h6m-35 -37h6m40 17h6m203 4h6m-213 120h6m-136 -128h6m208 7h6m-132 -66h6m0 8h6m94 81h6m-136 37h6m-77 -128h6m166 72h6m-190 -65h6m82 7h6m37 34h6m21 2h6m-19 -23h6m-3 49h6m25 0h6m-112 -26h6m158 -12h6m-126 116h6m50 -56h6m-154 -100h6m107 190h6m21 -118h6m-156 41h6m107 -87h6m-33 -5h6m32 -10h6m-145 -1h6m138 116h6m-103 -135h6m84 134h6m-71 25h6m-44 -5h6m136 -196h6m-22 92h6m-74 -31h6m13 4h6m5 108h6m114 3h6m-54 -42h6m-110 -98h6m111 43h6m-86 -58h6m19 172h6m-58 -30h6m-11 -46h6m-38 -178h6m75 198h6m15 76h6m27 -77h6m-158 153h6m-73 -206h6m77 91h6m74 -33h6m62 -66h6m-226 45h6m57 -13h6m86 -62h6m-45 147h6m-26 -98h6m-36 35h6m99 -76h6m-43 160h6m69 -201h6m40 55h6m-137 48h6m-18 118h6m30 -200h6m-5 115h6m-139 -29h6m40 -95h6m-36 134h6m66 -155h6m81 84h6m191 149h6m-248 -183h6m-147 6h6m132 128h6m-24 0h6m-23 -213h6m38 198h6m20 6h6m-154 -87h6m88 39h6m47 40h6m-101 -130h6m-10 55h6m-7 -46h6m124 121h6m5 -13h6m-50 -78h6m-98 47h6m95 -58h6m-70 7h6m148 104h6m-148 -103h6m43 50h6m-67 -50h6m-74 -71h6m-27 217h6m89 -69h6m-66 41h6m64 -34h6m90 -23h6m75 -87h6m-227 91h6m17 -3h6m216 -48h6m-192 -14h6m-113 -89h6m121 211h6m-50 -12h6m-140 -89h6m110 59h6m13 -13h6m134 -105h6m-162 95h6m-60 -1h6m33 -140h6m231 235h6m-95 -66h6m-40 -70h6m-118 -114h6m108 119h6m-48 -92h6m-107 -36h6m-3 134h6m84 -20h6m95 79h6m-37 -134h6m-212 100h6m137 -55h6m-78 -28h6m-32 87h6m183 11h6m-60 -31h6m-42 58h6m-146 0h6m142 3h6m-21 -108h6m-92 45h6m-24 -38h6m-44 -34h6m63 28h6m150 39h6m-143 54h6m-6 -55h6m116 64h6m-140 -145h6m-45 118h6m49 -130h6m116 80h6m-82 102h6m-18 -74h6m-53 90h6m138 -203h6m-129 138h6m-27 -8h6m77 -86h6m55 67h6m-26 8h6m-119 68h6m39 15h6m17 38h6m-141 -133h6m-4 -74h6m86 -24h6m-34 175h6m56 -116h6m-83 79h6m170 -61h6m-145 47h6m-36 -9h6m38 61h6m-90 -78h6" stroke="#666" stroke-opacity="1" stroke-width="6" fill="none"/>
<path transform="scale(0.1)" d="M1765 3373h6m-12 49h6m-52 -14h6m4 -5h6m8 -5h6m75 86h6m-46 -122h6m-32 -21h6m45 115h6m-50 -30h6m46 27h6m-81 -70h6m-34 35h6m36 7h6m0 -95h6m-25 77h6m-29 19h6m40 19h6m38 7h6m-45 -16h6m26 42h6m-98 -53h6m35 8h6m54 -14h6m-54 -43h6m19 53h6m-39 38h6m-48 -168h6m59 151h6m6 -30h6m-11 37h6m-39 -153h6m-6 128h6m30 35h6m13 -52h6m-16 108h6m-59 -101h6m100 10h6m-64 -21h6m76 165h6m-101 -174h6m66 115h6m-89 -151h6m-6 3h6m26 27h6m-14 22h6m-41 -127h6m26 136h6m-43 -96h6m45 34h6m-31 19h6m-26 11h6m-55 5h6m76 -63h6m-56 -23h6m32 12h6m-51 98h6m23 -88h6m14 116h6m-31 -78h6m49 106h6m57 -11h6m-133 47h6m59 -90h6m1 52h6m-87 -127h6m35 112h6m-44 -75h6m-2 79h6m-16 -47h6m37 86h6m71 39h6m-131 -175h6m16 -34h6m14 131h6m16 3h6m-60 -68h6m42 70h6m41 8h6m-79 -103h6m-7 49h6m-63 -43h6m14 75h6m31 -95h6m39 52h6m-28 47h6m-28 -108h6m-46 -10h6m63 63h6m-10 -39h6m-33 132h6m3 -175h6m17 41h6m35 67h6m-90 -19h6m-50 -166h6m77 146h6m-57 -149h6m54 169h6m-23 136h6m-6 -194h6m-25 109h6m75 -34h6m-49 102h6m-22 -27h6m4 -100h6m-56 -12h6m54 109h6m-56 -133h6m80 97h6m-41 27h6m10 33h6m-71 -148h6m2 55h6m-2 -48h6m-44 -36h6m57 174h6m-51 -159h6m-17 18h6m10 -11h6m35 -15h6m-2 153h6m-4 -15h6m-21 -26h6m33 -129h6m-63 9h6m-15 32h6m-12 -33h6m-39 131h6m80 17h6m-28 -72h6m-73 -76h6m31 1h6m90 140h6m-37 -2h6m-64 -98h6m80 -12h6m-54 -20h6m2 109h6m-125 -117h6m50 58h6m10 -33h6m-38 -8h6m15 88h6m-21 -94h6m-21 25h6m2 65h6m25 -115h6m-15 69h6m29 -39h6m-49 -4h6m-19 30h6m171 57h6m-119 -16h6m-95 -53h6m90 33h6m6 -5h6m-22 13h6m-1 16h6m-7 -60h6m-52 5h6m26 67h6m-56 -146h6m-1 94h6m4 -11h6m27 94h6m36 20h6m-132 -123h6m51 119h6m23 -118h6m-28 66h6m83 55h6m-84 -16h6m24 37h6m62 -96h6m-139 -165h6m11 52h6m13 170h6m-6 102h6m-6 -108h6m-8 -5h6m-24 -45h6m-41 82h6m64 -115h6m-55 -34h6m9 86h6m39 18h6m28 6h6m-45 -31h6m-6 62h6m-68 -117h6m15 -52h6m-30 3h6m87 311h6m-87 -143h6m-19 -142h6m4 117h6m17 -50h6m30 -107h6m-97 135h6m109 -40h6m17 59h6m-82 -102h6m30 118h6m-20 -74h6m-10 2h6m4 -19h6m35 29h6m-102 -115h6m-47 125h6m97 108h6m-80 -173h6m20 -83h6m-13 53h6m-112 3h6m120 77h6m-31 -54h6m31 68h6m23 82h6m-32 -166h6m-60 18h6m64 110h6m21 -69h6m-104 -49h6m22 182h6m-13 -151h6m62 -34h6m-45 88h6m-102 -87h6m199 44h6m-198 5h6m82 50h6m-46 -109h6m48 138h6m-75 -130h6m-48 -64h6m129 132h6m-53 6h6m26 -49h6m-58 120h6m-70 -76h6m149 73h6m-82 -83h6m-12 -11h6m31 101h6m21 12h6m-49 -127h6m23 165h6m-43 -66h6m-28 -25h6m-8 -67h6m-30 -13h6m75 117h6m-49 -140h6m-40 -100h6m82 296h6m-139 -129h6m154 94h6m-48 -145h6m52 119h6" stroke="#555" stroke-opacity="1" stroke-width="6" fill="none"/>
<path transform="scale(0.1)" d="M1611 3426h6m191 -19h6m-235 191h6m-98 -360h6m-17 356h6m193 -178h6m-215 -94h6m310 -73h6m-18 28h6m-4 52h6m-212 260h6m19 -95h6m153 -63h6m-14 -58h6m-152 -116h6m142 15h6m78 -47h6m-61 178h6m-4 10h6m-85 -163h6m-112 -19h6m121 61h6m-223 144h6m308 79h6m-109 -81h6m-192 -94h6m-64 15h6m26 191h6m324 -126h6m-71 79h6m35 -234h6m-229 52h6m-46 -9h6m-34 -31h6m54 355h6m-145 -301h6m231 238h6m-79 -341h6m168 -9h6m-176 364h6m34 15h6m-98 -82h6m177 -46h6m-170 -205h6m45 203h6m147 -186h6m-30 169h6m7 78h6m-97 -282h6m-194 224h6m-23 46h6m320 -187h6m42 -9h6m-150 114h6m-162 57h6m-31 144h6m8 -147h6m275 -194h6m-234 239h6m139 -352h6m87 66h6m-15 205h6m-14 119h6m-237 -343h6m-27 102h6m173 -97h6m-273 44h6m95 26h6m-9 255h6m209 -46h6m65 -87h6m-128 70h6m-30 41h6m-180 -53h6m66 -167h6m50 -66h6m-150 376h6m237 -378h6m-113 384h6m144 -309h6m33 -133h6m-334 157h6m170 -83h6m37 246h6m-222 64h6m98 -159h6m97 -92h6m-244 220h6m-16 -236h6m146 63h6m-17 224h6m152 -7h6m-296 50h6m44 -124h6m102 -205h6m118 322h6m-129 -260h6m63 132h6m-169 9h6m91 -212h6m-56 41h6m217 15h6m-139 157h6m-35 110h6m169 -223h6m-342 -213h6m86 232h6m236 -220h6m4 282h6m-268 112h6m197 -150h6m51 3h6m-264 119h6m-115 -119h6m56 -185h6m313 345h6m-82 -329h6m-308 252h6m318 -293h6m-259 210h6m3 -181h6m157 141h6m-180 -5h6m70 118h6m-136 -250h6m44 282h6m30 -217h6m226 228h6m-296 -28h6m-79 -329h6m383 409h6m-310 -54h6m60 -203h6m-4 13h6m93 202h6m116 -311h6m-167 -61h6m128 333h6m-247 91h6m109 -339h6m4 -52h6m-162 320h6m314 -335h6m-375 9h6m148 81h6m22 242h6m189 -88h6m-90 111h6m-194 -129h6m-41 -156h6" stroke="#999" stroke-opacity="1" stroke-width="6" fill="none"/>
<g clip-path="url(#cS3)"><path d="M244 262C245.33 260.53 249 260.67 252 260.5C255 260.33 259.58 260.42 262 261C264.42 261.58 266 262.67 266.5 264C267 265.33 267.42 268.08 265 269C262.58 269.92 255.5 269.45 252 269.5C248.5 269.55 245.33 270.55 244 269.3C242.67 268.05 242.67 263.47 244 262Z" fill="#000" fill-opacity="1" filter="url(#b1)"/></g>
<path transform="scale(0.1)" d="M2701 2669h6m-229 -56h6m108 -5h6m33 16h6m2 14h6m-86 -45h6m4 68h6m68 6h6m-73 -53h6m-120 -34h6m50 -7h6m30 27h6m-37 83h6m33 -25h6m-84 44h6m1 0h6m210 -62h6m-92 -43h6m-163 55h6m48 12h6m7 26h6m3 -63h6m79 9h6m25 -38h6m-182 72h6m103 -72h6m-131 -5h6m75 20h6m-87 -30h6m118 94h6m68 -90h6m-205 63h6m52 9h6m87 -55h6m-87 -58h6m160 -5h6m-110 -10h6m-60 153h6m45 -12h6m-122 -12h6m128 -107h6m-85 39h6m-22 37h6m-67 -100h6m62 133h6m-31 -78h6m-5 70h6m23 -34h6m-47 -4h6m15 57h6m28 3h6m24 -46h6m-112 36h6m92 -29h6m-45 45h6m-24 -113h6m-32 46h6m72 55h6m-80 -89h6m123 90h6m-162 -88h6m96 20h6m22 -23h6m28 114h6m-60 -107h6m55 105h6m-111 -87h6m52 9h6m13 -82h6m70 31h6m-149 49h6m28 -30h6m-96 69h6m12 -14h6m253 -22h6m-243 44h6m108 22h6m-101 -127h6m-37 1h6m-17 30h6m173 75h6m-161 -86h6m-4 -5h6m-11 81h6m18 -48h6m-91 -23h6m108 56h6m-51 44h6m33 -36h6m-73 24h6m20 -61h6m-14 85h6m-31 -114h6m57 35h6m86 61h6m-90 -64h6m-27 76h6m26 -36h6m-54 0h6m59 -27h6m-123 -114h6m-15 87h6m80 58h6m-6 -38h6m-61 -1h6m36 54h6m39 -70h6m-58 17h6m5 -125h6m0 198h6m-56 -147h6m12 59h6m-44 77h6m171 -93h6m36 80h6m-131 -44h6m-119 -76h6m113 16h6m76 13h6m-66 -4h6m-105 57h6m-21 27h6m-5 37h6m121 -151h6m83 96h6m-232 -1h6m70 26h6m53 19h6m-124 -137h6m-20 25h6m88 38h6m-8 10h6m-24 28h6m-81 -31h6m45 -19h6m-73 41h6m90 -2h6m-109 -16h6m145 -25h6m-52 92h6m-65 -63h6m-28 -27h6m6 33h6m89 -20h6m-135 -16h6m-4 36h6m29 50h6m14 -30h6m-52 -116h6m41 137h6m99 12h6m-117 -78h6m37 1h6m27 59h6m26 -82h6m35 -56h6m-150 68h6m16 13h6m87 -25h6m-37 -18h6m-67 75h6m74 -77h6m-158 44h6m55 85h6m65 -10h6m43 -35h6m-130 42h6m93 -51h6m-51 -39h6m-32 43h6m100 -21h6m-41 -16h6m-113 4h6m-25 -10h6m-37 67h6m164 -85h6m6 70h6m-17 13h6m-92 -53h6m-73 8h6m-35 18h6m113 -18h6m-39 -35h6m-36 77h6m83 -104h6m-67 -22h6m-8 92h6m-67 -16h6m78 -39h6m-73 62h6m-35 7h6m159 -93h6m-159 55h6m103 55h6m34 21h6m-104 -28h6m-5 -120h6m7 150h6m-12 -74h6m1 3h6m61 -12h6m-32 2h6m-61 59h6m37 -87h6m-35 -1h6m78 120h6m-162 -145h6m-24 52h6m45 -60h6m54 150h6m-71 -109h6m35 -16h6m52 35h6m-65 88h6m-1 -90h6m134 29h6m-130 63h6m-79 -78h6m-32 -52h6m149 21h6m-142 38h6m-12 -74h6m66 86h6m-45 -50h6m169 -47h6m-47 103h6m-8 46h6m-187 -166h6m153 64h6m-63 -25h6m54 95h6m-114 -76h6m-38 53h6m-2 -59h6m93 69h6m30 26h6m-160 -113h6m76 55h6m17 -7h6m15 13h6m-39 61h6m114 -71h6m-76 95h6m-103 -102h6m127 66h6m-65 -7h6m-51 -113h6m87 96h6m-155 -37h6m122 -9h6m-7 80h6m-7 -31h6m-87 -111h6m-3 65h6m138 6h6m-112 65h6m-122 -98h6m186 118h6m0 -100h6m-111 44h6m-38 -31h6m-8 35h6m133 0h6m-204 -19h6m168 2h6m-72 71h6m-99 -98h6m187 63h6m-48 -14h6m-163 53h6m44 -41h6m73 -1h6m-144 1h6m53 51h6m-21 -83h6m28 -89h6m-13 93h6m-50 -6h6m78 27h6m16 34h6m41 -67h6m-71 13h6m-69 -24h6m-55 34h6m156 -30h6m-121 -25h6m46 -37h6m107 122h6m-130 -70h6m62 14h6m77 10h6m-124 -35h6m45 66h6m-53 59h6m-114 -174h6m35 73h6m61 72h6m-103 7h6m9 -109h6m96 91h6m-10 -92h6m50 70h6m-177 -18h6m71 -4h6m-67 85h6m1 -64h6m29 -6h6m116 -15h6m-34 7h6m-31 -9h6m-116 -30h6m84 53h6m-115 63h6m41 -64h6m-6 -58h6m21 -7h6m-104 -46h6m94 123h6m-23 -49h6m-19 59h6m-29 -43h6m62 -3h6m-8 38h6m-85 -32h6m67 -2h6m-114 4h6m8 -10h6m110 45h6m-50 -61h6m164 19h6m-32 -33h6m-129 115h6m-93 -135h6m138 135h6m-17 -55h6m-111 -4h6m103 -36h6m-165 -47h6m48 118h6m176 -33h6m-168 -59h6m86 10h6m-98 79h6m20 9h6m72 14h6m-88 -82h6m87 56h6m-160 -52h6m40 44h6m-50 -71h6m194 51h6m-106 20h6m-141 -9h6m201 21h6m-139 -88h6m-44 95h6m0 -52h6m59 -20h6m-95 36h6m6 -42h6m142 55h6m-35 -79h6m-3 96h6m-107 -74h6m107 46h6m-144 -44h6m123 5h6m-81 56h6m5 23h6m47 -115h6m-137 28h6m211 10h6m-71 -54h6m-37 17h6m-85 52h6m-57 -24h6m215 70h6m-55 -95h6m-90 13h6m72 -4h6m-64 25h6m-5 -48h6m-84 28h6m150 36h6m-182 -36h6m158 54h6m-133 -35h6m95 3h6m-84 -19h6m1 74h6m250 -57h6m-203 -1h6m-111 -22h6m23 42h6m160 16h6m-187 30h6m-33 -14h6m83 -61h6m11 82h6m9 -148h6m-81 21h6m76 94h6m30 -10h6m35 -46h6m-173 65h6m55 -107h6m-98 103h6m66 -64h6m-39 28h6m0 30h6m62 -61h6m125 53h6m-187 -72h6m-56 -29h6m12 44h6m125 64h6m-173 28h6m45 -148h6m7 168h6m2 -100h6m-6 1h6m35 43h6m-78 26h6m153 -23h6m-37 24h6m-122 -38h6m126 18h6m-46 -96h6m-22 -9h6m88 101h6m-90 -48h6m-81 -21h6m-76 64h6m42 -25h6m8 82h6m-11 -95h6m32 65h6m-48 -13h6m42 -37h6m-92 1h6m142 -72h6m-79 77h6m-35 17h6m43 -10h6m64 -14h6m62 -79h6m-51 75h6m-229 -27h6m50 52h6m26 57h6m-11 -79h6m-22 41h6m26 49h6m-55 -94h6m1 -21h6m-3 -6h6m-67 -88h6m15 157h6m80 -112h6m-95 107h6m67 -16h6m-37 34h6m78 -34h6m-80 -36h6m-68 38h6m116 68h6m-21 -30h6m-4 -56h6m12 41h6m-68 -42h6m3 -89h6m29 31h6m153 63h6m-166 26h6m-76 38h6m152 -8h6m-149 -109h6m26 141h6m97 -99h6m-194 60h6m142 -53h6m-135 93h6m202 -14h6m-78 -85h6m-49 -35h6m97 0h6m-195 40h6m42 89h6m75 -114h6m-46 54h6m89 -97h6m-173 30h6m55 99h6m-99 -39h6m17 -78h6m13 73h6m-27 -37h6m45 0h6m75 65h6m-77 22h6m93 -98h6m-32 68h6m-74 -32h6m-112 -67h6m86 92h6m-95 -14h6m174 -41h6m-135 20h6m202 76h6m-193 -41h6m-29 -14h6m46 -113h6m10 86h6m29 -12h6m43 60h6m-123 -76h6m-77 105h6m63 -45h6m17 30h6m33 -61h6m-42 9h6m12 -68h6m-67 144h6m28 -130h6m-18 77h6m50 -6h6m-44 -31h6m-10 35h6m13 25h6m17 -2h6m-46 -31h6m-68 30h6m136 -58h6m-55 18h6m-71 -45h6m-14 83h6m56 11h6m-101 -155h6m107 110h6m23 -106h6m-134 91h6m165 -22h6m-165 94h6m58 -54h6m-55 -6h6m-31 0h6m72 -36h6m-35 17h6m60 87h6m-28 -10h6m-98 -69h6m50 3h6m27 6h6m-44 -70h6m4 44h6m170 33h6m-205 -12h6m65 57h6m16 -98h6m-118 97h6m29 -117h6m-18 127h6m-18 25h6m86 -57h6m-92 -27h6m-56 16h6m78 -85h6m-84 -45h6m82 121h6m-38 -24h6m43 -37h6m-89 79h6m55 -12h6m38 -21h6m-32 42h6m99 -65h6" stroke="#111" stroke-opacity="1" stroke-width="6" fill="none"/>
<g clip-path="url(#cS3)"><path d="M288 262.8C288 263.35 287.75 263.97 287.33 264.45C286.91 264.93 286.22 265.38 285.5 265.66C284.78 265.93 283.83 266.1 283 266.1C282.17 266.1 281.22 265.93 280.5 265.66C279.78 265.38 279.09 264.93 278.67 264.45C278.25 263.97 278 263.35 278 262.8C278 262.25 278.25 261.63 278.67 261.15C279.09 260.67 279.78 260.22 280.5 259.94C281.22 259.67 282.17 259.5 283 259.5C283.83 259.5 284.78 259.67 285.5 259.94C286.22 260.22 286.91 260.67 287.33 261.15C287.75 261.63 288 262.25 288 262.8Z" fill="#000" fill-opacity="0.9" filter="url(#b1)"/></g>
<path transform="scale(0.1)" d="M2827 2594h6m23 53h6m41 -28h6m-42 13h6m32 -5h6m-88 25h6m-1 -47h6m-80 36h6m127 -10h6m-17 -16h6m-17 38h6m-56 -69h6m0 43h6m37 -60h6m26 78h6m-81 -51h6m-23 45h6m40 -2h6m-94 -25h6m61 7h6m-32 11h6m75 -44h6m-5 10h6m-102 -1h6m70 45h6m7 -38h6m-105 88h6m70 -140h6m-76 77h6m104 56h6m-117 -37h6m32 -30h6m-15 -28h6m-28 27h6m54 -32h6m37 31h6m-34 -18h6m-93 64h6m71 -94h6m-10 10h6m-8 73h6m-25 -34h6m-14 8h6m-35 15h6m4 -66h6m34 108h6m27 -60h6m-85 -11h6m85 40h6m-102 -16h6m97 -5h6m-66 -19h6m-85 44h6m96 -5h6m22 -25h6m-80 16h6m-41 -73h6m31 40h6m-28 23h6m64 -23h6m-126 -32h6m42 45h6m33 22h6m84 -46h6m-50 25h6m-43 -4h6m34 36h6m12 38h6m-128 -66h6m92 34h6m-21 -51h6m60 -7h6m-54 15h6m-59 40h6m-31 -3h6m35 -55h6m-14 38h6m27 27h6m-96 -58h6m21 -20h6m112 29h6m-105 2h6m-32 40h6m39 -49h6m-26 33h6m21 14h6m36 -41h6m-104 0h6m42 -4h6m2 -19h6m-22 47h6m-41 13h6m102 -116h6m-112 87h6m62 -25h6m-33 74h6m0 -60h6m-44 24h6m39 4h6m-25 -77h6m-43 56h6m37 26h6m-41 5h6m89 -6h6m-39 -28h6m-84 27h6m54 17h6m-37 -63h6m-36 38h6m-48 32h6m60 -40h6m0 47h6m-51 -26h6m69 14h6m13 -67h6m-113 -34h6m50 80h6m14 -27h6m9 -31h6m27 88h6m-8 -23h6m17 -65h6m-127 44h6m39 -11h6m17 0h6m42 12h6m-180 -15h6m66 -31h6m67 14h6m-129 17h6m155 14h6m-3 19h6m-8 1h6m-60 -111h6m-94 47h6m41 72h6m40 -11h6m-124 -50h6m70 46h6m9 -43h6m-78 58h6m15 -36h6m38 20h6m-39 -51h6m18 10h6m10 -20h6m-30 8h6m106 -17h6m-124 46h6m-8 -30h6m-23 34h6m102 46h6m10 -54h6m-76 57h6m12 -32h6m-25 19h6m-34 -16h6m-18 13h6m54 -24h6m-89 -3h6m123 -14h6m-63 -37h6m-68 52h6m80 27h6m-72 32h6m-102 -104h6m163 86h6m23 -67h6m-145 -19h6m14 59h6m19 -26h6m38 6h6m-25 52h6m-45 -42h6m-9 19h6m-24 -51h6m75 -34h6m46 82h6m-95 -30h6m25 23h6m-73 -8h6m0 -20h6m31 18h6m-18 -5h6m-11 -7h6m81 54h6m-114 -111h6m70 124h6m-52 -45h6m6 -1h6m-30 -11h6m6 -8h6m12 -34h6m36 46h6m-46 -25h6m-104 19h6m62 -72h6m66 121h6m-70 -32h6m72 5h6m-197 19h6m38 -53h6m144 -11h6m-142 21h6m47 -62h6m71 64h6m-78 3h6m6 39h6m-20 -60h6m23 28h6m4 -36h6m-15 45h6m-72 -2h6m38 28h6m69 -34h6m-129 -11h6m5 -24h6m87 42h6m-74 -50h6m16 74h6m11 -34h6m-21 35h6m21 -36h6m-134 16h6m94 -22h6m35 -23h6m-42 28h6m-82 -10h6m62 39h6m12 -33h6m4 -64h6m-58 41h6m35 76h6m3 -23h6m-1 19h6m-91 -34h6m6 -29h6m62 40h6m-41 8h6m-2 -37h6m-4 6h6m43 30h6m-74 -38h6m-9 22h6m30 -2h6m-69 -6h6m16 -39h6m21 21h6m14 24h6m-29 2h6m9 -18h6m-54 31h6m68 2h6m-87 -60h6m45 55h6m-14 7h6m-50 -16h6m-45 -41h6m30 42h6m14 -18h6" stroke="#000" stroke-opacity="1" stroke-width="6" fill="none"/>
<path transform="scale(0.1)" d="M2782 2528h6m0 -24h6m49 -2h6m-354 97h6m352 -153h6m-61 206h6m-94 -178h6m-198 129h6m382 -125h6m-415 141h6m58 -2h6m29 -83h6m40 82h6m97 -50h6m104 112h6m-89 -206h6m-210 83h6m158 108h6m-163 -5h6m-89 -65h6m101 -41h6m229 -8h6m-166 148h6m18 -219h6m-195 63h6m179 54h6m-221 -22h6m228 -13h6m11 2h6m-64 116h6m92 -141h6m-163 118h6m37 -128h6m62 -40h6m-38 54h6m-1 -39h6m-80 -21h6m-46 93h6m-88 -11h6m220 -38h6m114 -12h6m-351 138h6m91 -127h6m-76 81h6m32 -65h6m28 -66h6m-18 176h6m77 -1h6m-159 -33h6m70 11h6m-102 -46h6m287 6h6m-102 -34h6m-151 85h6m118 -136h6m107 100h6m14 -139h6m7 127h6m-225 7h6m142 -48h6m-230 69h6m178 -128h6m127 65h6m76 124h6m-294 -48h6m-131 -44h6m130 30h6m126 38h6m17 -115h6m-165 -12h6m12 -81h6m-127 227h6m134 -149h6m67 68h6m-111 -46h6m-144 24h6m156 4h6m190 0h6m-173 90h6m70 -236h6m-137 71h6m-106 142h6m333 -37h6m-280 -66h6m268 68h6m-137 -29h6m24 -16h6m-321 11h6m81 -109h6m55 239h6m-58 -182h6m72 109h6m-175 -76h6m355 136h6m-296 -240h6m82 106h6m168 79h6m-152 -123h6m33 -1h6m-187 58h6m411 131h6m-80 -243h6m-126 61h6m-25 118h6m26 -111h6m-250 98h6m317 -104h6m-309 45h6m38 78h6m225 -10h6m-244 -122h6m35 73h6m163 21h6m-176 11h6m158 -49h6m-258 43h6m271 16h6m-290 -19h6m156 -47h6m-41 -21h6m-79 60h6m87 -13h6m-169 7h6m383 -91h6m-217 75h6m20 52h6m-130 11h6m173 -83h6m-9 108h6m108 -100h6m-88 15h6m29 58h6m-191 -39h6m-44 -11h6m197 -13h6m-1 28h6m-147 -19h6m87 25h6m-66 -99h6m-23 6h6m-98 -19h6m20 155h6m108 -138h6m-193 141h6m83 -16h6m261 11h6m-389 -231h6m369 63h6m-433 57h6m145 81h6m-52 -105h6m207 -5h6m-113 150h6m-12 -196h6m-14 190h6m-104 -190h6m90 -36h6m69 202h6m-54 -133h6m128 178h6m6 -124h6m-99 -21h6m96 18h6m-351 16h6m243 8h6m-108 -62h6m29 62h6m-8 -5h6m-28 -47h6m261 -57h6m-230 197h6m113 -111h6m-236 -13h6m-111 -4h6m301 22h6m-80 80h6m-152 -84h6m113 -31h6m-18 102h6m-15 -162h6m29 103h6m-49 -68h6m6 74h6m-96 -46h6m51 -80h6m51 98h6m104 -94h6m-219 150h6m99 -51h6m92 -3h6m-69 29h6m-114 -50h6m-66 15h6m136 -3h6m-199 83h6m159 -3h6m-14 78h6m86 -95h6m-40 47h6m-53 -18h6m-55 59h6m114 -132h6m-121 71h6m-5 -141h6m101 129h6m-151 22h6m179 38h6m-52 9h6m-25 -113h6m241 37h6m-239 9h6m-281 -72h6m220 -18h6m-58 -31h6m9 152h6m15 -12h6m-38 -112h6m35 -68h6m-129 100h6m20 48h6m-36 38h6m216 -55h6m-212 -88h6m171 61h6m104 -45h6m-211 29h6m-56 13h6m105 91h6m22 49h6m-179 -62h6m-18 -74h6m251 53h6m-124 -20h6m54 73h6m-13 -118h6m24 28h6m-83 13h6m89 5h6m-189 -113h6m-136 122h6m86 36h6m90 -41h6m121 17h6m-46 -201h6m-221 248h6m292 -137h6m-112 39h6m71 -3h6m-119 52h6m-61 -67h6m-75 17h6m84 82h6m-2 -106h6m-165 -16h6m199 61h6m125 -16h6m-249 106h6m188 -14h6m-312 -87h6m197 18h6m-42 62h6m-34 -71h6m1 -81h6m107 208h6m-227 -26h6m363 -201h6m-421 40h6m41 6h6m-19 25h6m201 80h6m-97 -125h6m98 112h6m-191 -15h6m-51 -77h6m161 31h6m133 6h6m-126 90h6m122 -93h6m-15 -63h6m-281 -17h6m338 34h6m-155 -58h6m50 22h6m-318 161h6m-21 45h6m498 -124h6m-508 -14h6m222 -117h6m-133 155h6m147 -145h6m-73 142h6m159 14h6m-12 19h6m-60 -22h6m-155 94h6m60 -70h6m13 -51h6m213 27h6m-353 -82h6m-30 34h6m91 134h6m68 18h6m-26 -251h6m-30 65h6m150 149h6m-173 -49h6m-79 51h6m210 -92h6m-6 17h6m-99 81h6m281 -70h6m-269 -109h6m-11 83h6m-230 -81h6m333 160h6m-96 48h6m-195 -153h6m314 -28h6m-235 57h6m135 77h6m-248 -7h6m75 -75h6m50 76h6m-42 -33h6m-102 -138h6m-56 123h6m169 -7h6m-212 -67h6m192 106h6m63 -74h6m-182 -86h6m20 192h6m37 -124h6m-41 -30h6m118 94h6m-154 4h6m168 -84h6m-52 117h6m-34 -192h6m259 26h6m-290 190h6m-155 -87h6m99 -118h6m12 120h6m-127 -35h6m289 97h6m-78 -10h6m116 -64h6m-297 20h6m120 -54h6m6 69h6m113 -90h6m21 54h6m-388 93h6m271 -70h6m-246 52h6m10 -138h6m132 145h6m9 -60h6m-143 58h6m74 -23h6m-103 -147h6m1 31h6m174 168h6m-42 -117h6m82 -40h6m-131 127h6m203 -93h6m-235 -8h6m91 146h6m-39 -195h6m140 163h6m6 -18h6m-225 -135h6m126 54h6m-69 115h6m-235 -146h6m189 74h6m-107 59h6m66 -29h6m275 28h6m-286 -86h6m111 65h6m-247 -139h6m78 157h6m109 -85h6m-243 -93h6m251 22h6m81 15h6m-119 116h6m49 -55h6m224 -4h6m-254 -18h6m80 112h6m19 -66h6m-40 -95h6m-199 121h6m150 -35h6m-146 -28h6m248 49h6m-273 -140h6m63 24h6m-52 28h6m206 3h6m-194 153h6m61 -107h6m-44 62h6m56 -47h6m49 20h6m141 -106h6m-339 134h6m162 -93h6m67 106h6m51 -87h6m-78 13h6m-128 62h6m-121 -78h6m310 -47h6m-180 167h6m133 -110h6m-372 92h6m61 -80h6m-33 -102h6m10 81h6m43 137h6m197 -159h6m-177 8h6m-5 40h6m54 24h6m-38 -75h6m-60 91h6m-65 -29h6m-56 9h6m94 3h6m17 -9h6m16 -23h6m-1 3h6m-17 71h6m135 53h6m-76 -93h6m-45 3h6m54 -80h6m-152 -57h6m-26 -33h6m180 122h6m-263 112h6m138 -169h6m60 35h6m144 -88h6m-285 172h6m98 14h6m-82 29h6m31 -99h6m49 -14h6m-108 -12h6m-78 -19h6m-80 90h6m228 -178h6m-113 142h6m-86 26h6m54 -28h6m-58 12h6m350 -2h6m-220 -6h6m23 -158h6m-49 197h6m4 -129h6m219 136h6m-46 -73h6m-301 -90h6m151 10h6m-171 184h6m316 -101h6m-92 29h6m-60 -103h6m-34 110h6m10 10h6m-44 11h6m-131 -13h6m-24 -17h6m58 -58h6m-26 10h6m188 -10h6m-65 87h6m251 32h6m-446 -152h6m137 118h6m-109 33h6m-19 -24h6m227 -37h6m71 28h6m-231 73h6m63 -163h6m-9 -18h6m104 58h6m-104 -19h6m-39 84h6m-33 -31h6m149 -46h6m-158 156h6m-46 -175h6m48 117h6m-129 -85h6m19 140h6m254 -99h6m-19 -121h6m-275 117h6m288 -125h6m-146 83h6m-94 29h6m-119 93h6m69 -76h6m-84 -75h6m62 70h6m-14 40h6m155 18h6m77 -151h6m-236 90h6m163 -22h6m-1 63h6m-153 -54h6m-5 -85h6m29 206h6m247 -163h6m-280 3h6m177 132h6m-212 -201h6m74 197h6m40 -89h6m-107 2h6m57 -35h6m-157 40h6m205 113h6m-123 -194h6m296 148h6m-375 -93h6m110 120h6m-16 0h6m29 -153h6m-11 -67h6m-124 161h6m-32 -66h6m-69 24h6m277 -39h6m15 67h6m-44 -80h6m-105 -21h6m-99 37h6m172 145h6m-270 -5h6m425 -19h6m-221 -70h6m-28 -170h6m86 120h6m-1 128h6m39 -113h6m-57 17h6m-166 -106h6m-86 209h6m199 -156h6m-91 125h6m44 50h6m-174 -102h6m152 -81h6m25 111h6m112 -189h6m-152 184h6m143 -16h6m-168 -75h6m191 41h6m4 15h6m-177 -65h6m-235 77h6m155 73h6m-174 -187h6m334 29h6m-311 -85h6m17 187h6m251 -173h6m-90 63h6m-154 109h6m67 -23h6m106 23h6" stroke="#777" stroke-opacity="1" stroke-width="6" fill="none"/>
<path transform="scale(0.1)" d="M2608 3397h6m-82 -98h6m-37 51h6m-1 10h6m52 72h6m-78 -16h6m146 60h6m-126 -95h6m1 -51h6m71 72h6m99 -70h6m-200 26h6m158 27h6m-45 19h6m-63 -18h6m176 -2h6m-247 -52h6m30 38h6m71 -101h6m-130 62h6m-31 -90h6m-27 168h6m-13 30h6m116 -80h6m158 100h6m-280 -51h6m155 -96h6m-91 -12h6m174 197h6m-286 -190h6m109 -8h6m106 66h6m-126 -106h6m-26 149h6m65 -24h6m3 -70h6m-98 16h6m61 65h6m-37 31h6m-25 -138h6m-35 28h6m190 82h6m-97 -51h6m-18 -63h6m191 99h6m-134 35h6m-103 -73h6m-88 3h6m63 -98h6m32 35h6m-47 192h6m167 -207h6m-144 101h6m120 91h6m-146 -140h6m27 57h6m-78 64h6m87 -77h6m13 -23h6m-67 28h6m71 21h6m2 -105h6m-87 54h6m-46 -56h6m-68 59h6m-21 -13h6m-14 45h6m282 -3h6m-198 -100h6m-63 113h6m73 -50h6m13 -43h6m33 61h6m-169 95h6m131 -27h6m-17 -85h6m-22 -56h6m-39 111h6m33 -5h6m-73 -5h6m22 -84h6m-76 23h6m90 -16h6m-129 63h6m146 10h6m-12 -61h6m-2 60h6m40 -41h6m-187 71h6m176 -67h6m-3 -29h6m-147 97h6m55 -58h6m-81 17h6m74 18h6m147 -7h6m-207 39h6m143 -106h6m-126 51h6m-81 -18h6m158 120h6m-221 -147h6m184 -23h6m-32 32h6m26 -51h6m111 23h6m-246 -15h6m171 91h6m-117 59h6m-119 -132h6m126 6h6m-59 33h6m-4 26h6m-81 43h6m96 -98h6m-56 55h6m32 13h6m134 -29h6m-123 8h6m-35 -96h6m-14 98h6m3 77h6m162 -193h6m18 42h6m-224 218h6m180 -101h6m-245 -46h6m135 -57h6m-17 -23h6m86 71h6m-209 80h6m147 5h6m-207 -116h6m108 -56h6m13 93h6m-36 -9h6m139 -68h6m-237 74h6m-6 -49h6m64 -27h6m-66 122h6m15 -10h6m23 -121h6m81 75h6m-114 128h6m217 -183h6m-175 41h6m-73 49h6m143 33h6m-184 -29h6m214 -144h6m-152 68h6m91 -36h6m-78 69h6m-70 10h6m-22 44h6m205 -55h6m-169 -77h6m-97 98h6m221 -32h6m-169 -10h6m114 103h6m-62 -90h6m17 -11h6m-33 94h6m43 -147h6m130 244h6m-128 -89h6m49 -32h6m-124 -142h6m17 61h6m13 20h6m-151 138h6m339 -197h6m-216 24h6m38 9h6m-31 20h6m11 -71h6m-25 114h6m-8 -3h6m81 61h6m-188 -69h6m-23 -30h6m227 -27h6m-87 145h6m-19 -28h6m-166 -84h6m13 102h6m60 -123h6m-2 106h6m-118 -18h6m124 -54h6m15 -28h6m-131 -43h6m117 -1h6m-92 36h6m131 -101h6m-124 145h6m48 -2h6m54 -5h6m-127 20h6m65 2h6m0 48h6m86 -122h6m-206 175h6m32 -231h6m15 138h6m113 0h6m-58 -9h6m40 -100h6m-99 104h6m7 48h6m-136 5h6m180 -133h6m-96 60h6m-44 -30h6m169 106h6m-18 -50h6m-33 -99h6m-135 66h6m44 -19h6m-20 76h6m-113 -15h6m105 -10h6m17 -5h6m-53 37h6m119 -17h6m-172 -50h6m85 120h6m41 -78h6m31 -99h6m-56 -90h6m-106 168h6m-89 14h6m154 -5h6m-56 37h6m58 -87h6m-55 138h6m-51 -171h6m-81 -44h6m-4 180h6m170 -43h6m9 -65h6m-114 42h6m158 -31h6m-256 -24h6m247 44h6m-249 22h6m173 -60h6m-131 -11h6m115 87h6m-77 -111h6m12 133h6m80 -86h6m-184 84h6m87 26h6m65 -17h6m-83 -127h6m30 53h6m12 4h6m-7 -23h6m-53 88h6m114 -123h6m-107 83h6m-14 -15h6m-8 -23h6m23 102h6m-167 -99h6m29 56h6m53 -5h6m91 -32h6m-173 5h6m229 48h6m-40 -100h6m-117 17h6m-20 -21h6m-53 125h6m-52 -36h6m88 -69h6m73 42h6m49 104h6m-66 -133h6m-120 -71h6m55 57h6m182 3h6m-258 -22h6m42 21h6m46 122h6m13 -90h6m18 -3h6m10 3h6m-83 -98h6m-67 116h6m43 -22h6m86 69h6m-223 -61h6m150 111h6m-21 -140h6m-42 92h6m107 -77h6m-9 -31h6m-206 -48h6m75 111h6m24 -98h6m-16 106h6m29 48h6m-139 -59h6m73 -15h6m-42 -3h6m-78 -35h6m203 1h6m-121 52h6m71 47h6m-125 -80h6m-50 37h6m115 -14h6m-108 27h6m-16 -106h6m51 20h6m91 55h6m-123 47h6m120 -68h6m-136 -44h6m88 55h6m-4 22h6m-7 -57h6m-1 35h6m63 22h6m-145 -49h6m67 8h6m169 5h6m-212 26h6m22 28h6m-29 -59h6m-32 17h6m159 97h6m-87 1h6m-116 -136h6m77 -24h6m4 50h6m-33 71h6m29 -58h6m-98 57h6m-69 -36h6m175 58h6m-109 -87h6m96 24h6m-181 17h6m38 -68h6m46 68h6m-92 37h6m28 -45h6m201 -42h6m-139 58h6m47 16h6m-69 -49h6m1 -28h6m-22 167h6m-49 -207h6m-21 35h6m94 3h6m-2 -5h6m-101 40h6m48 -84h6m25 63h6m124 1h6m-148 -40h6m13 21h6m-37 76h6m-140 -159h6m88 119h6m65 62h6m-92 -87h6m-56 43h6m180 -28h6m-23 -25h6m-127 99h6m144 -65h6m-205 7h6m-21 15h6m63 -78h6m21 183h6m47 -103h6m-155 5h6m118 81h6m-90 -88h6m34 -130h6m73 232h6m8 -173h6m-84 72h6m-85 -19h6m28 -9h6m11 3h6m65 -42h6m98 -18h6m-98 163h6m80 -114h6m-90 -39h6m-16 -5h6m63 72h6m-168 23h6m2 -30h6m-28 -44h6m144 135h6m66 -44h6m-139 -12h6m-31 -51h6m-17 55h6m42 -124h6m-8 142h6m16 -102h6m-51 34h6m71 31h6m-110 18h6m84 -154h6m62 119h6m-129 52h6m160 -62h6m-144 -56h6m-156 -18h6m224 48h6m13 -40h6m-222 70h6m161 -58h6m-141 9h6m200 61h6m-127 -60h6m-61 -4h6m209 33h6m-238 -61h6m201 42h6m-31 12h6m-156 48h6m134 -33h6m-6 -46h6m50 68h6m-191 -31h6m6 43h6m-10 -109h6m148 42h6m-258 -20h6m135 11h6m-95 129h6m99 -86h6m-177 -4h6m130 -50h6m-116 86h6m33 47h6m-99 -108h6m41 45h6m5 36h6m222 -54h6m-133 -28h6m55 -15h6m-118 70h6m-83 14h6m66 -20h6m-21 -86h6m86 78h6m-51 -30h6m28 -4h6m-39 112h6m-54 -64h6m-10 -7h6m11 25h6m-40 -62h6m191 30h6m9 -20h6m-261 7h6m127 -8h6m-166 -81h6m275 47h6m-122 96h6m30 -224h6m-35 143h6m-173 60h6m176 -31h6m-195 16h6m36 -26h6m97 19h6m-50 -16h6m73 12h6m-64 50h6m-52 -89h6m80 -26h6m11 24h6m-46 53h6m13 42h6m-61 -102h6m16 158h6m89 -168h6m-213 43h6m-24 -61h6m222 128h6m-20 32h6m-147 -32h6m-38 -33h6m160 31h6m60 28h6m-137 -166h6m20 166h6m63 -192h6m-196 145h6m128 -29h6m-44 -49h6m29 140h6m-45 -189h6m-75 121h6m105 -70h6m-132 51h6m96 -1h6m-32 -10h6m-69 -103h6m-54 83h6m174 -28h6m109 41h6m-261 49h6m174 41h6m-37 -51h6m-114 -20h6m53 -49h6m6 -62h6m-107 75h6m59 50h6m23 -8h6m-169 102h6m79 -51h6m62 -60h6m-52 -11h6m213 40h6m-256 -59h6m3 12h6m155 37h6m-172 -146h6m192 180h6m-159 -41h6m-38 -57h6m250 -92h6m-253 152h6m69 -21h6m-76 16h6m-82 -78h6m146 18h6m3 104h6m58 2h6m-225 -60h6m85 54h6m-31 16h6m35 0h6m-9 -67h6m-113 -27h6m231 104h6m8 -123h6m-94 91h6m-61 -63h6m-143 4h6m168 30h6m-154 104h6m-4 -162h6m137 7h6m-105 -1h6m35 160h6m-22 -161h6m-83 41h6m150 -58h6m-100 67h6m-18 -65h6m112 115h6m-102 -182h6m65 26h6m121 101h6m-115 0h6m26 23h6m-57 -26h6m-70 2h6m104 -61h6m-162 91h6m0 -72h6m19 61h6m7 -23h6m142 19h6m-83 -33h6m-87 -79h6m11 142h6m180 -91h6m-171 59h6m20 -50h6m-95 3h6m40 -21h6m28 3h6m-153 56h6m114 2h6m91 -105h6m-119 13h6m36 -4h6m-124 43h6m126 80h6m-27 -71h6m154 5h6m-258 30h6m16 4h6m-31 6h6m138 -13h6m-71 114h6" stroke="#888" stroke-opacity="1" stroke-width="6" fill="none"/>
<path transform="scale(0.1)" d="M2751 3305h6m-7 105h6m-26 -151h6m0 22h6m-5 -18h6m65 77h6m-41 4h6m1 -15h6m-56 -33h6m-13 88h6m58 -69h6m-108 71h6m21 -80h6m19 84h6m19 -62h6m-80 16h6m100 6h6m-24 -2h6m-43 4h6m4 112h6m3 -123h6m-14 16h6m5 30h6m15 -29h6m-117 28h6m84 30h6m-111 -32h6m-3 -36h6m72 41h6m-76 -7h6m11 -61h6m33 51h6m2 -23h6m-17 -30h6m-9 45h6m0 -70h6m47 70h6m30 -24h6m-38 -27h6m3 105h6m12 -162h6m-111 -11h6m83 161h6m-63 -106h6m-16 -2h6m-5 6h6m48 142h6m-41 -61h6m61 30h6m-76 -44h6m56 30h6m-3 -89h6m-62 77h6m-14 59h6m102 -145h6m-131 38h6m32 61h6m56 -94h6m-84 78h6m-25 -14h6m-40 -9h6m45 5h6m-45 -63h6m16 -29h6m-61 11h6m92 46h6m-18 8h6m54 -19h6m-81 64h6m3 -28h6m11 -62h6m-74 16h6m78 160h6m-85 -109h6m-47 -26h6m91 13h6m-71 -25h6m110 26h6m-97 2h6m-12 -31h6m14 19h6m-8 31h6m-48 -86h6m87 35h6m-49 -2h6m-20 -32h6m17 54h6m-46 5h6m74 -99h6m-11 66h6m-60 44h6m41 -5h6m-15 -74h6m-80 13h6m31 2h6m-36 87h6m32 -103h6m51 129h6m-10 -178h6m-103 59h6m51 84h6m8 -61h6m17 138h6m-45 -48h6m-5 -185h6m-37 111h6m43 60h6m-53 -94h6m-19 44h6m18 12h6m47 -61h6m30 38h6m-31 20h6m-33 -37h6m6 33h6m-99 -12h6m16 46h6m6 10h6m46 -12h6m-57 27h6m12 -65h6m40 -14h6m1 65h6m-29 -46h6m-54 26h6m-30 -7h6m4 44h6m35 -8h6m-51 -51h6m9 -9h6m-27 56h6m7 -24h6m49 46h6m-3 -152h6m-62 22h6m-26 8h6m74 86h6m-22 -87h6m-40 85h6m26 -88h6m-11 61h6m51 -18h6m-174 32h6m145 -97h6m-15 139h6m-33 -86h6m-12 12h6m3 78h6m-8 -86h6m14 9h6m-98 29h6m133 -33h6m-73 -52h6m-19 55h6m7 18h6m-22 39h6m-25 -93h6m64 82h6m-87 -90h6m-15 173h6m69 -99h6m-6 16h6m63 2h6m-83 -44h6m11 33h6m-35 -155h6m-22 90h6m30 -56h6m-59 45h6m19 64h6m10 -38h6m-36 -33h6m15 30h6m34 139h6m-116 -110h6m6 -56h6m51 83h6m-25 19h6m8 -71h6m61 57h6" stroke="#888" stroke-opacity="1" stroke-width="6" fill="none"/>
<g clip-path="url(#cS4)"><path d="M346 262C347 257 349.67 257.83 352 257C354.33 256.17 357.83 256 360 257C362.17 258 364 259.83 365 263C366 266.17 366.17 272 366 276C365.83 280 367.33 285.17 364 287C360.67 288.83 349 291.17 346 287C343 282.83 345 267 346 262Z" fill="#000" fill-opacity="0.6" filter="url(#b2)"/></g>
<path transform="scale(0.1)" d="M3543 2810h6m41 -80h6m5 -123h6m-133 149h6m59 70h6m1 -123h6m-23 114h6m-9 -244h6m87 139h6m-99 13h6m-45 -209h6m16 168h6m35 69h6m-40 -80h6m110 104h6m-99 -158h6m-38 122h6m-34 -69h6m-2 45h6m68 6h6m-40 46h6m55 -277h6m-108 220h6m68 -167h6m-48 298h6m16 -95h6m47 45h6m-96 -40h6m-8 27h6m74 41h6m-23 -304h6m-33 150h6m40 166h6m-29 -136h6m2 112h6m33 19h6m-83 -72h6m10 86h6m52 -9h6m-29 -105h6m10 6h6m-95 61h6m-32 -27h6m42 -20h6m106 -126h6m-86 219h6m24 -67h6m-103 81h6m43 -29h6m43 -128h6m-59 140h6m-25 -28h6m3 -15h6m18 -33h6m56 -95h6m-130 -84h6m213 121h6m-110 9h6m-96 -40h6m135 -1h6m-175 103h6m82 -3h6m-94 -24h6m96 -68h6m35 16h6m-68 61h6m-49 72h6m-55 -52h6m26 41h6m16 -107h6m-26 -7h6m-3 4h6m-24 4h6m32 41h6m81 -43h6m-45 102h6m-2 -91h6m60 -105h6m-148 149h6m-10 -14h6m65 -17h6m-58 46h6m-8 -89h6m106 -38h6m-133 196h6m-40 -195h6m89 87h6m2 -124h6m0 64h6m15 126h6m-97 25h6m11 -179h6m-17 -30h6m4 33h6m71 -6h6m-2 152h6m-88 -115h6m-1 -50h6m-47 58h6m168 1h6m-51 -81h6m-111 89h6m-4 57h6m40 -37h6m-31 70h6m-53 52h6m61 -212h6m21 19h6m-89 60h6m20 70h6m32 -67h6m26 -40h6m-30 161h6m-98 -278h6m18 203h6m-28 -25h6m63 62h6m46 -27h6m-116 -59h6m153 -89h6m-90 176h6m-56 26h6m58 -235h6m-40 127h6m78 2h6m-42 -86h6m-63 138h6m24 -53h6m19 -40h6m-75 -57h6m88 9h6m-123 131h6m77 44h6m5 2h6m-29 -61h6m-54 -52h6m136 123h6m-117 25h6m9 -49h6m-22 -1h6m-9 -160h6m-2 163h6m-18 -73h6m4 16h6m-79 -1h6m14 -103h6m57 130h6m19 -46h6m-28 34h6m0 -79h6m13 9h6m-125 65h6m140 -35h6m-19 15h6m-133 -10h6m12 75h6m-6 -62h6m5 -58h6m8 115h6m49 43h6m-60 -103h6m-12 -278h6m19 294h6m-37 12h6m83 -121h6m-44 51h6m-36 38h6m-4 -5h6m26 24h6m-78 -31h6m131 -45h6m-151 133h6m155 -164h6m-167 214h6m63 -92h6m-83 -39h6m55 48h6m-52 -46h6m75 91h6m45 -238h6m16 166h6m-72 -47h6m21 126h6m55 -80h6m-133 -38h6m-65 74h6m172 -86h6m-171 65h6m1 31h6m18 -87h6m-21 48h6m102 -171h6m19 198h6m-30 46h6m-53 -149h6m-86 140h6m1 -196h6m69 189h6m-112 -124h6m21 56h6m91 15h6m-82 -3h6m88 -8h6m-23 -85h6m-78 30h6m67 -40h6m9 150h6m-103 -31h6m82 28h6m-58 45h6m52 -85h6m-44 -43h6m-85 52h6m47 -30h6m75 41h6m-110 72h6m12 -244h6m-41 92h6m44 37h6m7 11h6m-49 -29h6m-1 -6h6m34 -62h6m39 128h6m-91 -167h6m-6 107h6m33 130h6m22 -39h6m-23 -8h6m-76 -44h6m57 -153h6m69 132h6m-76 -177h6m-36 92h6m-19 -1h6m-61 -48h6m124 82h6m-138 -69h6m51 54h6m-8 17h6m-13 -5h6m-13 -15h6m27 91h6m37 -56h6m-71 46h6m-4 35h6m30 3h6m-22 -201h6m-14 105h6m-16 -41h6m44 156h6m6 -13h6m-32 5h6m33 -45h6m-26 -104h6m-10 87h6m40 58h6m-144 -6h6m19 61h6m20 -109h6m-8 -85h6m-1 76h6m-7 113h6m-76 -101h6m142 -7h6m-109 32h6m81 -10h6m-8 -94h6m4 61h6m-45 115h6m-28 -124h6m73 100h6m26 -60h6m-200 29h6m68 -234h6m-18 120h6m-46 88h6m-12 97h6m169 -58h6m-175 -50h6m41 -74h6m-22 185h6m-35 -32h6m26 -163h6m-9 161h6m4 -126h6m-13 -37h6m17 166h6m20 -269h6m-21 71h6m-51 57h6m45 57h6m-60 11h6m-13 102h6m14 -8h6m-60 -80h6m125 -123h6m-70 20h6m-24 111h6m-7 -86h6m21 -8h6m-36 -1h6m27 -5h6m-71 -14h6m-19 116h6m112 -47h6m-126 -122h6m35 99h6m20 29h6m24 -62h6m71 -18h6m-131 72h6m-31 -167h6m99 29h6m-66 133h6m58 33h6m-82 -79h6m28 37h6m-14 64h6m-19 -37h6m-26 -2h6m-1 63h6m-18 -125h6m21 -22h6m-65 51h6m55 34h6m58 -25h6m-112 9h6m-37 63h6m89 -113h6m30 57h6m-122 -34h6m8 131h6m-1 19h6m50 -107h6m0 -14h6m-57 -89h6m-37 110h6m140 -5h6m-20 13h6m-136 21h6m19 -101h6m44 125h6m68 -20h6m-127 -28h6m181 -166h6m-156 87h6m-47 144h6m-27 -47h6m49 34h6m36 15h6m-36 -7h6m-24 -139h6m-8 124h6m-19 -133h6m-43 104h6m63 5h6m-16 38h6m48 -74h6m-62 52h6m-66 6h6m83 -103h6m-36 10h6m14 154h6m-39 -83h6m74 -31h6m-21 -56h6m-71 133h6m74 -172h6m-78 216h6m20 -180h6m-6 23h6m45 -23h6m-135 77h6m50 -12h6m-53 64h6m33 -155h6m171 138h6m-202 29h6m-28 28h6m122 -38h6m-29 34h6m-43 -43h6m-38 50h6m57 -84h6m-19 -20h6m-81 45h6m-2 -104h6m12 -81h6m-42 24h6m27 75h6m100 -35h6m-153 97h6m163 -48h6m-135 85h6m44 -70h6m-53 18h6m-4 -51h6m15 62h6m85 20h6m-149 -13h6m63 -74h6m-79 110h6m0 -163h6m35 31h6m-1 99h6m65 -87h6m-47 -19h6m-64 31h6m-43 -121h6m107 174h6m-99 17h6m24 41h6m-12 -20h6m55 -98h6m-114 -139h6m34 132h6m3 31h6m14 -131h6m-12 262h6m-73 -136h6m86 124h6m5 -111h6m-102 14h6m45 26h6m-54 78h6m-5 -144h6m38 122h6m77 -124h6m-18 -47h6m-69 52h6m39 -97h6m-97 70h6m37 127h6m14 -202h6m-49 55h6m79 124h6m81 -119h6m-119 -73h6m-103 80h6m100 101h6m-107 -23h6m109 -101h6m6 36h6m-112 160h6m27 -27h6m39 -122h6m-29 105h6m-20 -155h6m70 55h6m-122 2h6m90 67h6m43 -149h6m-132 140h6m4 -138h6m-49 78h6m23 32h6m5 -77h6m95 95h6m-30 79h6m-15 -136h6m-49 13h6m-1 42h6m8 7h6m-23 20h6m-75 -91h6m182 98h6m-64 -77h6m-57 93h6m26 -51h6m-126 -112h6m16 123h6m31 -21h6m-64 56h6m32 53h6m39 -214h6m27 9h6m-19 201h6m-61 -127h6m-38 -11h6m13 -90h6m101 50h6m-30 -15h6m-50 17h6m-40 68h6m-10 3h6m8 -69h6m10 84h6m41 -26h6m-120 -35h6m58 36h6m23 62h6m6 -62h6m-36 98h6m27 -211h6m-53 117h6m86 -46h6m-1 29h6m-38 72h6m-57 -95h6m46 124h6m-67 -11h6m-42 -54h6m30 -246h6m83 298h6m-7 62h6m-136 -118h6m-3 -39h6m-11 -34h6m94 66h6m-73 -155h6m16 65h6m40 69h6m-34 3h6m-80 -82h6m92 115h6m-120 10h6m113 -9h6m-19 -43h6m-68 53h6m13 -11h6m40 12h6m-70 -10h6m100 -15h6m-101 115h6m-31 -285h6m-9 49h6m38 141h6m-77 -128h6m63 175h6m-8 -128h6m41 -113h6m-85 160h6m23 63h6m-1 -39h6m-67 -67h6m24 169h6m-53 -261h6m105 124h6m-29 -38h6m-12 41h6m93 -47h6m-90 108h6m-41 -19h6m130 -132h6m-122 197h6m-71 -184h6m77 49h6m-66 29h6m44 -48h6m12 135h6m35 -16h6m-43 -4h6m18 11h6m-83 -99h6m-25 58h6m-20 -14h6m-3 9h6m32 17h6m63 -15h6m-63 15h6m-18 -81h6m43 -85h6m-82 -22h6m79 245h6m48 -41h6m-89 0h6m9 -10h6m-46 -42h6m32 -23h6m-90 120h6m26 -109h6m26 -15h6m-74 122h6m109 -159h6m-81 123h6m73 22h6m-32 -99h6m-35 125h6m-80 -12h6m69 -129h6m14 90h6m-72 -54h6m-18 -4h6m-22 -104h6m101 -11h6m64 8h6m-147 65h6m62 -3h6m19 62h6m-1 29h6m-82 -133h6m-37 92h6m11 63h6m8 21h6m-13 -96h6m52 51h6m-9 9h6m-80 -15h6m47 -9h6m51 -185h6m-74 185h6m34 -52h6m-45 -16h6m52 -62h6m-58 -4h6m14 174h6m-41 -98h6m-13 73h6m-25 -203h6m52 180h6m-52 -43h6m-21 80h6m30 -106h6m9 48h6m-23 4h6m13 67h6m26 -11h6m-92 -64h6m23 30h6m-55 -99h6m65 98h6m-25 -152h6m42 234h6m-34 -24h6m-6 -258h6m37 299h6m-98 -208h6m90 111h6m-148 -70h6m91 22h6m55 -24h6m-52 163h6m-40 -47h6m-52 61h6m37 -165h6m-11 155h6m-17 -231h6m-51 235h6m41 -186h6m14 115h6m12 -78h6m-31 57h6m-5 3h6m-11 -12h6m59 -11h6m-104 82h6m26 -49h6m-54 51h6m102 -116h6m-53 -89h6m34 123h6m-93 4h6m-20 66h6m29 -14h6m93 -73h6m-86 -179h6m26 238h6m-19 -86h6m-63 -166h6m27 153h6m-1 72h6m-1 -105h6m23 132h6m-76 -151h6m-7 -21h6m29 88h6m80 125h6m-135 -125h6m10 -33h6m63 38h6m-21 -2h6m9 30h6m-57 2h6m11 -59h6m51 138h6m-65 -219h6m-61 265h6m69 -125h6m97 -29h6m-210 -2h6m100 -4h6m-47 5h6m5 76h6m-45 -224h6m121 244h6m-145 -34h6m84 68h6m-72 -131h6m-1 79h6m-8 -42h6m-30 -63h6m44 41h6m-16 -40h6m49 13h6m-39 -36h6m8 137h6m-7 -117h6m-42 96h6m69 -42h6m-55 12h6m-84 -122h6m27 213h6m27 -170h6m20 37h6m-12 -7h6m-31 -72h6m-23 70h6m-9 56h6m-24 -100h6m175 134h6m-80 21h6m-66 -181h6m-20 143h6m-18 -54h6m8 33h6m-27 -42h6m5 67h6m17 8h6m35 16h6m1 61h6m-114 -108h6m38 14h6m25 -156h6m-57 151h6m-27 40h6m129 -39h6m-90 -173h6m-52 204h6m-36 -117h6m108 -24h6m-55 67h6m-77 32h6m79 -172h6m35 91h6m-106 94h6m77 69h6m3 -138h6m-92 49h6m85 76h6m-38 -82h6m-86 -53h6m77 61h6m-42 35h6m43 -97h6m-36 -5h6m-33 160h6m28 -136h6m34 46h6m-56 -6h6m-78 33h6m-5 -31h6m73 6h6m-78 -80h6m73 -35h6m-79 155h6m19 -6h6m19 -23h6m-20 -106h6m37 27h6m65 92h6m-96 24h6m-55 -105h6m5 45h6m77 68h6m-104 31h6m199 -156h6m-80 -40h6m-116 120h6m41 87h6m-4 -60h6m43 -104h6m-8 -30h6m-44 11h6m36 130h6m-7 20h6m-81 -123h6m-16 64h6m35 41h6m-34 11h6m-54 -41h6m13 -66h6m64 55h6m-83 -27h6m75 -85h6m-36 172h6m-80 -21h6m86 -45h6m-77 114h6m3 -64h6m73 -106h6m-23 173h6m-1 -139h6m-27 7h6m-54 17h6m13 -52h6m-37 -67h6m60 67h6m27 47h6m-52 -23h6m45 -97h6m-69 157h6m-54 -71h6m123 104h6m-38 -54h6m-72 -41h6m47 -56h6m12 22h6m-58 -37h6m3 -61h6m-20 224h6m-58 -102h6m10 93h6m138 -18h6m-118 -345h6m-54 326h6m7 40h6m57 -54h6m-27 41h6m35 -102h6m-29 -79h6m9 243h6m6 -99h6m-27 47h6m-12 -34h6m-50 45h6m19 7h6m27 -190h6m-31 191h6m42 -58h6m51 43h6m-51 -278h6m-67 260h6m-5 31h6m56 -10h6m-128 -198h6m38 -5h6m-39 216h6m71 -112h6m-40 -52h6m-6 146h6m-43 -62h6m14 84h6m90 -132h6m-143 89h6m43 -14h6m56 -9h6m-24 -138h6m-57 104h6m26 32h6m-32 -136h6m24 179h6m-42 -39h6m-16 -91h6m-10 -36h6m-8 -58h6m35 275h6m19 -119h6m-66 -120h6m7 237h6m36 -252h6m19 -5h6m-69 189h6m59 -160h6m-68 228h6m-13 -136h6m-19 100h6m11 -107h6m44 -25h6m36 35h6m-82 19h6m-3 8h6m126 3h6m-5 -78h6m-105 85h6m-38 -22h6m-25 39h6m-12 32h6m95 -95h6m-130 31h6m201 46h6m-160 -69h6m-67 -48h6m137 48h6m-130 44h6m-5 57h6m-22 -181h6m63 107h6m-53 -105h6m-40 125h6m35 50h6m-28 -227h6m29 180h6m12 -12h6m-24 67h6m-8 -187h6m97 84h6m-171 -121h6m143 141h6m-108 36h6m-3 57h6m-59 -66h6m104 -123h6m-41 216h6m10 -100h6m-11 17h6m30 45h6m-128 -96h6m90 -19h6m-39 114h6m31 -48h6m16 -159h6m-89 -19h6m15 134h6m18 -64h6m0 4h6m3 115h6m-7 -15h6m-56 -66h6m54 131h6m53 -159h6m-174 51h6m94 -89h6m-57 106h6m44 -91h6m121 146h6m-118 -56h6m-88 -15h6m-11 26h6m47 -21h6m-70 -74h6m44 60h6m-70 70h6m100 -22h6m-67 -34h6m-23 82h6m-22 37h6m57 -314h6m101 147h6m-107 15h6m-76 124h6m79 -43h6m-30 -33h6m-49 -55h6m-6 77h6m31 20h6m-50 29h6m56 -246h6m-31 146h6m-35 57h6m32 -6h6m4 -114h6m-43 138h6m-36 -34h6m85 -49h6m-10 -51h6m-105 -30h6m95 83h6m-17 -70h6m10 64h6m-31 36h6m-36 -63h6m8 -18h6m133 17h6m-152 -30h6m29 135h6m18 15h6m69 -76h6m-97 -2h6m5 56h6m-47 31h6m-35 -25h6m22 17h6m-14 -225h6m-19 115h6m-44 109h6m71 -8h6m19 -44h6m-98 101h6m45 -75h6m-17 -23h6m53 26h6m-67 68h6m37 -75h6m-40 56h6m-76 -129h6m128 41h6m-88 130h6m67 -97h6m-23 6h6m-46 53h6m46 -77h6m-50 -109h6m-46 24h6m82 185h6m-119 -65h6m121 11h6m-141 -91h6m84 115h6m-6 -35h6m-26 27h6m-37 -24h6m0 0h6m-23 10h6m-18 -59h6m8 -160h6m106 186h6m-112 36h6m72 -109h6m-52 150h6m-20 -96h6m-9 26h6m27 -66h6m60 14h6m-136 -4h6m82 38h6m-25 -223h6m-21 217h6m33 107h6m-112 -250h6m44 148h6m-35 -97h6m1 -79h6m-23 167h6m29 -19h6m64 62h6m-19 -45h6m-101 72h6m-7 -88h6m39 65h6m-20 71h6m-29 -112h6m60 -87h6m-42 -16h6m55 105h6m84 -26h6m-122 81h6m-91 -38h6m-10 66h6m83 -236h6m-88 163h6m-1 -26h6m23 -96h6m13 155h6m46 -99h6m-25 -20h6m-19 -49h6m11 102h6m62 -43h6m-83 136h6m3 -71h6m-57 -15h6m-52 -5h6m80 -56h6m17 39h6m21 -89h6m68 210h6m-62 -40h6m-141 -99h6m-19 -110h6m80 106h6m-30 166h6m-75 -152h6m18 41h6m-23 23h6m3 -26h6m44 -2h6m68 20h6m-105 -74h6m77 -16h6m-97 84h6m49 8h6m-96 -94h6m43 -90h6m2 152h6m101 71h6m-61 -138h6m29 58h6m-86 12h6m-18 -38h6m145 120h6m-197 -135h6m51 85h6m22 8h6m68 37h6m-38 -18h6m-21 -80h6" stroke="#000" stroke-opacity="1" stroke-width="6" fill="none"/>
<path transform="scale(0.1)" d="M3532 2685h6m72 -49h6m-106 -136h6m102 55h6m-7 67h6m-58 -42h6m-57 -69h6m-9 204h6m80 -32h6m-84 -131h6m6 -136h6m-12 22h6m13 217h6m-20 -110h6m15 25h6m44 -66h6m-40 52h6m2 127h6m-113 -168h6m69 -156h6m-32 242h6m111 -2h6m-164 13h6m102 -199h6m-33 303h6m-1 -147h6m-74 -62h6m137 59h6m-61 96h6m-4 -82h6m-29 -133h6m-74 130h6m101 197h6m-81 -84h6m56 -152h6m-59 -60h6m52 242h6m-68 -144h6m46 60h6m-87 -16h6m26 65h6m45 -202h6m-40 174h6m0 -168h6m-46 32h6m36 -18h6m15 90h6m-70 9h6m-11 -1h6m94 122h6m-87 -261h6m48 162h6m-97 20h6m56 22h6m-54 -174h6m14 59h6m33 17h6m-24 80h6m-35 -136h6m68 -13h6m-97 36h6m13 146h6m33 -177h6m-7 118h6m35 -26h6m-105 110h6m43 -71h6m-3 -44h6m-1 -129h6m26 194h6m-15 -75h6m-45 -68h6m15 115h6m-40 -174h6m49 228h6m-48 -58h6m46 22h6m-96 -216h6m15 116h6m58 14h6m-6 -9h6m-1 56h6m-5 97h6m-11 -138h6m-46 -53h6m-10 -24h6m-18 -34h6m93 158h6m-80 -2h6m-83 -32h6m27 4h6m63 -40h6m-91 39h6m43 7h6m-7 77h6m1 -62h6m-43 -85h6m36 41h6m-30 52h6m20 -42h6m-76 -7h6m24 17h6m42 8h6m-84 -132h6m66 -20h6m-2 163h6m-80 -78h6m14 6h6m27 -66h6m9 65h6m-52 94h6m35 -185h6m-51 68h6m75 49h6m-53 56h6m55 -45h6m-58 83h6m-24 44h6m41 -86h6m34 -9h6m18 -22h6m-84 39h6m-48 -44h6m55 -116h6m-40 285h6m-32 -121h6m13 70h6m130 -184h6m-175 119h6m108 -205h6m-105 150h6m12 133h6m-13 -65h6m-68 -37h6m38 107h6m40 -187h6m-35 10h6m-37 34h6m34 -82h6m4 97h6m13 -40h6m-50 159h6m-43 2h6m70 -70h6m-45 24h6m21 -152h6m-37 39h6m31 33h6m-35 -84h6m24 59h6m-57 -108h6m39 107h6m-90 62h6m27 20h6m-5 49h6m41 -224h6m-13 -119h6m-59 290h6m2 -39h6m68 28h6m16 -112h6m-78 91h6m33 -118h6m-102 -31h6m45 161h6m-7 -39h6m50 -131h6m-77 8h6m75 138h6m4 -188h6m-59 191h6m14 22h6m-92 -106h6m11 161h6m85 -47h6m-66 -24h6m15 153h6m21 -233h6m-63 -97h6m70 73h6m-53 -23h6m7 138h6m-30 -84h6m116 105h6m-109 -61h6m-18 68h6m-3 8h6m-34 -24h6m18 -4h6m-6 -69h6m-12 37h6m6 -111h6m14 84h6m7 57h6m-83 -103h6m54 52h6m-34 3h6m45 25h6m-81 -66h6m-5 89h6m-7 7h6m-22 -59h6m25 19h6m-50 84h6m180 -146h6m-89 73h6m-8 -26h6m-8 105h6m13 -189h6m-52 215h6m48 -139h6m-109 184h6m14 -148h6m45 -18h6m-84 51h6m31 -59h6m30 51h6m30 45h6m-112 1h6m18 63h6m-51 -155h6m-19 107h6m77 -109h6m-62 -69h6m-21 -13h6m51 62h6m70 -62h6m-111 51h6m62 30h6m-81 61h6m61 -193h6m23 174h6m-62 -4h6m135 8h6m-162 -71h6m-32 167h6m158 -56h6m-101 60h6m-68 -124h6m63 -3h6m-4 -103h6m-72 200h6m56 -226h6m-13 61h6m11 15h6m-62 176h6m33 87h6m-26 -308h6m-18 184h6m31 -131h6m-82 66h6m90 125h6m-47 -159h6m-39 35h6m-35 -222h6m112 144h6m-112 104h6m60 -138h6m22 58h6m-44 35h6m27 70h6m-55 -88h6m84 -59h6m-162 61h6m12 -27h6m81 263h6m5 -279h6m-86 -46h6m40 236h6m-16 -243h6m85 139h6m-113 60h6m13 -101h6m-52 -105h6m7 222h6m36 -78h6m-43 -17h6m109 -12h6m-172 -17h6m81 132h6m65 6h6m-115 -153h6m43 62h6m-57 -49h6m-46 -30h6m37 189h6m33 -130h6m-8 43h6m-20 -168h6m-44 90h6m67 108h6m16 -55h6m-41 -101h6m56 4h6m-125 82h6m32 -56h6m7 105h6" stroke="#333" stroke-opacity="1" stroke-width="6" fill="none"/>
<g clip-path="url(#cS4)"><path d="M384.8 244.26C384.46 244.75 383.98 245.25 383.53 245.57C383.08 245.89 382.55 246.12 382.11 246.18C381.68 246.25 381.24 246.16 380.94 245.95C380.63 245.74 380.4 245.35 380.31 244.92C380.22 244.5 380.26 243.91 380.41 243.38C380.55 242.85 380.85 242.23 381.2 241.74C381.54 241.25 382.02 240.75 382.47 240.43C382.92 240.11 383.45 239.88 383.89 239.82C384.32 239.75 384.76 239.84 385.06 240.05C385.37 240.26 385.6 240.65 385.69 241.08C385.78 241.5 385.74 242.09 385.59 242.62C385.45 243.15 385.15 243.77 384.8 244.26Z" fill="#000" fill-opacity="0.5" filter="url(#b1)"/></g>
<path transform="scale(0.1)" d="M3876 2393h6m-24 5h6m-67 74h6m77 -97h6m-101 107h6m58 -67h6m-22 42h6m-55 55h6m85 -58h6m-63 -8h6m-15 -15h6m15 -23h6m-65 64h6m64 -97h6m14 19h6m-24 19h6m-45 42h6m44 -2h6m-42 -17h6m15 -17h6m-21 -1h6m-7 7h6m-31 41h6m29 -31h6m-29 93h6m21 -101h6m-37 12h6m-7 18h6m52 -32h6m-37 29h6m-31 -80h6m29 50h6m-28 17h6m-29 20h6m28 -21h6m-48 15h6m57 -14h6m-10 -17h6m-46 28h6m10 -21h6m29 -22h6m13 -17h6m-92 76h6m45 -20h6m-26 -3h6m-9 -9h6m8 26h6m-5 -62h6m-64 59h6m42 16h6m-53 11h6m-6 -35h6m81 -36h6m-11 -17h6m-24 8h6m-41 83h6m80 -79h6m-54 22h6m20 -44h6m-46 -19h6m41 37h6m-41 38h6m2 -16h6m-13 22h6m-26 -8h6m26 -47h6m-43 53h6m19 -30h6m0 -17h6m-10 23h6m-25 28h6m-1 -1h6m20 -42h6m-24 44h6m-16 -10h6m32 -9h6m-83 108h6m46 -122h6m-54 13h6m56 -33h6m2 -38h6m4 31h6m-63 52h6m18 1h6m-33 -3h6m17 -41h6m-37 17h6m-6 21h6m44 -11h6m-32 17h6m-42 35h6m7 -15h6m-28 22h6m50 -72h6m-23 21h6m22 -16h6m-7 34h6m5 -37h6m-24 7h6m3 7h6m-39 0h6m4 2h6m-25 28h6m-11 39h6m33 -81h6m4 35h6m-22 -4h6m14 -51h6m-65 5h6m33 14h6m-16 18h6m-18 8h6m27 -45h6m-26 42h6m20 -68h6m-40 75h6m30 -17h6m-47 44h6m-30 -7h6m66 -27h6m-18 -13h6m56 -103h6m-139 157h6m34 -5h6m56 -12h6m12 -161h6m-62 75h6m7 67h6m-58 -19h6m20 15h6" stroke="#222" stroke-opacity="1" stroke-width="6" fill="none"/>
<path transform="scale(0.1)" d="M3790 2659h6m17 2h6m-3 24h6m131 103h6m20 16h6m-52 -12h6m-50 4h6m101 -153h6m-118 80h6m-85 38h6m179 -94h6m-16 -52h6m-272 236h6m338 -109h6m-311 -54h6m15 53h6m-61 20h6m56 -68h6m151 31h6m-173 3h6m140 -99h6m-39 175h6" stroke="#999" stroke-opacity="1" stroke-width="6" fill="none"/>
<path transform="scale(0.1)" d="M3584 3214h6m2 271h6m-102 -149h6m-16 -155h6m137 135h6m-65 17h6m30 63h6m-21 -60h6m-55 -58h6m-80 54h6m101 102h6m-60 -64h6m-26 -55h6m123 -177h6m-71 138h6m-46 27h6m45 47h6m-60 -38h6m-25 -35h6m-38 12h6m176 94h6m-150 -187h6m189 102h6m-189 175h6m104 -77h6m-35 -55h6m-89 -10h6m170 97h6m-126 -77h6m-11 -125h6m-24 115h6m37 -6h6m82 48h6m-178 -144h6m4 63h6m84 195h6m-92 -295h6m-6 145h6m91 -42h6m39 64h6m1 28h6m-37 10h6m-124 -282h6m133 109h6m-157 165h6m176 29h6m-154 -33h6m-44 -100h6m154 -66h6m-64 25h6m-77 110h6m-52 94h6m100 -49h6m43 -63h6m-117 -82h6m93 -54h6m61 140h6m-170 16h6m92 -75h6m-37 64h6m-91 -3h6m-8 8h6m5 24h6m96 42h6m-41 -182h6m-75 -29h6m118 10h6m-14 156h6m-125 -106h6m-8 5h6m0 -91h6m134 163h6m-87 98h6m-34 -159h6m-92 -35h6m110 58h6m-101 -39h6m102 55h6m-76 -21h6m86 33h6m-38 -110h6m-11 -4h6m-13 51h6m42 40h6m-56 56h6m44 -35h6m50 -130h6m-155 -11h6m-38 14h6m-15 178h6m40 34h6m30 -55h6m67 -101h6m-118 128h6m25 -127h6m185 -97h6m-211 161h6m-26 17h6m14 -16h6m5 -45h6m13 -78h6m-18 16h6m54 216h6m-127 -259h6m10 147h6m75 -38h6m-114 240h6m54 -201h6m-60 6h6m40 24h6m-9 -167h6m44 116h6m-9 116h6m-112 -15h6m189 9h6m-161 -54h6m10 -133h6m-49 43h6m16 37h6m-32 81h6m55 -47h6m-49 -86h6m23 72h6m32 137h6m54 -103h6m-108 -139h6m25 56h6m-35 46h6m-48 18h6m10 -33h6m54 183h6m-116 -62h6m91 -189h6m-40 11h6m82 113h6m-21 16h6m-130 -213h6m107 123h6m-104 113h6m197 15h6m-171 61h6m132 -258h6m-93 85h6m-115 38h6m103 -165h6m-83 39h6m9 187h6m43 -172h6m-79 51h6m110 -99h6m-55 211h6m7 -75h6m-95 -57h6m184 60h6m-101 -36h6m-24 -21h6m82 106h6m-180 -79h6m84 -65h6m91 122h6m-114 -26h6m-22 -62h6m-20 92h6m-46 -132h6m140 33h6m-71 -28h6m-26 28h6m-46 48h6m62 -13h6m69 42h6m-133 -13h6m50 55h6m-74 -196h6m109 -21h6m11 160h6m-48 -141h6m-86 211h6m-30 39h6m85 -123h6m48 -7h6m-77 45h6m-115 -8h6m158 51h6m26 -49h6m-171 111h6m202 -261h6m-34 98h6m-176 11h6m30 55h6m56 5h6m-32 -61h6m95 105h6m-133 -67h6m30 110h6m-22 -116h6m24 16h6m-103 -122h6m102 123h6m-45 -48h6m-73 -4h6m-15 -50h6m29 114h6m-27 4h6m100 -40h6m-103 38h6m74 117h6m-48 -90h6m76 57h6m-100 -169h6m-23 91h6m-40 -16h6m-34 -42h6m113 -51h6m-77 68h6m154 -9h6m-209 0h6m140 123h6m-41 -97h6m-12 14h6m4 -67h6m24 -27h6m-111 81h6m-29 -232h6m-30 165h6m11 -44h6m120 30h6m8 103h6m-22 -58h6m-93 81h6m-3 -40h6m41 -81h6m19 3h6m42 21h6m-134 79h6m-46 -15h6m219 7h6m-164 16h6m87 -65h6m-64 56h6m50 -80h6m-71 127h6m2 -113h6m111 -74h6m-153 146h6m79 -126h6m-70 101h6m-61 -14h6m36 -84h6m33 -1h6m-91 -20h6m58 154h6" stroke="#888" stroke-opacity="1" stroke-width="6" fill="none"/>
<path transform="scale(0.1)" d="M3798 3291h6m41 -39h6m3 6h6m21 2h6m-26 89h6m-19 -76h6m5 -12h6m-26 40h6m-34 8h6m4 -77h6m72 -1h6m-80 61h6m11 24h6m-3 -51h6m-10 4h6m22 -5h6m-1 21h6m-49 14h6m-52 -13h6m37 -32h6m-43 31h6m117 -6h6m-72 -50h6m34 61h6m-60 21h6m11 -65h6m-2 21h6m34 -11h6m-41 6h6m-20 -14h6m-23 -20h6m1 53h6m16 -4h6m10 -36h6m-51 7h6m-47 1h6m-21 10h6m80 23h6m-82 45h6m78 -86h6m-83 39h6m50 -27h6m-26 20h6m24 50h6m-55 -74h6m35 16h6m-119 13h6m155 28h6m-9 -27h6m-36 -57h6m-73 25h6m-50 34h6m63 -5h6m18 9h6m17 -33h6m-63 -22h6m28 17h6m-63 11h6m54 27h6m-48 -56h6m24 41h6m-25 15h6m-10 2h6m62 -64h6m-26 50h6m-60 -10h6m51 40h6m-43 -38h6m70 20h6m-70 0h6m21 -29h6m-75 -38h6m58 23h6m-78 -26h6m93 112h6m-53 -19h6m17 -90h6m-4 61h6m-32 -10h6m-51 36h6" stroke="#777" stroke-opacity="1" stroke-width="6" fill="none"/>
<path transform="scale(0.1)" d="M3564 3408h6m-88 1h6m188 -105h6m-151 192h6m158 -24h6m-20 56h6m195 81h6m-12 -394h6m111 33h6m-355 143h6m145 41h6m-125 87h6m-34 -313h6m73 205h6m98 16h6m-352 -48h6m26 229h6m231 -266h6m240 239h6m-181 -216h6m-13 3h6m-122 110h6m144 50h6m-250 -278h6m66 131h6m-174 -83h6m124 46h6m313 2h6m-448 156h6m408 -132h6m-358 -121h6m-87 50h6m428 5h6m-373 97h6m-22 211h6m341 -113h6m-99 130h6m62 -375h6m-131 343h6m-101 -297h6m111 -96h6m34 304h6m-129 5h6m-53 -131h6m-64 163h6m-78 80h6m129 -255h6m-11 -80h6m121 253h6m49 -8h6m-184 -210h6m-67 296h6m208 -50h6m43 -22h6m-203 -165h6m336 220h6m-482 -325h6m416 177h6m-45 -122h6m-164 178h6m-101 -5h6m238 -38h6m-334 -92h6m242 129h6m-325 -65h6m-11 90h6m262 -74h6m70 111h6m-195 -13h6m-47 54h6m111 -115h6m193 -39h6m-52 168h6m-140 -141h6m85 -297h6m128 396h6m-183 -388h6m172 403h6m-129 25h6m-203 -317h6" stroke="#aaa" stroke-opacity="1" stroke-width="6" fill="none"/>
<text x="2.8" y="11.9" font-size="14.6" font-weight="bold" text-anchor="start" fill="#000" class="b" >A</text>
<text x="2.2" y="414.3" font-size="13.5" font-weight="bold" text-anchor="start" fill="#000" class="b" >B</text>
<text x="272.6" y="415.1" font-size="13.8" font-weight="bold" text-anchor="start" fill="#000" class="b" >C</text>
<text x="2.5" y="604.1" font-size="14" font-weight="bold" text-anchor="start" fill="#000" class="b" >D</text>
<text x="272" y="605.6" font-size="14" font-weight="bold" text-anchor="start" fill="#000" class="b" >E</text>
<text x="130" y="9.8" font-size="10.6" font-weight="bold" text-anchor="start" fill="#000" class="b" >Gated on CD45.1<tspan baseline-shift="super" font-size="58%">+</tspan></text>
<text x="244.5" y="10.6" font-size="10.7" font-weight="bold" text-anchor="start" fill="#000" class="b" >Gated on CD45.1<tspan baseline-shift="super" font-size="58%">+</tspan>CD3<tspan baseline-shift="super" font-size="58%">-</tspan></text>
<text x="128.6" y="213.8" font-size="10.6" font-weight="bold" text-anchor="start" fill="#000" class="b" >Gated on CD45.1<tspan baseline-shift="super" font-size="58%">+</tspan></text>
<text x="229" y="214" font-size="10.6" font-weight="bold" text-anchor="start" fill="#000" class="b" >Gated on CD45.1<tspan baseline-shift="super" font-size="58%">+</tspan></text>
<text x="335.4" y="214" font-size="10.7" font-weight="bold" text-anchor="start" fill="#000" class="b" >Gated on CD45.1<tspan baseline-shift="super" font-size="58%">+</tspan>CD3<tspan baseline-shift="super" font-size="58%">-</tspan></text>
<text x="323.2" y="40" font-size="10.5" font-weight="bold" text-anchor="start" fill="#000" class="b" >CD45.1</text>
<text x="323.2" y="52.5" font-size="10.5" font-weight="bold" text-anchor="start" fill="#000" class="b" >control</text>
<text x="323.2" y="65" font-size="10.5" font-weight="bold" text-anchor="start" fill="#000" class="b" >mouse</text>
<text x="323.7" y="122.5" font-size="10.5" font-weight="bold" text-anchor="start" fill="#000" class="b" ><tspan font-style="italic">Il2rg</tspan><tspan font-size="6.5" dy="-4.5" font-weight="normal"> -/-</tspan></text>
<text x="323.7" y="135" font-size="10.5" font-weight="bold" text-anchor="start" fill="#000" class="b" >recipient</text>
<text x="323.7" y="147.5" font-size="10.5" font-weight="bold" text-anchor="start" fill="#000" class="b" >mouse</text>
<text x="421.6" y="246.2" font-size="10.5" font-weight="bold" text-anchor="start" fill="#000" class="b" >CD45.1</text>
<text x="421.6" y="258.7" font-size="10.5" font-weight="bold" text-anchor="start" fill="#000" class="b" >control</text>
<text x="421.6" y="271.2" font-size="10.5" font-weight="bold" text-anchor="start" fill="#000" class="b" >mouse</text>
<text x="423.7" y="327.6" font-size="10.5" font-weight="bold" text-anchor="start" fill="#000" class="b" ><tspan font-style="italic">Il2rg</tspan><tspan font-size="6.5" dy="-4.5" font-weight="normal"> -/-</tspan></text>
<text x="423.7" y="340.1" font-size="10.5" font-weight="bold" text-anchor="start" fill="#000" class="b" >recipient</text>
<text x="423.7" y="352.6" font-size="10.5" font-weight="bold" text-anchor="start" fill="#000" class="b" >mouse</text>
<text x="400" y="93" font-size="12.5" font-weight="bold" text-anchor="start" fill="#000" class="b" >PB</text>
<text x="477.3" y="291" font-size="12.5" font-weight="bold" text-anchor="start" fill="#000" class="b" >Spleen</text>
<rect x="39.5" y="18.5" width="68" height="66" fill="none" stroke="#555" stroke-width="0.8"/>
<line x1="47.32" y1="84.5" x2="47.32" y2="85.7" stroke="#666" stroke-width="0.5" />
<text x="47.32" y="90.1" font-size="3.4" font-weight="bold" text-anchor="middle" fill="#666">0</text>
<line x1="53.1" y1="84.5" x2="53.1" y2="85.7" stroke="#666" stroke-width="0.5" />
<text x="53.1" y="90.1" font-size="3.4" font-weight="bold" text-anchor="middle" fill="#666">100</text>
<line x1="71.46" y1="84.5" x2="71.46" y2="85.7" stroke="#666" stroke-width="0.5" />
<text x="71.46" y="90.1" font-size="3.4" font-weight="bold" text-anchor="middle" fill="#666">1000</text>
<line x1="87.1" y1="84.5" x2="87.1" y2="85.7" stroke="#666" stroke-width="0.5" />
<text x="87.1" y="90.1" font-size="3.4" font-weight="bold" text-anchor="middle" fill="#666">10000</text>
<line x1="102.74" y1="84.5" x2="102.74" y2="85.7" stroke="#666" stroke-width="0.5" />
<text x="102.74" y="90.1" font-size="3.4" font-weight="bold" text-anchor="middle" fill="#666">10<tspan font-size="2.5" dy="-1.2">5</tspan></text>
<line x1="38.3" y1="24.44" x2="39.5" y2="24.44" stroke="#666" stroke-width="0.5" />
<text x="37.7" y="25.64" font-size="3.4" font-weight="bold" text-anchor="end" fill="#666">10<tspan font-size="2.5" dy="-1.2">5</tspan></text>
<line x1="38.3" y1="39.62" x2="39.5" y2="39.62" stroke="#666" stroke-width="0.5" />
<text x="37.7" y="40.82" font-size="3.4" font-weight="bold" text-anchor="end" fill="#666">10000</text>
<line x1="38.3" y1="54.8" x2="39.5" y2="54.8" stroke="#666" stroke-width="0.5" />
<text x="37.7" y="56" font-size="3.4" font-weight="bold" text-anchor="end" fill="#666">1000</text>
<line x1="38.3" y1="70.64" x2="39.5" y2="70.64" stroke="#666" stroke-width="0.5" />
<text x="37.7" y="71.84" font-size="3.4" font-weight="bold" text-anchor="end" fill="#666">100</text>
<line x1="38.3" y1="77.9" x2="39.5" y2="77.9" stroke="#666" stroke-width="0.5" />
<text x="37.7" y="79.1" font-size="3.4" font-weight="bold" text-anchor="end" fill="#666">0</text>
<rect x="145.5" y="18.5" width="66" height="65" fill="none" stroke="#555" stroke-width="0.8"/>
<line x1="153.09" y1="83.5" x2="153.09" y2="84.7" stroke="#666" stroke-width="0.5" />
<text x="153.09" y="89.1" font-size="3.4" font-weight="bold" text-anchor="middle" fill="#666">0</text>
<line x1="158.7" y1="83.5" x2="158.7" y2="84.7" stroke="#666" stroke-width="0.5" />
<text x="158.7" y="89.1" font-size="3.4" font-weight="bold" text-anchor="middle" fill="#666">100</text>
<line x1="176.52" y1="83.5" x2="176.52" y2="84.7" stroke="#666" stroke-width="0.5" />
<text x="176.52" y="89.1" font-size="3.4" font-weight="bold" text-anchor="middle" fill="#666">1000</text>
<line x1="191.7" y1="83.5" x2="191.7" y2="84.7" stroke="#666" stroke-width="0.5" />
<text x="191.7" y="89.1" font-size="3.4" font-weight="bold" text-anchor="middle" fill="#666">10000</text>
<line x1="206.88" y1="83.5" x2="206.88" y2="84.7" stroke="#666" stroke-width="0.5" />
<text x="206.88" y="89.1" font-size="3.4" font-weight="bold" text-anchor="middle" fill="#666">10<tspan font-size="2.5" dy="-1.2">5</tspan></text>
<line x1="144.3" y1="24.35" x2="145.5" y2="24.35" stroke="#666" stroke-width="0.5" />
<text x="143.7" y="25.55" font-size="3.4" font-weight="bold" text-anchor="end" fill="#666">10<tspan font-size="2.5" dy="-1.2">5</tspan></text>
<line x1="144.3" y1="39.3" x2="145.5" y2="39.3" stroke="#666" stroke-width="0.5" />
<text x="143.7" y="40.5" font-size="3.4" font-weight="bold" text-anchor="end" fill="#666">10000</text>
<line x1="144.3" y1="54.25" x2="145.5" y2="54.25" stroke="#666" stroke-width="0.5" />
<text x="143.7" y="55.45" font-size="3.4" font-weight="bold" text-anchor="end" fill="#666">1000</text>
<line x1="144.3" y1="69.85" x2="145.5" y2="69.85" stroke="#666" stroke-width="0.5" />
<text x="143.7" y="71.05" font-size="3.4" font-weight="bold" text-anchor="end" fill="#666">100</text>
<line x1="144.3" y1="77" x2="145.5" y2="77" stroke="#666" stroke-width="0.5" />
<text x="143.7" y="78.2" font-size="3.4" font-weight="bold" text-anchor="end" fill="#666">0</text>
<rect x="251.5" y="18.5" width="67" height="65" fill="none" stroke="#555" stroke-width="0.8"/>
<line x1="259.2" y1="83.5" x2="259.2" y2="84.7" stroke="#666" stroke-width="0.5" />
<text x="259.2" y="89.1" font-size="3.4" font-weight="bold" text-anchor="middle" fill="#666">0</text>
<line x1="264.9" y1="83.5" x2="264.9" y2="84.7" stroke="#666" stroke-width="0.5" />
<text x="264.9" y="89.1" font-size="3.4" font-weight="bold" text-anchor="middle" fill="#666">100</text>
<line x1="282.99" y1="83.5" x2="282.99" y2="84.7" stroke="#666" stroke-width="0.5" />
<text x="282.99" y="89.1" font-size="3.4" font-weight="bold" text-anchor="middle" fill="#666">1000</text>
<line x1="298.4" y1="83.5" x2="298.4" y2="84.7" stroke="#666" stroke-width="0.5" />
<text x="298.4" y="89.1" font-size="3.4" font-weight="bold" text-anchor="middle" fill="#666">10000</text>
<line x1="313.81" y1="83.5" x2="313.81" y2="84.7" stroke="#666" stroke-width="0.5" />
<text x="313.81" y="89.1" font-size="3.4" font-weight="bold" text-anchor="middle" fill="#666">10<tspan font-size="2.5" dy="-1.2">5</tspan></text>
<line x1="250.3" y1="24.35" x2="251.5" y2="24.35" stroke="#666" stroke-width="0.5" />
<text x="249.7" y="25.55" font-size="3.4" font-weight="bold" text-anchor="end" fill="#666">10<tspan font-size="2.5" dy="-1.2">5</tspan></text>
<line x1="250.3" y1="39.3" x2="251.5" y2="39.3" stroke="#666" stroke-width="0.5" />
<text x="249.7" y="40.5" font-size="3.4" font-weight="bold" text-anchor="end" fill="#666">10000</text>
<line x1="250.3" y1="54.25" x2="251.5" y2="54.25" stroke="#666" stroke-width="0.5" />
<text x="249.7" y="55.45" font-size="3.4" font-weight="bold" text-anchor="end" fill="#666">1000</text>
<line x1="250.3" y1="69.85" x2="251.5" y2="69.85" stroke="#666" stroke-width="0.5" />
<text x="249.7" y="71.05" font-size="3.4" font-weight="bold" text-anchor="end" fill="#666">100</text>
<line x1="250.3" y1="77" x2="251.5" y2="77" stroke="#666" stroke-width="0.5" />
<text x="249.7" y="78.2" font-size="3.4" font-weight="bold" text-anchor="end" fill="#666">0</text>
<rect x="39.5" y="100.5" width="67" height="63" fill="none" stroke="#555" stroke-width="0.8"/>
<line x1="47.2" y1="163.5" x2="47.2" y2="164.7" stroke="#666" stroke-width="0.5" />
<text x="47.2" y="169.1" font-size="3.4" font-weight="bold" text-anchor="middle" fill="#666">0</text>
<line x1="52.9" y1="163.5" x2="52.9" y2="164.7" stroke="#666" stroke-width="0.5" />
<text x="52.9" y="169.1" font-size="3.4" font-weight="bold" text-anchor="middle" fill="#666">100</text>
<line x1="70.99" y1="163.5" x2="70.99" y2="164.7" stroke="#666" stroke-width="0.5" />
<text x="70.99" y="169.1" font-size="3.4" font-weight="bold" text-anchor="middle" fill="#666">1000</text>
<line x1="86.4" y1="163.5" x2="86.4" y2="164.7" stroke="#666" stroke-width="0.5" />
<text x="86.4" y="169.1" font-size="3.4" font-weight="bold" text-anchor="middle" fill="#666">10000</text>
<line x1="101.81" y1="163.5" x2="101.81" y2="164.7" stroke="#666" stroke-width="0.5" />
<text x="101.81" y="169.1" font-size="3.4" font-weight="bold" text-anchor="middle" fill="#666">10<tspan font-size="2.5" dy="-1.2">5</tspan></text>
<line x1="38.3" y1="106.17" x2="39.5" y2="106.17" stroke="#666" stroke-width="0.5" />
<text x="37.7" y="107.37" font-size="3.4" font-weight="bold" text-anchor="end" fill="#666">10<tspan font-size="2.5" dy="-1.2">5</tspan></text>
<line x1="38.3" y1="120.66" x2="39.5" y2="120.66" stroke="#666" stroke-width="0.5" />
<text x="37.7" y="121.86" font-size="3.4" font-weight="bold" text-anchor="end" fill="#666">10000</text>
<line x1="38.3" y1="135.15" x2="39.5" y2="135.15" stroke="#666" stroke-width="0.5" />
<text x="37.7" y="136.35" font-size="3.4" font-weight="bold" text-anchor="end" fill="#666">1000</text>
<line x1="38.3" y1="150.27" x2="39.5" y2="150.27" stroke="#666" stroke-width="0.5" />
<text x="37.7" y="151.47" font-size="3.4" font-weight="bold" text-anchor="end" fill="#666">100</text>
<line x1="38.3" y1="157.2" x2="39.5" y2="157.2" stroke="#666" stroke-width="0.5" />
<text x="37.7" y="158.4" font-size="3.4" font-weight="bold" text-anchor="end" fill="#666">0</text>
<rect x="145.5" y="100.5" width="66" height="63" fill="none" stroke="#555" stroke-width="0.8"/>
<line x1="153.09" y1="163.5" x2="153.09" y2="164.7" stroke="#666" stroke-width="0.5" />
<text x="153.09" y="169.1" font-size="3.4" font-weight="bold" text-anchor="middle" fill="#666">0</text>
<line x1="158.7" y1="163.5" x2="158.7" y2="164.7" stroke="#666" stroke-width="0.5" />
<text x="158.7" y="169.1" font-size="3.4" font-weight="bold" text-anchor="middle" fill="#666">100</text>
<line x1="176.52" y1="163.5" x2="176.52" y2="164.7" stroke="#666" stroke-width="0.5" />
<text x="176.52" y="169.1" font-size="3.4" font-weight="bold" text-anchor="middle" fill="#666">1000</text>
<line x1="191.7" y1="163.5" x2="191.7" y2="164.7" stroke="#666" stroke-width="0.5" />
<text x="191.7" y="169.1" font-size="3.4" font-weight="bold" text-anchor="middle" fill="#666">10000</text>
<line x1="206.88" y1="163.5" x2="206.88" y2="164.7" stroke="#666" stroke-width="0.5" />
<text x="206.88" y="169.1" font-size="3.4" font-weight="bold" text-anchor="middle" fill="#666">10<tspan font-size="2.5" dy="-1.2">5</tspan></text>
<line x1="144.3" y1="106.17" x2="145.5" y2="106.17" stroke="#666" stroke-width="0.5" />
<text x="143.7" y="107.37" font-size="3.4" font-weight="bold" text-anchor="end" fill="#666">10<tspan font-size="2.5" dy="-1.2">5</tspan></text>
<line x1="144.3" y1="120.66" x2="145.5" y2="120.66" stroke="#666" stroke-width="0.5" />
<text x="143.7" y="121.86" font-size="3.4" font-weight="bold" text-anchor="end" fill="#666">10000</text>
<line x1="144.3" y1="135.15" x2="145.5" y2="135.15" stroke="#666" stroke-width="0.5" />
<text x="143.7" y="136.35" font-size="3.4" font-weight="bold" text-anchor="end" fill="#666">1000</text>
<line x1="144.3" y1="150.27" x2="145.5" y2="150.27" stroke="#666" stroke-width="0.5" />
<text x="143.7" y="151.47" font-size="3.4" font-weight="bold" text-anchor="end" fill="#666">100</text>
<line x1="144.3" y1="157.2" x2="145.5" y2="157.2" stroke="#666" stroke-width="0.5" />
<text x="143.7" y="158.4" font-size="3.4" font-weight="bold" text-anchor="end" fill="#666">0</text>
<rect x="251.5" y="100.5" width="66" height="63" fill="none" stroke="#555" stroke-width="0.8"/>
<line x1="259.09" y1="163.5" x2="259.09" y2="164.7" stroke="#666" stroke-width="0.5" />
<text x="259.09" y="169.1" font-size="3.4" font-weight="bold" text-anchor="middle" fill="#666">0</text>
<line x1="264.7" y1="163.5" x2="264.7" y2="164.7" stroke="#666" stroke-width="0.5" />
<text x="264.7" y="169.1" font-size="3.4" font-weight="bold" text-anchor="middle" fill="#666">100</text>
<line x1="282.52" y1="163.5" x2="282.52" y2="164.7" stroke="#666" stroke-width="0.5" />
<text x="282.52" y="169.1" font-size="3.4" font-weight="bold" text-anchor="middle" fill="#666">1000</text>
<line x1="297.7" y1="163.5" x2="297.7" y2="164.7" stroke="#666" stroke-width="0.5" />
<text x="297.7" y="169.1" font-size="3.4" font-weight="bold" text-anchor="middle" fill="#666">10000</text>
<line x1="312.88" y1="163.5" x2="312.88" y2="164.7" stroke="#666" stroke-width="0.5" />
<text x="312.88" y="169.1" font-size="3.4" font-weight="bold" text-anchor="middle" fill="#666">10<tspan font-size="2.5" dy="-1.2">5</tspan></text>
<line x1="250.3" y1="106.17" x2="251.5" y2="106.17" stroke="#666" stroke-width="0.5" />
<text x="249.7" y="107.37" font-size="3.4" font-weight="bold" text-anchor="end" fill="#666">10<tspan font-size="2.5" dy="-1.2">5</tspan></text>
<line x1="250.3" y1="120.66" x2="251.5" y2="120.66" stroke="#666" stroke-width="0.5" />
<text x="249.7" y="121.86" font-size="3.4" font-weight="bold" text-anchor="end" fill="#666">10000</text>
<line x1="250.3" y1="135.15" x2="251.5" y2="135.15" stroke="#666" stroke-width="0.5" />
<text x="249.7" y="136.35" font-size="3.4" font-weight="bold" text-anchor="end" fill="#666">1000</text>
<line x1="250.3" y1="150.27" x2="251.5" y2="150.27" stroke="#666" stroke-width="0.5" />
<text x="249.7" y="151.47" font-size="3.4" font-weight="bold" text-anchor="end" fill="#666">100</text>
<line x1="250.3" y1="157.2" x2="251.5" y2="157.2" stroke="#666" stroke-width="0.5" />
<text x="249.7" y="158.4" font-size="3.4" font-weight="bold" text-anchor="end" fill="#666">0</text>
<rect x="42.5" y="221.5" width="64" height="64" fill="none" stroke="#555" stroke-width="0.8"/>
<line x1="49.86" y1="285.5" x2="49.86" y2="286.7" stroke="#666" stroke-width="0.5" />
<text x="49.86" y="291.1" font-size="3.4" font-weight="bold" text-anchor="middle" fill="#666">0</text>
<line x1="55.3" y1="285.5" x2="55.3" y2="286.7" stroke="#666" stroke-width="0.5" />
<text x="55.3" y="291.1" font-size="3.4" font-weight="bold" text-anchor="middle" fill="#666">100</text>
<line x1="72.58" y1="285.5" x2="72.58" y2="286.7" stroke="#666" stroke-width="0.5" />
<text x="72.58" y="291.1" font-size="3.4" font-weight="bold" text-anchor="middle" fill="#666">1000</text>
<line x1="87.3" y1="285.5" x2="87.3" y2="286.7" stroke="#666" stroke-width="0.5" />
<text x="87.3" y="291.1" font-size="3.4" font-weight="bold" text-anchor="middle" fill="#666">10000</text>
<line x1="102.02" y1="285.5" x2="102.02" y2="286.7" stroke="#666" stroke-width="0.5" />
<text x="102.02" y="291.1" font-size="3.4" font-weight="bold" text-anchor="middle" fill="#666">10<tspan font-size="2.5" dy="-1.2">5</tspan></text>
<line x1="41.3" y1="221.5" x2="42.5" y2="221.5" stroke="#666" stroke-width="0.5" />
<text x="40.7" y="222.7" font-size="3.4" font-weight="bold" text-anchor="end" fill="#666">4000</text>
<line x1="41.3" y1="237.5" x2="42.5" y2="237.5" stroke="#666" stroke-width="0.5" />
<text x="40.7" y="238.7" font-size="3.4" font-weight="bold" text-anchor="end" fill="#666">3000</text>
<line x1="41.3" y1="253.5" x2="42.5" y2="253.5" stroke="#666" stroke-width="0.5" />
<text x="40.7" y="254.7" font-size="3.4" font-weight="bold" text-anchor="end" fill="#666">2000</text>
<line x1="41.3" y1="269.5" x2="42.5" y2="269.5" stroke="#666" stroke-width="0.5" />
<text x="40.7" y="270.7" font-size="3.4" font-weight="bold" text-anchor="end" fill="#666">1000</text>
<line x1="41.3" y1="285.5" x2="42.5" y2="285.5" stroke="#666" stroke-width="0.5" />
<text x="40.7" y="286.7" font-size="3.4" font-weight="bold" text-anchor="end" fill="#666">0</text>
<rect x="142.5" y="221.5" width="66" height="65" fill="none" stroke="#555" stroke-width="0.8"/>
<line x1="150.09" y1="286.5" x2="150.09" y2="287.7" stroke="#666" stroke-width="0.5" />
<text x="150.09" y="292.1" font-size="3.4" font-weight="bold" text-anchor="middle" fill="#666">0</text>
<line x1="155.7" y1="286.5" x2="155.7" y2="287.7" stroke="#666" stroke-width="0.5" />
<text x="155.7" y="292.1" font-size="3.4" font-weight="bold" text-anchor="middle" fill="#666">100</text>
<line x1="173.52" y1="286.5" x2="173.52" y2="287.7" stroke="#666" stroke-width="0.5" />
<text x="173.52" y="292.1" font-size="3.4" font-weight="bold" text-anchor="middle" fill="#666">1000</text>
<line x1="188.7" y1="286.5" x2="188.7" y2="287.7" stroke="#666" stroke-width="0.5" />
<text x="188.7" y="292.1" font-size="3.4" font-weight="bold" text-anchor="middle" fill="#666">10000</text>
<line x1="203.88" y1="286.5" x2="203.88" y2="287.7" stroke="#666" stroke-width="0.5" />
<text x="203.88" y="292.1" font-size="3.4" font-weight="bold" text-anchor="middle" fill="#666">10<tspan font-size="2.5" dy="-1.2">5</tspan></text>
<line x1="141.3" y1="227.35" x2="142.5" y2="227.35" stroke="#666" stroke-width="0.5" />
<text x="140.7" y="228.55" font-size="3.4" font-weight="bold" text-anchor="end" fill="#666">10<tspan font-size="2.5" dy="-1.2">5</tspan></text>
<line x1="141.3" y1="242.3" x2="142.5" y2="242.3" stroke="#666" stroke-width="0.5" />
<text x="140.7" y="243.5" font-size="3.4" font-weight="bold" text-anchor="end" fill="#666">10000</text>
<line x1="141.3" y1="257.25" x2="142.5" y2="257.25" stroke="#666" stroke-width="0.5" />
<text x="140.7" y="258.45" font-size="3.4" font-weight="bold" text-anchor="end" fill="#666">1000</text>
<line x1="141.3" y1="272.85" x2="142.5" y2="272.85" stroke="#666" stroke-width="0.5" />
<text x="140.7" y="274.05" font-size="3.4" font-weight="bold" text-anchor="end" fill="#666">100</text>
<line x1="141.3" y1="280" x2="142.5" y2="280" stroke="#666" stroke-width="0.5" />
<text x="140.7" y="281.2" font-size="3.4" font-weight="bold" text-anchor="end" fill="#666">0</text>
<rect x="244.5" y="221.5" width="64" height="64" fill="none" stroke="#555" stroke-width="0.8"/>
<line x1="251.86" y1="285.5" x2="251.86" y2="286.7" stroke="#666" stroke-width="0.5" />
<text x="251.86" y="291.1" font-size="3.4" font-weight="bold" text-anchor="middle" fill="#666">0</text>
<line x1="257.3" y1="285.5" x2="257.3" y2="286.7" stroke="#666" stroke-width="0.5" />
<text x="257.3" y="291.1" font-size="3.4" font-weight="bold" text-anchor="middle" fill="#666">100</text>
<line x1="274.58" y1="285.5" x2="274.58" y2="286.7" stroke="#666" stroke-width="0.5" />
<text x="274.58" y="291.1" font-size="3.4" font-weight="bold" text-anchor="middle" fill="#666">1000</text>
<line x1="289.3" y1="285.5" x2="289.3" y2="286.7" stroke="#666" stroke-width="0.5" />
<text x="289.3" y="291.1" font-size="3.4" font-weight="bold" text-anchor="middle" fill="#666">10000</text>
<line x1="304.02" y1="285.5" x2="304.02" y2="286.7" stroke="#666" stroke-width="0.5" />
<text x="304.02" y="291.1" font-size="3.4" font-weight="bold" text-anchor="middle" fill="#666">10<tspan font-size="2.5" dy="-1.2">5</tspan></text>
<line x1="243.3" y1="221.5" x2="244.5" y2="221.5" stroke="#666" stroke-width="0.5" />
<text x="242.7" y="222.7" font-size="3.4" font-weight="bold" text-anchor="end" fill="#666">4000</text>
<line x1="243.3" y1="237.5" x2="244.5" y2="237.5" stroke="#666" stroke-width="0.5" />
<text x="242.7" y="238.7" font-size="3.4" font-weight="bold" text-anchor="end" fill="#666">3000</text>
<line x1="243.3" y1="253.5" x2="244.5" y2="253.5" stroke="#666" stroke-width="0.5" />
<text x="242.7" y="254.7" font-size="3.4" font-weight="bold" text-anchor="end" fill="#666">2000</text>
<line x1="243.3" y1="269.5" x2="244.5" y2="269.5" stroke="#666" stroke-width="0.5" />
<text x="242.7" y="270.7" font-size="3.4" font-weight="bold" text-anchor="end" fill="#666">1000</text>
<line x1="243.3" y1="285.5" x2="244.5" y2="285.5" stroke="#666" stroke-width="0.5" />
<text x="242.7" y="286.7" font-size="3.4" font-weight="bold" text-anchor="end" fill="#666">0</text>
<rect x="346.5" y="220.5" width="65" height="66" fill="none" stroke="#555" stroke-width="0.8"/>
<line x1="353.98" y1="286.5" x2="353.98" y2="287.7" stroke="#666" stroke-width="0.5" />
<text x="353.98" y="292.1" font-size="3.4" font-weight="bold" text-anchor="middle" fill="#666">0</text>
<line x1="359.5" y1="286.5" x2="359.5" y2="287.7" stroke="#666" stroke-width="0.5" />
<text x="359.5" y="292.1" font-size="3.4" font-weight="bold" text-anchor="middle" fill="#666">100</text>
<line x1="377.05" y1="286.5" x2="377.05" y2="287.7" stroke="#666" stroke-width="0.5" />
<text x="377.05" y="292.1" font-size="3.4" font-weight="bold" text-anchor="middle" fill="#666">1000</text>
<line x1="392" y1="286.5" x2="392" y2="287.7" stroke="#666" stroke-width="0.5" />
<text x="392" y="292.1" font-size="3.4" font-weight="bold" text-anchor="middle" fill="#666">10000</text>
<line x1="406.95" y1="286.5" x2="406.95" y2="287.7" stroke="#666" stroke-width="0.5" />
<text x="406.95" y="292.1" font-size="3.4" font-weight="bold" text-anchor="middle" fill="#666">10<tspan font-size="2.5" dy="-1.2">5</tspan></text>
<line x1="345.3" y1="226.44" x2="346.5" y2="226.44" stroke="#666" stroke-width="0.5" />
<text x="344.7" y="227.64" font-size="3.4" font-weight="bold" text-anchor="end" fill="#666">10<tspan font-size="2.5" dy="-1.2">5</tspan></text>
<line x1="345.3" y1="241.62" x2="346.5" y2="241.62" stroke="#666" stroke-width="0.5" />
<text x="344.7" y="242.82" font-size="3.4" font-weight="bold" text-anchor="end" fill="#666">10000</text>
<line x1="345.3" y1="256.8" x2="346.5" y2="256.8" stroke="#666" stroke-width="0.5" />
<text x="344.7" y="258" font-size="3.4" font-weight="bold" text-anchor="end" fill="#666">1000</text>
<line x1="345.3" y1="272.64" x2="346.5" y2="272.64" stroke="#666" stroke-width="0.5" />
<text x="344.7" y="273.84" font-size="3.4" font-weight="bold" text-anchor="end" fill="#666">100</text>
<line x1="345.3" y1="279.9" x2="346.5" y2="279.9" stroke="#666" stroke-width="0.5" />
<text x="344.7" y="281.1" font-size="3.4" font-weight="bold" text-anchor="end" fill="#666">0</text>
<rect x="42.5" y="300.5" width="64" height="64" fill="none" stroke="#555" stroke-width="0.8"/>
<line x1="49.86" y1="364.5" x2="49.86" y2="365.7" stroke="#666" stroke-width="0.5" />
<text x="49.86" y="370.1" font-size="3.4" font-weight="bold" text-anchor="middle" fill="#666">0</text>
<line x1="55.3" y1="364.5" x2="55.3" y2="365.7" stroke="#666" stroke-width="0.5" />
<text x="55.3" y="370.1" font-size="3.4" font-weight="bold" text-anchor="middle" fill="#666">100</text>
<line x1="72.58" y1="364.5" x2="72.58" y2="365.7" stroke="#666" stroke-width="0.5" />
<text x="72.58" y="370.1" font-size="3.4" font-weight="bold" text-anchor="middle" fill="#666">1000</text>
<line x1="87.3" y1="364.5" x2="87.3" y2="365.7" stroke="#666" stroke-width="0.5" />
<text x="87.3" y="370.1" font-size="3.4" font-weight="bold" text-anchor="middle" fill="#666">10000</text>
<line x1="102.02" y1="364.5" x2="102.02" y2="365.7" stroke="#666" stroke-width="0.5" />
<text x="102.02" y="370.1" font-size="3.4" font-weight="bold" text-anchor="middle" fill="#666">10<tspan font-size="2.5" dy="-1.2">5</tspan></text>
<line x1="41.3" y1="300.5" x2="42.5" y2="300.5" stroke="#666" stroke-width="0.5" />
<text x="40.7" y="301.7" font-size="3.4" font-weight="bold" text-anchor="end" fill="#666">4000</text>
<line x1="41.3" y1="316.5" x2="42.5" y2="316.5" stroke="#666" stroke-width="0.5" />
<text x="40.7" y="317.7" font-size="3.4" font-weight="bold" text-anchor="end" fill="#666">3000</text>
<line x1="41.3" y1="332.5" x2="42.5" y2="332.5" stroke="#666" stroke-width="0.5" />
<text x="40.7" y="333.7" font-size="3.4" font-weight="bold" text-anchor="end" fill="#666">2000</text>
<line x1="41.3" y1="348.5" x2="42.5" y2="348.5" stroke="#666" stroke-width="0.5" />
<text x="40.7" y="349.7" font-size="3.4" font-weight="bold" text-anchor="end" fill="#666">1000</text>
<line x1="41.3" y1="364.5" x2="42.5" y2="364.5" stroke="#666" stroke-width="0.5" />
<text x="40.7" y="365.7" font-size="3.4" font-weight="bold" text-anchor="end" fill="#666">0</text>
<rect x="142.5" y="300.5" width="66" height="65" fill="none" stroke="#555" stroke-width="0.8"/>
<line x1="150.09" y1="365.5" x2="150.09" y2="366.7" stroke="#666" stroke-width="0.5" />
<text x="150.09" y="371.1" font-size="3.4" font-weight="bold" text-anchor="middle" fill="#666">0</text>
<line x1="155.7" y1="365.5" x2="155.7" y2="366.7" stroke="#666" stroke-width="0.5" />
<text x="155.7" y="371.1" font-size="3.4" font-weight="bold" text-anchor="middle" fill="#666">100</text>
<line x1="173.52" y1="365.5" x2="173.52" y2="366.7" stroke="#666" stroke-width="0.5" />
<text x="173.52" y="371.1" font-size="3.4" font-weight="bold" text-anchor="middle" fill="#666">1000</text>
<line x1="188.7" y1="365.5" x2="188.7" y2="366.7" stroke="#666" stroke-width="0.5" />
<text x="188.7" y="371.1" font-size="3.4" font-weight="bold" text-anchor="middle" fill="#666">10000</text>
<line x1="203.88" y1="365.5" x2="203.88" y2="366.7" stroke="#666" stroke-width="0.5" />
<text x="203.88" y="371.1" font-size="3.4" font-weight="bold" text-anchor="middle" fill="#666">10<tspan font-size="2.5" dy="-1.2">5</tspan></text>
<line x1="141.3" y1="306.35" x2="142.5" y2="306.35" stroke="#666" stroke-width="0.5" />
<text x="140.7" y="307.55" font-size="3.4" font-weight="bold" text-anchor="end" fill="#666">10<tspan font-size="2.5" dy="-1.2">5</tspan></text>
<line x1="141.3" y1="321.3" x2="142.5" y2="321.3" stroke="#666" stroke-width="0.5" />
<text x="140.7" y="322.5" font-size="3.4" font-weight="bold" text-anchor="end" fill="#666">10000</text>
<line x1="141.3" y1="336.25" x2="142.5" y2="336.25" stroke="#666" stroke-width="0.5" />
<text x="140.7" y="337.45" font-size="3.4" font-weight="bold" text-anchor="end" fill="#666">1000</text>
<line x1="141.3" y1="351.85" x2="142.5" y2="351.85" stroke="#666" stroke-width="0.5" />
<text x="140.7" y="353.05" font-size="3.4" font-weight="bold" text-anchor="end" fill="#666">100</text>
<line x1="141.3" y1="359" x2="142.5" y2="359" stroke="#666" stroke-width="0.5" />
<text x="140.7" y="360.2" font-size="3.4" font-weight="bold" text-anchor="end" fill="#666">0</text>
<rect x="244.5" y="300.5" width="64" height="64" fill="none" stroke="#555" stroke-width="0.8"/>
<line x1="251.86" y1="364.5" x2="251.86" y2="365.7" stroke="#666" stroke-width="0.5" />
<text x="251.86" y="370.1" font-size="3.4" font-weight="bold" text-anchor="middle" fill="#666">0</text>
<line x1="257.3" y1="364.5" x2="257.3" y2="365.7" stroke="#666" stroke-width="0.5" />
<text x="257.3" y="370.1" font-size="3.4" font-weight="bold" text-anchor="middle" fill="#666">100</text>
<line x1="274.58" y1="364.5" x2="274.58" y2="365.7" stroke="#666" stroke-width="0.5" />
<text x="274.58" y="370.1" font-size="3.4" font-weight="bold" text-anchor="middle" fill="#666">1000</text>
<line x1="289.3" y1="364.5" x2="289.3" y2="365.7" stroke="#666" stroke-width="0.5" />
<text x="289.3" y="370.1" font-size="3.4" font-weight="bold" text-anchor="middle" fill="#666">10000</text>
<line x1="304.02" y1="364.5" x2="304.02" y2="365.7" stroke="#666" stroke-width="0.5" />
<text x="304.02" y="370.1" font-size="3.4" font-weight="bold" text-anchor="middle" fill="#666">10<tspan font-size="2.5" dy="-1.2">5</tspan></text>
<line x1="243.3" y1="300.5" x2="244.5" y2="300.5" stroke="#666" stroke-width="0.5" />
<text x="242.7" y="301.7" font-size="3.4" font-weight="bold" text-anchor="end" fill="#666">4000</text>
<line x1="243.3" y1="316.5" x2="244.5" y2="316.5" stroke="#666" stroke-width="0.5" />
<text x="242.7" y="317.7" font-size="3.4" font-weight="bold" text-anchor="end" fill="#666">3000</text>
<line x1="243.3" y1="332.5" x2="244.5" y2="332.5" stroke="#666" stroke-width="0.5" />
<text x="242.7" y="333.7" font-size="3.4" font-weight="bold" text-anchor="end" fill="#666">2000</text>
<line x1="243.3" y1="348.5" x2="244.5" y2="348.5" stroke="#666" stroke-width="0.5" />
<text x="242.7" y="349.7" font-size="3.4" font-weight="bold" text-anchor="end" fill="#666">1000</text>
<line x1="243.3" y1="364.5" x2="244.5" y2="364.5" stroke="#666" stroke-width="0.5" />
<text x="242.7" y="365.7" font-size="3.4" font-weight="bold" text-anchor="end" fill="#666">0</text>
<rect x="346.5" y="299.5" width="65" height="66" fill="none" stroke="#555" stroke-width="0.8"/>
<line x1="353.98" y1="365.5" x2="353.98" y2="366.7" stroke="#666" stroke-width="0.5" />
<text x="353.98" y="371.1" font-size="3.4" font-weight="bold" text-anchor="middle" fill="#666">0</text>
<line x1="359.5" y1="365.5" x2="359.5" y2="366.7" stroke="#666" stroke-width="0.5" />
<text x="359.5" y="371.1" font-size="3.4" font-weight="bold" text-anchor="middle" fill="#666">100</text>
<line x1="377.05" y1="365.5" x2="377.05" y2="366.7" stroke="#666" stroke-width="0.5" />
<text x="377.05" y="371.1" font-size="3.4" font-weight="bold" text-anchor="middle" fill="#666">1000</text>
<line x1="392" y1="365.5" x2="392" y2="366.7" stroke="#666" stroke-width="0.5" />
<text x="392" y="371.1" font-size="3.4" font-weight="bold" text-anchor="middle" fill="#666">10000</text>
<line x1="406.95" y1="365.5" x2="406.95" y2="366.7" stroke="#666" stroke-width="0.5" />
<text x="406.95" y="371.1" font-size="3.4" font-weight="bold" text-anchor="middle" fill="#666">10<tspan font-size="2.5" dy="-1.2">5</tspan></text>
<line x1="345.3" y1="305.44" x2="346.5" y2="305.44" stroke="#666" stroke-width="0.5" />
<text x="344.7" y="306.64" font-size="3.4" font-weight="bold" text-anchor="end" fill="#666">10<tspan font-size="2.5" dy="-1.2">5</tspan></text>
<line x1="345.3" y1="320.62" x2="346.5" y2="320.62" stroke="#666" stroke-width="0.5" />
<text x="344.7" y="321.82" font-size="3.4" font-weight="bold" text-anchor="end" fill="#666">10000</text>
<line x1="345.3" y1="335.8" x2="346.5" y2="335.8" stroke="#666" stroke-width="0.5" />
<text x="344.7" y="337" font-size="3.4" font-weight="bold" text-anchor="end" fill="#666">1000</text>
<line x1="345.3" y1="351.64" x2="346.5" y2="351.64" stroke="#666" stroke-width="0.5" />
<text x="344.7" y="352.84" font-size="3.4" font-weight="bold" text-anchor="end" fill="#666">100</text>
<line x1="345.3" y1="358.9" x2="346.5" y2="358.9" stroke="#666" stroke-width="0.5" />
<text x="344.7" y="360.1" font-size="3.4" font-weight="bold" text-anchor="end" fill="#666">0</text>
<text x="73.7" y="39.6" font-size="9.2" font-weight="normal" text-anchor="start" fill="#000" >93</text>
<text x="74.7" y="134" font-size="9.2" font-weight="normal" text-anchor="start" fill="#000" >2.4</text>
<text x="151.6" y="29.4" font-size="9.2" font-weight="normal" text-anchor="start" fill="#000" >42</text>
<text x="199" y="74.2" font-size="9.2" font-weight="normal" text-anchor="start" fill="#000" >44</text>
<text x="148.5" y="110.5" font-size="9.2" font-weight="normal" text-anchor="start" fill="#000" >0</text>
<text x="189.8" y="154.8" font-size="9.2" font-weight="normal" text-anchor="start" fill="#000" >44</text>
<text x="255.9" y="28.5" font-size="9.2" font-weight="normal" text-anchor="start" fill="#000" >15</text>
<text x="304" y="28.5" font-size="9.2" font-weight="normal" text-anchor="start" fill="#000" >5</text>
<text x="254.2" y="111.2" font-size="9.2" font-weight="normal" text-anchor="start" fill="#000" >0</text>
<text x="296.5" y="111.2" font-size="9.2" font-weight="normal" text-anchor="start" fill="#000" >43.8</text>
<text x="85" y="237.4" font-size="9.2" font-weight="normal" text-anchor="start" fill="#000" >96</text>
<text x="85" y="314.7" font-size="9.2" font-weight="normal" text-anchor="start" fill="#000" >3.9</text>
<text x="144.8" y="231.6" font-size="9.2" font-weight="normal" text-anchor="start" fill="#000" >37.4</text>
<text x="193.3" y="231.6" font-size="9.2" font-weight="normal" text-anchor="start" fill="#000" >1.3</text>
<text x="143.9" y="310.6" font-size="9.2" font-weight="normal" text-anchor="start" fill="#000" >34.3</text>
<text x="185" y="310.6" font-size="9.2" font-weight="normal" text-anchor="start" fill="#000" >20.7</text>
<text x="295.4" y="231.2" font-size="9.2" font-weight="normal" text-anchor="start" fill="#000" >38</text>
<text x="292" y="312" font-size="9.2" font-weight="normal" text-anchor="start" fill="#000" >35</text>
<text x="396" y="233" font-size="8.6" font-weight="normal" text-anchor="start" fill="#000" >3.9</text>
<text x="390.7" y="310.6" font-size="8.6" font-weight="normal" text-anchor="start" fill="#000" >34.3</text>
<line x1="19.8" y1="23" x2="19.8" y2="121.4" stroke="#000" stroke-width="1.4" />
<path d="M19.8 17L16.4 23.5L23.2 23.5Z"/>
<text x="0" y="0" font-size="10.5" font-weight="bold" text-anchor="middle" fill="#000" class="b" transform="translate(24.3,145) rotate(-90)">CD45.2</text>
<line x1="127.2" y1="25.5" x2="127.2" y2="123.8" stroke="#000" stroke-width="1.4" />
<path d="M127.2 19.5L123.8 26L130.6 26Z"/>
<text x="0" y="0" font-size="10.5" font-weight="bold" text-anchor="middle" fill="#000" class="b" transform="translate(133.6,150) rotate(-90)">CD19</text>
<line x1="232.3" y1="23.3" x2="232.3" y2="122" stroke="#000" stroke-width="1.4" />
<path d="M232.3 17.3L228.9 23.8L235.7 23.8Z"/>
<text x="0" y="0" font-size="10.5" font-weight="bold" text-anchor="middle" fill="#000" class="b" transform="translate(236.4,146.4) rotate(-90)">Mac-1</text>
<line x1="21" y1="222" x2="21" y2="332.5" stroke="#000" stroke-width="1.4" />
<path d="M21 216L17.6 222.5L24.4 222.5Z"/>
<text x="0" y="0" font-size="10.5" font-weight="bold" text-anchor="middle" fill="#000" class="b" transform="translate(26,351.5) rotate(-90)">FSC</text>
<line x1="125" y1="222" x2="125" y2="331" stroke="#000" stroke-width="1.4" />
<path d="M125 216L121.6 222.5L128.4 222.5Z"/>
<text x="0" y="0" font-size="10.5" font-weight="bold" text-anchor="middle" fill="#000" class="b" transform="translate(130,349.5) rotate(-90)">CD3</text>
<line x1="224" y1="222" x2="224" y2="332" stroke="#000" stroke-width="1.4" />
<path d="M224 216L220.6 222.5L227.4 222.5Z"/>
<text x="0" y="0" font-size="10.5" font-weight="bold" text-anchor="middle" fill="#000" class="b" transform="translate(226.5,351) rotate(-90)">FSC</text>
<line x1="324.6" y1="222" x2="324.6" y2="331" stroke="#000" stroke-width="1.4" />
<path d="M324.6 216L321.2 222.5L328 222.5Z"/>
<text x="0" y="0" font-size="10.5" font-weight="bold" text-anchor="middle" fill="#000" class="b" transform="translate(331,349) rotate(-90)">DX5</text>
<text x="37.7" y="186.7" font-size="10.5" font-weight="bold" text-anchor="start" fill="#000" class="b" >CD45.1</text>
<line x1="81" y1="181.5" x2="105.7" y2="181.5" stroke="#000" stroke-width="1.4" />
<path d="M111.7 181.5L105.2 178.3L105.2 184.7Z"/>
<text x="139.5" y="185.5" font-size="10.5" font-weight="bold" text-anchor="start" fill="#000" class="b" >CD4/CD8</text>
<line x1="188.7" y1="182" x2="208" y2="182" stroke="#000" stroke-width="1.4" />
<path d="M214 182L207.5 178.8L207.5 185.2Z"/>
<text x="253" y="185.4" font-size="10.5" font-weight="bold" text-anchor="start" fill="#000" class="b" >NK1.1</text>
<line x1="285" y1="181.4" x2="309" y2="181.4" stroke="#000" stroke-width="1.4" />
<path d="M315 181.4L308.5 178.2L308.5 184.6Z"/>
<text x="36" y="387.5" font-size="10.5" font-weight="bold" text-anchor="start" fill="#000" class="b" >CD45.1</text>
<line x1="75" y1="383" x2="97" y2="383" stroke="#000" stroke-width="1.4" />
<path d="M103 383L96.5 379.8L96.5 386.2Z"/>
<text x="141.5" y="387" font-size="10.5" font-weight="bold" text-anchor="start" fill="#000" class="b" >NK1.1</text>
<line x1="175.4" y1="383" x2="199.5" y2="383" stroke="#000" stroke-width="1.4" />
<path d="M205.5 383L199 379.8L199 386.2Z"/>
<text x="233" y="387" font-size="10.5" font-weight="bold" text-anchor="start" fill="#000" class="b" >CD4/CD8</text>
<line x1="283.8" y1="383" x2="309" y2="383" stroke="#000" stroke-width="1.4" />
<path d="M315 383L308.5 379.8L308.5 386.2Z"/>
<text x="345" y="387" font-size="10.5" font-weight="bold" text-anchor="start" fill="#000" class="b" >NK1.1</text>
<line x1="379.6" y1="384" x2="404.5" y2="384" stroke="#000" stroke-width="1.4" />
<path d="M410.5 384L404 380.8L404 387.2Z"/>
<line x1="87.6" y1="73.8" x2="113.6" y2="73.8" stroke="#000" stroke-width="1.4" />
<path d="M119.6 73.8L113.1 70.6L113.1 77Z"/>
<line x1="88.5" y1="153.1" x2="115" y2="153.1" stroke="#000" stroke-width="1.4" />
<path d="M121 153.1L114.5 149.9L114.5 156.3Z"/>
<line x1="96" y1="259.8" x2="114" y2="259.8" stroke="#000" stroke-width="1.4" />
<path d="M120 259.8L113.5 256.6L113.5 263Z"/>
<line x1="93.3" y1="333.2" x2="113.5" y2="333.2" stroke="#000" stroke-width="1.4" />
<path d="M119.5 333.2L113 330L113 336.4Z"/>
<line x1="62.8" y1="407.1" x2="62.8" y2="523.2" stroke="#000" stroke-width="1.1" />
<line x1="60.6" y1="407.6" x2="62.8" y2="407.6" stroke="#000" stroke-width="0.9" />
<text x="60.2" y="409.83" font-size="6.2" font-weight="bold" text-anchor="end" fill="#000" class="b" >1000</text>
<line x1="60.6" y1="430.6" x2="62.8" y2="430.6" stroke="#000" stroke-width="0.9" />
<text x="60.2" y="432.83" font-size="6.2" font-weight="bold" text-anchor="end" fill="#000" class="b" >100</text>
<line x1="60.6" y1="453.6" x2="62.8" y2="453.6" stroke="#000" stroke-width="0.9" />
<text x="60.2" y="455.83" font-size="6.2" font-weight="bold" text-anchor="end" fill="#000" class="b" >10</text>
<line x1="60.6" y1="476.6" x2="62.8" y2="476.6" stroke="#000" stroke-width="0.9" />
<text x="60.2" y="478.83" font-size="6.2" font-weight="bold" text-anchor="end" fill="#000" class="b" >1</text>
<line x1="60.6" y1="499.6" x2="62.8" y2="499.6" stroke="#000" stroke-width="0.9" />
<text x="60.2" y="501.83" font-size="6.2" font-weight="bold" text-anchor="end" fill="#000" class="b" >0.1</text>
<line x1="60.6" y1="522.6" x2="62.8" y2="522.6" stroke="#000" stroke-width="0.9" />
<text x="60.2" y="524.83" font-size="6.2" font-weight="bold" text-anchor="end" fill="#000" class="b" >0.01</text>
<line x1="62.3" y1="522.6" x2="216.5" y2="522.6" stroke="#000" stroke-width="1.1" />
<text x="0" y="0" font-size="10.6" font-weight="bold" text-anchor="middle" fill="#000" class="b" transform="translate(34.4,462.7) rotate(-90)">Total cells x10<tspan baseline-shift="super" font-size="72%">3</tspan> /mL PB</text>
<text x="73.5" y="413" font-size="9.3" font-weight="normal" text-anchor="middle" fill="#000" >3/4</text>
<text x="99.2" y="413" font-size="9.3" font-weight="normal" text-anchor="middle" fill="#000" >3/4</text>
<text x="125" y="413" font-size="9.3" font-weight="normal" text-anchor="middle" fill="#000" >8/8</text>
<text x="150.6" y="413" font-size="9.3" font-weight="normal" text-anchor="middle" fill="#000" >7/8</text>
<text x="176.3" y="413" font-size="9.3" font-weight="normal" text-anchor="middle" fill="#000" >4/4</text>
<text x="202" y="413" font-size="9.3" font-weight="normal" text-anchor="middle" fill="#000" >4/4</text>
<circle cx="69.4" cy="444" r="1.9"/>
<circle cx="75.3" cy="444.7" r="1.9"/>
<circle cx="75.3" cy="464.3" r="1.9"/>
<line x1="66.8" y1="450.8" x2="84.1" y2="450.8" stroke="#888" stroke-width="1.2" />
<circle cx="100.5" cy="448" r="1.9"/>
<circle cx="100.5" cy="457" r="1.9"/>
<circle cx="100.5" cy="472.5" r="1.9"/>
<line x1="92.3" y1="458" x2="109.6" y2="458" stroke="#111" stroke-width="1.1" />
<circle cx="120" cy="421" r="1.6" fill="none" stroke="#000" stroke-width="0.95"/>
<circle cx="126.6" cy="426.7" r="1.6" fill="none" stroke="#000" stroke-width="0.95"/>
<circle cx="126.6" cy="438.5" r="1.6" fill="none" stroke="#000" stroke-width="0.95"/>
<circle cx="126.6" cy="452.9" r="1.6" fill="none" stroke="#000" stroke-width="0.95"/>
<circle cx="126.6" cy="460.4" r="1.6" fill="none" stroke="#000" stroke-width="0.95"/>
<circle cx="120" cy="466" r="1.6" fill="none" stroke="#000" stroke-width="0.95"/>
<circle cx="126.6" cy="470.2" r="1.6" fill="none" stroke="#000" stroke-width="0.95"/>
<circle cx="126.6" cy="499.6" r="1.6" fill="none" stroke="#000" stroke-width="0.95"/>
<line x1="118.5" y1="436.2" x2="135.5" y2="436.2" stroke="#666" stroke-width="1.2" />
<circle cx="146.2" cy="438.5" r="1.6" fill="none" stroke="#000" stroke-width="0.95"/>
<circle cx="152.1" cy="438.5" r="1.6" fill="none" stroke="#000" stroke-width="0.95"/>
<circle cx="152.1" cy="465.3" r="1.6" fill="none" stroke="#000" stroke-width="0.95"/>
<circle cx="152.1" cy="475" r="1.6" fill="none" stroke="#000" stroke-width="0.95"/>
<circle cx="152.1" cy="485.5" r="1.6" fill="none" stroke="#000" stroke-width="0.95"/>
<circle cx="146.2" cy="488.2" r="1.6" fill="none" stroke="#000" stroke-width="0.95"/>
<circle cx="152.1" cy="492.4" r="1.6" fill="none" stroke="#000" stroke-width="0.95"/>
<circle cx="152.1" cy="522.5" r="1.6" fill="none" stroke="#000" stroke-width="0.95"/>
<line x1="144" y1="452.2" x2="161" y2="452.2" stroke="#888" stroke-width="1.2" />
<path d="M171.8 429.9L169.5 432.2L171.8 434.5L174.1 432.2Z"/>
<path d="M177.5 433L175.2 435.3L177.5 437.6L179.8 435.3Z"/>
<path d="M183.2 428.4L180.9 430.7L183.2 433L185.5 430.7Z"/>
<path d="M177.5 441.5L175.2 443.8L177.5 446.1L179.8 443.8Z"/>
<line x1="169" y1="434.3" x2="186.4" y2="434.3" stroke="#000" stroke-width="1.1" />
<path d="M197 444.2L194.7 446.5L197 448.8L199.3 446.5Z"/>
<path d="M202.9 447.8L200.6 450.1L202.9 452.4L205.2 450.1Z"/>
<path d="M206 441.5L203.7 443.8L206 446.1L208.3 443.8Z"/>
<path d="M209.2 445.3L206.9 447.6L209.2 449.9L211.5 447.6Z"/>
<line x1="195" y1="447" x2="211.8" y2="447" stroke="#000" stroke-width="1.1" />
<text transform="translate(77.3,530.5) rotate(-45)" font-size="9.374" font-weight="bold" class="b" text-anchor="end">Day 14 CD45.1<tspan baseline-shift="super" font-size="58%">+</tspan></text>
<text transform="translate(102.1,530.5) rotate(-45)" font-size="9.374" font-weight="bold" class="b" text-anchor="end">Day 14 NK1.1<tspan baseline-shift="super" font-size="58%">+</tspan></text>
<text transform="translate(126.9,530.5) rotate(-45)" font-size="9.374" font-weight="bold" class="b" text-anchor="end">Day 21 CD45.1<tspan baseline-shift="super" font-size="58%">+</tspan></text>
<text transform="translate(151.7,530.5) rotate(-45)" font-size="9.374" font-weight="bold" class="b" text-anchor="end">Day 21 NK1.1<tspan baseline-shift="super" font-size="58%">+</tspan></text>
<text transform="translate(176.5,530.5) rotate(-45)" font-size="9.374" font-weight="bold" class="b" text-anchor="end">Day 28 CD45.1<tspan baseline-shift="super" font-size="58%">+</tspan></text>
<text transform="translate(201.3,530.5) rotate(-45)" font-size="9.374" font-weight="bold" class="b" text-anchor="end">Day 28 NK1.1<tspan baseline-shift="super" font-size="58%">+</tspan></text>
<line x1="340.4" y1="408" x2="340.4" y2="522.5" stroke="#000" stroke-width="1.1" />
<line x1="338.2" y1="408.5" x2="340.4" y2="408.5" stroke="#000" stroke-width="0.9" />
<text x="337.8" y="410.73" font-size="6.2" font-weight="bold" text-anchor="end" fill="#000" class="b" >1000</text>
<line x1="338.2" y1="446.3" x2="340.4" y2="446.3" stroke="#000" stroke-width="0.9" />
<text x="337.8" y="448.53" font-size="6.2" font-weight="bold" text-anchor="end" fill="#000" class="b" >100</text>
<line x1="338.2" y1="484.1" x2="340.4" y2="484.1" stroke="#000" stroke-width="0.9" />
<text x="337.8" y="486.33" font-size="6.2" font-weight="bold" text-anchor="end" fill="#000" class="b" >10</text>
<line x1="338.2" y1="521.9" x2="340.4" y2="521.9" stroke="#000" stroke-width="0.9" />
<text x="337.8" y="524.13" font-size="6.2" font-weight="bold" text-anchor="end" fill="#000" class="b" >1</text>
<line x1="339.9" y1="521.9" x2="495.8" y2="521.9" stroke="#000" stroke-width="1.1" />
<text x="0" y="0" font-size="10.6" font-weight="bold" text-anchor="middle" fill="#000" class="b" transform="translate(309.7,465.5) rotate(-90)">Total cells x10<tspan baseline-shift="super" font-size="72%">3</tspan> /mL PB</text>
<text x="354" y="420" font-size="9.3" font-weight="normal" text-anchor="middle" fill="#000" >13/13</text>
<text x="386.3" y="420" font-size="9.3" font-weight="normal" text-anchor="middle" fill="#000" >13/13</text>
<text x="416.8" y="420" font-size="9.3" font-weight="normal" text-anchor="middle" fill="#000" >12/13</text>
<text x="448.4" y="420" font-size="9.3" font-weight="normal" text-anchor="middle" fill="#000" >0/13</text>
<text x="473" y="420" font-size="9.3" font-weight="normal" text-anchor="middle" fill="#000" >0/13</text>
<circle cx="351.5" cy="451.9" r="1.9"/>
<circle cx="357.3" cy="452.9" r="1.9"/>
<circle cx="363.1" cy="448.1" r="1.9"/>
<circle cx="357.3" cy="460.8" r="1.9"/>
<circle cx="351.5" cy="468.8" r="1.9"/>
<circle cx="357.3" cy="469.2" r="1.9"/>
<circle cx="363.1" cy="466.9" r="1.9"/>
<circle cx="351.5" cy="472.7" r="1.9"/>
<circle cx="363.1" cy="473.1" r="1.9"/>
<circle cx="357.3" cy="476" r="1.9"/>
<circle cx="351.5" cy="482.3" r="1.9"/>
<circle cx="357.3" cy="488.1" r="1.9"/>
<circle cx="357.3" cy="504" r="1.9"/>
<line x1="347.3" y1="465" x2="367.9" y2="465" stroke="#777" stroke-width="1.2" />
<rect x="380.25" y="464.85" width="3.29" height="3.29" fill="none" stroke="#000" stroke-width="0.95"/>
<rect x="386.05" y="467.15" width="3.29" height="3.29" fill="none" stroke="#000" stroke-width="0.95"/>
<rect x="392.15" y="465.65" width="3.29" height="3.29" fill="none" stroke="#000" stroke-width="0.95"/>
<rect x="380.25" y="473.55" width="3.29" height="3.29" fill="none" stroke="#000" stroke-width="0.95"/>
<rect x="392.15" y="475.25" width="3.29" height="3.29" fill="none" stroke="#000" stroke-width="0.95"/>
<rect x="380.25" y="477.75" width="3.29" height="3.29" fill="none" stroke="#000" stroke-width="0.95"/>
<rect x="386.05" y="478.75" width="3.29" height="3.29" fill="none" stroke="#000" stroke-width="0.95"/>
<rect x="386.05" y="486.85" width="3.29" height="3.29" fill="none" stroke="#000" stroke-width="0.95"/>
<rect x="392.15" y="486.45" width="3.29" height="3.29" fill="none" stroke="#000" stroke-width="0.95"/>
<rect x="386.05" y="493.55" width="3.29" height="3.29" fill="none" stroke="#000" stroke-width="0.95"/>
<rect x="380.25" y="502.35" width="3.29" height="3.29" fill="none" stroke="#000" stroke-width="0.95"/>
<rect x="392.15" y="503.75" width="3.29" height="3.29" fill="none" stroke="#000" stroke-width="0.95"/>
<rect x="386.05" y="506.65" width="3.29" height="3.29" fill="none" stroke="#000" stroke-width="0.95"/>
<line x1="377.5" y1="480" x2="398.7" y2="480" stroke="#222" stroke-width="1.1" />
<path d="M418.5 450.97L416.08 455.45L420.92 455.45Z"/>
<path d="M418.5 461.47L416.08 465.95L420.92 465.95Z"/>
<path d="M424.6 459.17L422.19 463.65L427.02 463.65Z"/>
<path d="M418.5 470.17L416.08 474.65L420.92 474.65Z"/>
<path d="M412.7 478.77L410.28 483.25L415.12 483.25Z"/>
<path d="M421.7 478.77L419.28 483.25L424.12 483.25Z"/>
<path d="M424.6 479.37L422.19 483.85L427.02 483.85Z"/>
<path d="M418.5 483.97L416.08 488.45L420.92 488.45Z"/>
<path d="M418.5 489.77L416.08 494.25L420.92 494.25Z"/>
<path d="M412.7 494.17L410.28 498.65L415.12 498.65Z"/>
<path d="M418.5 498.97L416.08 503.45L420.92 503.45Z"/>
<path d="M424.6 498.97L422.19 503.45L427.02 503.45Z"/>
<line x1="408.3" y1="475.6" x2="429.4" y2="475.6" stroke="#555" stroke-width="1.2" />
<text x="449.5" y="520.5" font-size="9.5" font-weight="bold" text-anchor="middle" fill="#000" class="b" >0</text>
<text x="476.4" y="520.5" font-size="9.5" font-weight="bold" text-anchor="middle" fill="#000" class="b" >0</text>
<text transform="translate(361.3,531) rotate(-45)" font-size="9.374" font-weight="bold" class="b" text-anchor="end">CD45.1<tspan baseline-shift="super" font-size="58%">+</tspan> cells</text>
<text transform="translate(391.6,531) rotate(-45)" font-size="9.374" font-weight="bold" class="b" text-anchor="end">NK cells</text>
<text transform="translate(420.8,531) rotate(-45)" font-size="9.374" font-weight="bold" class="b" text-anchor="end">T cells</text>
<text transform="translate(451.3,531) rotate(-45)" font-size="9.374" font-weight="bold" class="b" text-anchor="end">B cells</text>
<text transform="translate(481.5,531) rotate(-45)" font-size="9.374" font-weight="bold" class="b" text-anchor="end">Myeloid cells</text>
<line x1="67" y1="591" x2="67" y2="703.3" stroke="#000" stroke-width="1.1" />
<line x1="64.8" y1="591.5" x2="67" y2="591.5" stroke="#000" stroke-width="0.9" />
<text x="64.4" y="593.73" font-size="6.2" font-weight="bold" text-anchor="end" fill="#000" class="b" >10000</text>
<line x1="64.8" y1="619.3" x2="67" y2="619.3" stroke="#000" stroke-width="0.9" />
<text x="64.4" y="621.53" font-size="6.2" font-weight="bold" text-anchor="end" fill="#000" class="b" >1000</text>
<line x1="64.8" y1="647.1" x2="67" y2="647.1" stroke="#000" stroke-width="0.9" />
<text x="64.4" y="649.33" font-size="6.2" font-weight="bold" text-anchor="end" fill="#000" class="b" >100</text>
<line x1="64.8" y1="674.9" x2="67" y2="674.9" stroke="#000" stroke-width="0.9" />
<text x="64.4" y="677.13" font-size="6.2" font-weight="bold" text-anchor="end" fill="#000" class="b" >10</text>
<line x1="64.8" y1="702.7" x2="67" y2="702.7" stroke="#000" stroke-width="0.9" />
<text x="64.4" y="704.93" font-size="6.2" font-weight="bold" text-anchor="end" fill="#000" class="b" >1</text>
<line x1="66.5" y1="702.7" x2="215.4" y2="702.7" stroke="#000" stroke-width="1.1" />
<text x="0" y="0" font-size="10.3" font-weight="bold" text-anchor="middle" fill="#000" class="b" transform="translate(33.5,646) rotate(-90)">Total cells x10<tspan baseline-shift="super" font-size="72%">3</tspan> / spleen</text>
<text x="80.4" y="606.5" font-size="9.3" font-weight="normal" text-anchor="middle" fill="#000" >9/9</text>
<text x="104.4" y="606.5" font-size="9.3" font-weight="normal" text-anchor="middle" fill="#000" >9/9</text>
<text x="128.6" y="606.5" font-size="9.3" font-weight="normal" text-anchor="middle" fill="#000" >9/9</text>
<text x="156" y="606.5" font-size="9.3" font-weight="normal" text-anchor="middle" fill="#000" >9/9</text>
<text x="179.8" y="606.5" font-size="9.3" font-weight="normal" text-anchor="middle" fill="#000" >0/9</text>
<text x="199.5" y="606.5" font-size="9.3" font-weight="normal" text-anchor="middle" fill="#000" >0/9</text>
<circle cx="73.5" cy="613.9" r="1.9"/>
<circle cx="78.8" cy="615.2" r="1.9"/>
<circle cx="79.4" cy="620.9" r="1.9"/>
<circle cx="84.7" cy="620.9" r="1.9"/>
<circle cx="73.5" cy="624.5" r="1.9"/>
<circle cx="79.4" cy="630" r="1.9"/>
<circle cx="73.5" cy="634.6" r="1.9"/>
<circle cx="79.4" cy="636.3" r="1.9"/>
<circle cx="84.7" cy="635" r="1.9"/>
<line x1="70.9" y1="623.4" x2="88.3" y2="623.4" stroke="#000" stroke-width="1.1" />
<rect x="102.05" y="625.15" width="3.29" height="3.29" fill="none" stroke="#000" stroke-width="0.95"/>
<rect x="102.05" y="633.65" width="3.29" height="3.29" fill="none" stroke="#000" stroke-width="0.95"/>
<rect x="107.75" y="632.35" width="3.29" height="3.29" fill="none" stroke="#000" stroke-width="0.95"/>
<rect x="96.15" y="639.75" width="3.29" height="3.29" fill="none" stroke="#000" stroke-width="0.95"/>
<rect x="102.05" y="643.15" width="3.29" height="3.29" fill="none" stroke="#000" stroke-width="0.95"/>
<rect x="107.75" y="654.55" width="3.29" height="3.29" fill="none" stroke="#000" stroke-width="0.95"/>
<rect x="102.05" y="657.75" width="3.29" height="3.29" fill="none" stroke="#000" stroke-width="0.95"/>
<rect x="102.05" y="665.15" width="3.29" height="3.29" fill="none" stroke="#000" stroke-width="0.95"/>
<rect x="102.05" y="675.25" width="3.29" height="3.29" fill="none" stroke="#000" stroke-width="0.95"/>
<line x1="95.7" y1="641.4" x2="113.2" y2="641.4" stroke="#000" stroke-width="1.1" />
<path d="M128.9 620.47L126.48 624.96L131.31 624.96Z"/>
<path d="M122.5 631.67L120.08 636.16L124.92 636.16Z"/>
<path d="M128.9 632.07L126.48 636.56L131.31 636.56Z"/>
<path d="M132.3 630.57L129.89 635.06L134.72 635.06Z"/>
<path d="M134.8 633.17L132.39 637.66L137.22 637.66Z"/>
<path d="M122.5 636.77L120.08 641.25L124.92 641.25Z"/>
<path d="M128.9 640.57L126.48 645.06L131.31 645.06Z"/>
<path d="M128.9 649.47L126.48 653.96L131.31 653.96Z"/>
<path d="M134.8 648.57L132.39 653.06L137.22 653.06Z"/>
<line x1="120.4" y1="635.7" x2="138" y2="635.7" stroke="#000" stroke-width="1.1" />
<circle cx="153.4" cy="629.3" r="1.6" fill="none" stroke="#000" stroke-width="0.95"/>
<circle cx="148.1" cy="644.1" r="1.6" fill="none" stroke="#000" stroke-width="0.95"/>
<circle cx="153.4" cy="647.3" r="1.6" fill="none" stroke="#000" stroke-width="0.95"/>
<circle cx="156" cy="648.4" r="1.6" fill="none" stroke="#000" stroke-width="0.95"/>
<circle cx="148.1" cy="652" r="1.6" fill="none" stroke="#000" stroke-width="0.95"/>
<circle cx="153.4" cy="653.2" r="1.6" fill="none" stroke="#000" stroke-width="0.95"/>
<circle cx="159.1" cy="652" r="1.6" fill="none" stroke="#000" stroke-width="0.95"/>
<circle cx="156" cy="645.8" r="1.6" fill="none" stroke="#000" stroke-width="0.95"/>
<circle cx="150.5" cy="645.5" r="1.6" fill="none" stroke="#000" stroke-width="0.95"/>
<line x1="145" y1="644.6" x2="162.3" y2="644.6" stroke="#000" stroke-width="1.1" />
<text x="181" y="700.8" font-size="9.5" font-weight="bold" text-anchor="middle" fill="#000" class="b" >0</text>
<text x="203.6" y="700.8" font-size="9.5" font-weight="bold" text-anchor="middle" fill="#000" class="b" >0</text>
<text transform="translate(80.8,710.5) rotate(-45)" font-size="9.047" font-weight="bold" class="b" text-anchor="end">CD45.1<tspan baseline-shift="super" font-size="58%">+</tspan> cells</text>
<text transform="translate(106,710.5) rotate(-45)" font-size="9.047" font-weight="bold" class="b" text-anchor="end">NK cells</text>
<text transform="translate(130.4,710.5) rotate(-45)" font-size="9.047" font-weight="bold" class="b" text-anchor="end">T cells</text>
<text transform="translate(155.8,710.5) rotate(-45)" font-size="9.047" font-weight="bold" class="b" text-anchor="end">NK 1.1<tspan baseline-shift="super" font-size="58%">+</tspan>TCR<tspan baseline-shift="super" font-size="58%">+</tspan> T cells</text>
<text transform="translate(181.6,710.5) rotate(-45)" font-size="9.047" font-weight="bold" class="b" text-anchor="end">B cells</text>
<text transform="translate(203.8,710.5) rotate(-45)" font-size="9.047" font-weight="bold" class="b" text-anchor="end">Myeloid cells</text>
<line x1="337.5" y1="603.7" x2="337.5" y2="705.9" stroke="#000" stroke-width="1.1" />
<line x1="335.3" y1="604.2" x2="337.5" y2="604.2" stroke="#000" stroke-width="0.9" />
<text x="334.9" y="607.22" font-size="8.4" font-weight="bold" text-anchor="end" fill="#000" class="b" >1000</text>
<line x1="335.3" y1="637.9" x2="337.5" y2="637.9" stroke="#000" stroke-width="0.9" />
<text x="334.9" y="640.92" font-size="8.4" font-weight="bold" text-anchor="end" fill="#000" class="b" >100</text>
<line x1="335.3" y1="671.6" x2="337.5" y2="671.6" stroke="#000" stroke-width="0.9" />
<text x="334.9" y="674.62" font-size="8.4" font-weight="bold" text-anchor="end" fill="#000" class="b" >10</text>
<line x1="335.3" y1="705.3" x2="337.5" y2="705.3" stroke="#000" stroke-width="0.9" />
<text x="334.9" y="708.32" font-size="8.4" font-weight="bold" text-anchor="end" fill="#000" class="b" >1</text>
<line x1="337" y1="705.8" x2="490.4" y2="705.8" stroke="#000" stroke-width="1.1" />
<text x="0" y="0" font-size="10.6" font-weight="bold" text-anchor="middle" fill="#000" class="b" transform="translate(300.6,653.5) rotate(-90)">Total cells x 10<tspan baseline-shift="super" font-size="72%">3</tspan> / 2 tibiae + femora</text>
<text x="359.8" y="607" font-size="9.3" font-weight="normal" text-anchor="middle" fill="#000" >8/8</text>
<text x="397" y="607" font-size="9.3" font-weight="normal" text-anchor="middle" fill="#000" >8/8</text>
<text x="430.7" y="607" font-size="9.3" font-weight="normal" text-anchor="middle" fill="#000" >0/8</text>
<text x="464.6" y="607" font-size="9.3" font-weight="normal" text-anchor="middle" fill="#000" >0/8</text>
<circle cx="356.3" cy="615.9" r="1.9"/>
<circle cx="350.8" cy="623" r="1.9"/>
<circle cx="353.7" cy="621.3" r="1.9"/>
<circle cx="359.8" cy="622.5" r="1.9"/>
<circle cx="362.4" cy="623.4" r="1.9"/>
<circle cx="356.3" cy="625.6" r="1.9"/>
<circle cx="356.3" cy="636" r="1.9"/>
<circle cx="356.3" cy="644.7" r="1.9"/>
<line x1="343.8" y1="624.7" x2="369.8" y2="624.7" stroke="#000" stroke-width="1.1" />
<rect x="395.85" y="622.55" width="3.29" height="3.29" fill="none" stroke="#000" stroke-width="0.95"/>
<rect x="387.15" y="625.15" width="3.29" height="3.29" fill="none" stroke="#000" stroke-width="0.95"/>
<rect x="392.95" y="627.75" width="3.29" height="3.29" fill="none" stroke="#000" stroke-width="0.95"/>
<rect x="398.45" y="627.45" width="3.29" height="3.29" fill="none" stroke="#000" stroke-width="0.95"/>
<rect x="387.15" y="632.95" width="3.29" height="3.29" fill="none" stroke="#000" stroke-width="0.95"/>
<rect x="398.45" y="631.75" width="3.29" height="3.29" fill="none" stroke="#000" stroke-width="0.95"/>
<rect x="392.95" y="636.05" width="3.29" height="3.29" fill="none" stroke="#000" stroke-width="0.95"/>
<rect x="392.95" y="648.55" width="3.29" height="3.29" fill="none" stroke="#000" stroke-width="0.95"/>
<line x1="381.9" y1="631.7" x2="407.9" y2="631.7" stroke="#000" stroke-width="1.1" />
<text x="434.5" y="703.5" font-size="9.5" font-weight="bold" text-anchor="middle" fill="#000" class="b" >0</text>
<text x="470.6" y="703.5" font-size="9.5" font-weight="bold" text-anchor="middle" fill="#000" class="b" >0</text>
<text transform="translate(359.5,715.5) rotate(-45)" font-size="8.72" font-weight="bold" class="b" text-anchor="end">CD45.1<tspan baseline-shift="super" font-size="58%">+</tspan> cells</text>
<text transform="translate(396.5,715.5) rotate(-45)" font-size="8.72" font-weight="bold" class="b" text-anchor="end">NK1.1<tspan baseline-shift="super" font-size="58%">+</tspan> cells</text>
<text transform="translate(433.4,715.5) rotate(-45)" font-size="8.72" font-weight="bold" class="b" text-anchor="end">B cells</text>
<text transform="translate(472.5,715.5) rotate(-45)" font-size="8.72" font-weight="bold" class="b" text-anchor="end">Myeloid cells</text>
</svg></body></html>
